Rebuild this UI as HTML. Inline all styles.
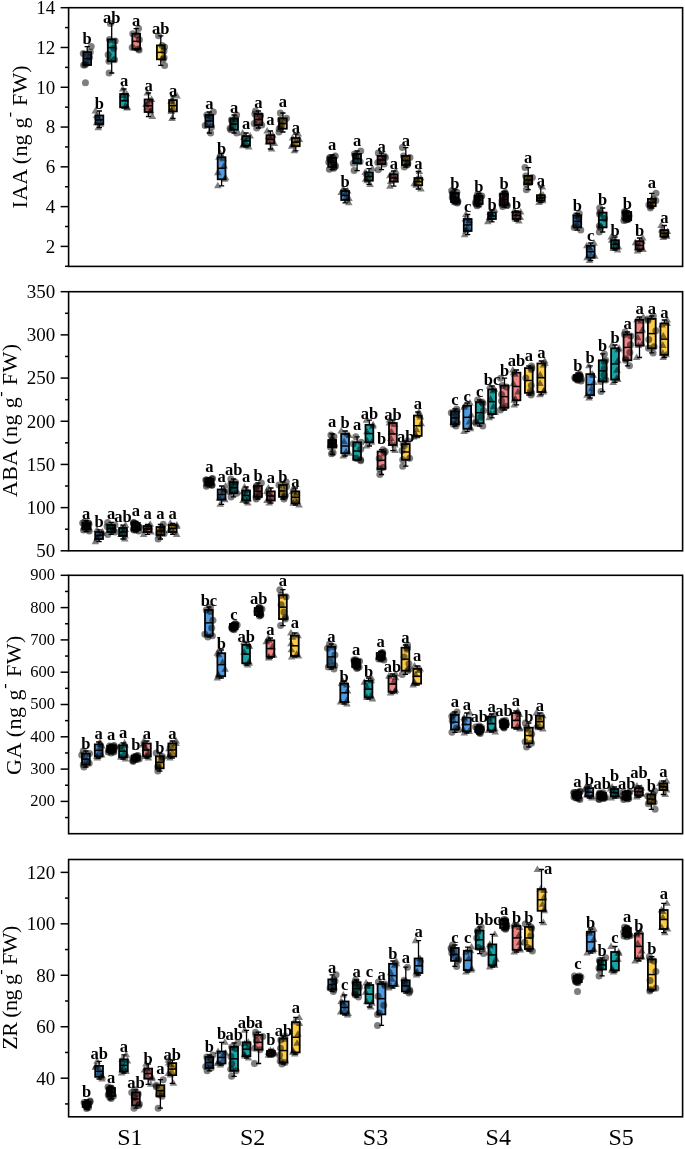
<!DOCTYPE html>
<html><head><meta charset="utf-8"><style>
html,body{margin:0;padding:0;background:#fff;overflow:hidden;width:685px;height:1149px;}
svg{display:block;will-change:transform;}
text{font-family:"Liberation Serif",serif;fill:#000;}
.tk{}
.yl{font-size:22px;}
.lab{font-size:16.5px;font-weight:bold;}
.sl{font-size:24px;}
</style></head><body>
<svg width="685" height="1149" viewBox="0 0 685 1149">
<rect width="685" height="1149" fill="#fff"/>
<path d="M60.6 246.4H68.6" stroke="#000" stroke-width="1.5"/>
<text x="55.3" y="252.8" text-anchor="end" class="tk" font-size="19">2</text>
<path d="M60.6 206.62H68.6" stroke="#000" stroke-width="1.5"/>
<text x="55.3" y="213.02" text-anchor="end" class="tk" font-size="19">4</text>
<path d="M60.6 166.83H68.6" stroke="#000" stroke-width="1.5"/>
<text x="55.3" y="173.23" text-anchor="end" class="tk" font-size="19">6</text>
<path d="M60.6 127.05H68.6" stroke="#000" stroke-width="1.5"/>
<text x="55.3" y="133.45" text-anchor="end" class="tk" font-size="19">8</text>
<path d="M60.6 87.27H68.6" stroke="#000" stroke-width="1.5"/>
<text x="55.3" y="93.67" text-anchor="end" class="tk" font-size="19">10</text>
<path d="M60.6 47.48H68.6" stroke="#000" stroke-width="1.5"/>
<text x="55.3" y="53.88" text-anchor="end" class="tk" font-size="19">12</text>
<path d="M60.6 7.7H68.6" stroke="#000" stroke-width="1.5"/>
<text x="55.3" y="14.1" text-anchor="end" class="tk" font-size="19">14</text>
<path d="M65.0 266.29H68.6" stroke="#000" stroke-width="1.5"/>
<path d="M65.0 226.51H68.6" stroke="#000" stroke-width="1.5"/>
<path d="M65.0 186.73H68.6" stroke="#000" stroke-width="1.5"/>
<path d="M65.0 146.94H68.6" stroke="#000" stroke-width="1.5"/>
<path d="M65.0 107.16H68.6" stroke="#000" stroke-width="1.5"/>
<path d="M65.0 67.38H68.6" stroke="#000" stroke-width="1.5"/>
<path d="M65.0 27.59H68.6" stroke="#000" stroke-width="1.5"/>
<rect x="68.6" y="7.7" width="614" height="258.7" fill="none" stroke="#000" stroke-width="1.6"/>
<path d="M60.6 550.8H68.6" stroke="#000" stroke-width="1.5"/>
<text x="55.3" y="557.2" text-anchor="end" class="tk" font-size="19">50</text>
<path d="M60.6 507.62H68.6" stroke="#000" stroke-width="1.5"/>
<text x="55.3" y="514.02" text-anchor="end" class="tk" font-size="19">100</text>
<path d="M60.6 464.43H68.6" stroke="#000" stroke-width="1.5"/>
<text x="55.3" y="470.83" text-anchor="end" class="tk" font-size="19">150</text>
<path d="M60.6 421.25H68.6" stroke="#000" stroke-width="1.5"/>
<text x="55.3" y="427.65" text-anchor="end" class="tk" font-size="19">200</text>
<path d="M60.6 378.07H68.6" stroke="#000" stroke-width="1.5"/>
<text x="55.3" y="384.47" text-anchor="end" class="tk" font-size="19">250</text>
<path d="M60.6 334.88H68.6" stroke="#000" stroke-width="1.5"/>
<text x="55.3" y="341.28" text-anchor="end" class="tk" font-size="19">300</text>
<path d="M60.6 291.7H68.6" stroke="#000" stroke-width="1.5"/>
<text x="55.3" y="298.1" text-anchor="end" class="tk" font-size="19">350</text>
<path d="M65.0 529.21H68.6" stroke="#000" stroke-width="1.5"/>
<path d="M65.0 486.02H68.6" stroke="#000" stroke-width="1.5"/>
<path d="M65.0 442.84H68.6" stroke="#000" stroke-width="1.5"/>
<path d="M65.0 399.66H68.6" stroke="#000" stroke-width="1.5"/>
<path d="M65.0 356.47H68.6" stroke="#000" stroke-width="1.5"/>
<path d="M65.0 313.29H68.6" stroke="#000" stroke-width="1.5"/>
<rect x="68.6" y="291.7" width="614" height="259.1" fill="none" stroke="#000" stroke-width="1.6"/>
<path d="M60.6 801.4H68.6" stroke="#000" stroke-width="1.5"/>
<text x="55.1" y="806.3" text-anchor="end" class="tk" font-size="16.5">200</text>
<path d="M60.6 769.1H68.6" stroke="#000" stroke-width="1.5"/>
<text x="55.1" y="774" text-anchor="end" class="tk" font-size="16.5">300</text>
<path d="M60.6 736.8H68.6" stroke="#000" stroke-width="1.5"/>
<text x="55.1" y="741.7" text-anchor="end" class="tk" font-size="16.5">400</text>
<path d="M60.6 704.5H68.6" stroke="#000" stroke-width="1.5"/>
<text x="55.1" y="709.4" text-anchor="end" class="tk" font-size="16.5">500</text>
<path d="M60.6 672.2H68.6" stroke="#000" stroke-width="1.5"/>
<text x="55.1" y="677.1" text-anchor="end" class="tk" font-size="16.5">600</text>
<path d="M60.6 639.9H68.6" stroke="#000" stroke-width="1.5"/>
<text x="55.1" y="644.8" text-anchor="end" class="tk" font-size="16.5">700</text>
<path d="M60.6 607.6H68.6" stroke="#000" stroke-width="1.5"/>
<text x="55.1" y="612.5" text-anchor="end" class="tk" font-size="16.5">800</text>
<path d="M60.6 575.3H68.6" stroke="#000" stroke-width="1.5"/>
<text x="55.1" y="580.2" text-anchor="end" class="tk" font-size="16.5">900</text>
<path d="M65.0 817.55H68.6" stroke="#000" stroke-width="1.5"/>
<path d="M65.0 785.25H68.6" stroke="#000" stroke-width="1.5"/>
<path d="M65.0 752.95H68.6" stroke="#000" stroke-width="1.5"/>
<path d="M65.0 720.65H68.6" stroke="#000" stroke-width="1.5"/>
<path d="M65.0 688.35H68.6" stroke="#000" stroke-width="1.5"/>
<path d="M65.0 656.05H68.6" stroke="#000" stroke-width="1.5"/>
<path d="M65.0 623.75H68.6" stroke="#000" stroke-width="1.5"/>
<path d="M65.0 591.45H68.6" stroke="#000" stroke-width="1.5"/>
<rect x="68.6" y="575.3" width="614" height="258.4" fill="none" stroke="#000" stroke-width="1.6"/>
<path d="M60.6 1078.2H68.6" stroke="#000" stroke-width="1.5"/>
<text x="55.3" y="1084.61" text-anchor="end" class="tk" font-size="19">40</text>
<path d="M60.6 1026.74H68.6" stroke="#000" stroke-width="1.5"/>
<text x="55.3" y="1033.14" text-anchor="end" class="tk" font-size="19">60</text>
<path d="M60.6 975.28H68.6" stroke="#000" stroke-width="1.5"/>
<text x="55.3" y="981.68" text-anchor="end" class="tk" font-size="19">80</text>
<path d="M60.6 923.83H68.6" stroke="#000" stroke-width="1.5"/>
<text x="55.3" y="930.23" text-anchor="end" class="tk" font-size="19">100</text>
<path d="M60.6 872.37H68.6" stroke="#000" stroke-width="1.5"/>
<text x="55.3" y="878.76" text-anchor="end" class="tk" font-size="19">120</text>
<path d="M65.0 1103.93H68.6" stroke="#000" stroke-width="1.5"/>
<path d="M65.0 1052.47H68.6" stroke="#000" stroke-width="1.5"/>
<path d="M65.0 1001.01H68.6" stroke="#000" stroke-width="1.5"/>
<path d="M65.0 949.55H68.6" stroke="#000" stroke-width="1.5"/>
<path d="M65.0 898.1H68.6" stroke="#000" stroke-width="1.5"/>
<rect x="68.6" y="859.5" width="614" height="257.3" fill="none" stroke="#000" stroke-width="1.6"/>
<text transform="translate(26.5 136.85) rotate(-90)" text-anchor="middle" class="yl" textLength="143.1" lengthAdjust="spacing">IAA (ng g<tspan dy="-11.5" font-size="16">-</tspan><tspan dy="11.5"> FW)</tspan></text>
<text transform="translate(17.1 420.55) rotate(-90)" text-anchor="middle" class="yl" textLength="153.1" lengthAdjust="spacing">ABA (ng g<tspan dy="-11.5" font-size="16">-</tspan><tspan dy="11.5"> FW)</tspan></text>
<text transform="translate(21.4 705.3) rotate(-90)" text-anchor="middle" class="yl" textLength="139.5" lengthAdjust="spacing">GA (ng g<tspan dy="-11.5" font-size="16">-</tspan><tspan dy="11.5"> FW)</tspan></text>
<text transform="translate(17.3 987.7) rotate(-90)" text-anchor="middle" class="yl" textLength="123.9" lengthAdjust="spacing">ZR (ng g<tspan dy="-11.5" font-size="16">-</tspan><tspan dy="11.5"> FW)</tspan></text>
<path d="M87.2 46.6V52.1M87.2 65V65M84.6 46.6H89.8M84.6 65H89.8" stroke="#000" stroke-width="1.3" fill="none"/>
<rect x="83.3" y="52.1" width="7.8" height="12.9" fill="#4f9ae0" fill-opacity="1" stroke="#000" stroke-width="1.8"/>
<path d="M83.3 58.55H91.1" stroke="#000" stroke-width="1.5"/>
<circle cx="91.23" cy="46.6" r="3.5" fill="#000" fill-opacity="0.5"/>
<circle cx="90.28" cy="52.1" r="3.5" fill="#000" fill-opacity="0.5"/>
<circle cx="83.57" cy="65" r="3.5" fill="#000" fill-opacity="0.5"/>
<circle cx="85.03" cy="65" r="3.5" fill="#000" fill-opacity="0.5"/>
<circle cx="83.29" cy="53.6" r="3.5" fill="#000" fill-opacity="0.5"/>
<circle cx="86.08" cy="63.5" r="3.5" fill="#000" fill-opacity="0.5"/>
<circle cx="89.54" cy="57.26" r="3.5" fill="#000" fill-opacity="0.5"/>
<circle cx="86.42" cy="55.97" r="3.5" fill="#000" fill-opacity="0.45"/>
<circle cx="87.35" cy="61.13" r="3.5" fill="#000" fill-opacity="0.45"/>
<circle cx="85.44" cy="82.8" r="3.5" fill="#000" fill-opacity="0.5"/>
<text x="87.2" y="44.01" text-anchor="middle" class="lab">b</text>
<path d="M99.4 111V115.5M99.4 124.3V127.7M96.8 111H102M96.8 127.7H102" stroke="#000" stroke-width="1.3" fill="none"/>
<rect x="95.5" y="115.5" width="7.8" height="8.8" fill="#4f9ae0" fill-opacity="1" stroke="#000" stroke-width="1.8"/>
<path d="M95.5 119.9H103.3" stroke="#000" stroke-width="1.5"/>
<path d="M95.37 106.92L99.17 113.5L91.57 113.5Z" fill="#000" fill-opacity="0.5"/>
<path d="M96.55 111.42L100.35 118L92.75 118Z" fill="#000" fill-opacity="0.5"/>
<path d="M100.56 120.22L104.36 126.8L96.76 126.8Z" fill="#000" fill-opacity="0.5"/>
<path d="M98.25 123.62L102.05 130.2L94.45 130.2Z" fill="#000" fill-opacity="0.5"/>
<path d="M97.47 112.92L101.27 119.5L93.67 119.5Z" fill="#000" fill-opacity="0.5"/>
<path d="M96.67 118.72L100.47 125.3L92.87 125.3Z" fill="#000" fill-opacity="0.5"/>
<path d="M99.61 114.06L103.41 120.64L95.81 120.64Z" fill="#000" fill-opacity="0.45"/>
<path d="M99.58 117.58L103.38 124.16L95.78 124.16Z" fill="#000" fill-opacity="0.45"/>
<text x="99.4" y="109.41" text-anchor="middle" class="lab">b</text>
<path d="M111.7 23.5V39.4M111.7 61.3V73M109.1 23.5H114.3M109.1 73H114.3" stroke="#000" stroke-width="1.3" fill="none"/>
<rect x="107.8" y="39.4" width="7.8" height="21.9" fill="#18a3a4" fill-opacity="1" stroke="#000" stroke-width="1.8"/>
<path d="M107.8 47.6H115.6" stroke="#000" stroke-width="1.5"/>
<circle cx="110.37" cy="23.5" r="3.5" fill="#000" fill-opacity="0.5"/>
<circle cx="109.51" cy="39.4" r="3.5" fill="#000" fill-opacity="0.5"/>
<circle cx="108.89" cy="61.3" r="3.5" fill="#000" fill-opacity="0.5"/>
<circle cx="109.11" cy="73" r="3.5" fill="#000" fill-opacity="0.5"/>
<circle cx="115.19" cy="40.9" r="3.5" fill="#000" fill-opacity="0.5"/>
<circle cx="114.57" cy="59.8" r="3.5" fill="#000" fill-opacity="0.5"/>
<circle cx="113.86" cy="48.16" r="3.5" fill="#000" fill-opacity="0.5"/>
<circle cx="108.16" cy="54.73" r="3.5" fill="#000" fill-opacity="0.5"/>
<text x="111.7" y="23.21" text-anchor="middle" class="lab">ab</text>
<path d="M124 89V94M124 107.3V108M121.4 89H126.6M121.4 108H126.6" stroke="#000" stroke-width="1.3" fill="none"/>
<rect x="120.1" y="94" width="7.8" height="13.3" fill="#18a3a4" fill-opacity="1" stroke="#000" stroke-width="1.8"/>
<path d="M120.1 100.65H127.9" stroke="#000" stroke-width="1.5"/>
<path d="M122.74 84.92L126.54 91.5L118.94 91.5Z" fill="#000" fill-opacity="0.5"/>
<path d="M126.68 89.92L130.48 96.5L122.88 96.5Z" fill="#000" fill-opacity="0.5"/>
<path d="M127.33 103.22L131.13 109.8L123.53 109.8Z" fill="#000" fill-opacity="0.5"/>
<path d="M126.95 103.92L130.75 110.5L123.15 110.5Z" fill="#000" fill-opacity="0.5"/>
<path d="M122.62 91.42L126.42 98L118.82 98Z" fill="#000" fill-opacity="0.5"/>
<path d="M125.53 101.72L129.33 108.3L121.73 108.3Z" fill="#000" fill-opacity="0.5"/>
<path d="M125.49 95.24L129.29 101.82L121.69 101.82Z" fill="#000" fill-opacity="0.5"/>
<text x="124" y="86.09" text-anchor="middle" class="lab">a</text>
<path d="M136.2 28.6V33.7M136.2 49V50M133.6 28.6H138.8M133.6 50H138.8" stroke="#000" stroke-width="1.3" fill="none"/>
<rect x="132.3" y="33.7" width="7.8" height="15.3" fill="#f08484" fill-opacity="1" stroke="#000" stroke-width="1.8"/>
<path d="M132.3 41.35H140.1" stroke="#000" stroke-width="1.5"/>
<circle cx="138.55" cy="28.6" r="3.5" fill="#000" fill-opacity="0.5"/>
<circle cx="132.75" cy="33.7" r="3.5" fill="#000" fill-opacity="0.5"/>
<circle cx="138.29" cy="49" r="3.5" fill="#000" fill-opacity="0.5"/>
<circle cx="139.1" cy="50" r="3.5" fill="#000" fill-opacity="0.5"/>
<circle cx="137.42" cy="35.2" r="3.5" fill="#000" fill-opacity="0.5"/>
<circle cx="132.18" cy="47.5" r="3.5" fill="#000" fill-opacity="0.5"/>
<circle cx="139.43" cy="39.82" r="3.5" fill="#000" fill-opacity="0.5"/>
<text x="136.2" y="25.9" text-anchor="middle" class="lab">a</text>
<path d="M148.5 93V99.5M148.5 112V116.5M145.9 93H151.1M145.9 116.5H151.1" stroke="#000" stroke-width="1.3" fill="none"/>
<rect x="144.6" y="99.5" width="7.8" height="12.5" fill="#f08484" fill-opacity="1" stroke="#000" stroke-width="1.8"/>
<path d="M144.6 105.75H152.4" stroke="#000" stroke-width="1.5"/>
<path d="M147.31 88.92L151.11 95.5L143.51 95.5Z" fill="#000" fill-opacity="0.5"/>
<path d="M151.57 95.42L155.37 102L147.77 102Z" fill="#000" fill-opacity="0.5"/>
<path d="M150.41 107.92L154.21 114.5L146.61 114.5Z" fill="#000" fill-opacity="0.5"/>
<path d="M152.34 112.42L156.14 119L148.54 119Z" fill="#000" fill-opacity="0.5"/>
<path d="M149.57 96.92L153.37 103.5L145.77 103.5Z" fill="#000" fill-opacity="0.5"/>
<path d="M150.64 106.42L154.44 113L146.84 113Z" fill="#000" fill-opacity="0.5"/>
<path d="M145.92 100.42L149.72 107L142.12 107Z" fill="#000" fill-opacity="0.5"/>
<path d="M147.65 99.17L151.45 105.75L143.85 105.75Z" fill="#000" fill-opacity="0.45"/>
<path d="M147.86 104.17L151.66 110.75L144.06 110.75Z" fill="#000" fill-opacity="0.45"/>
<text x="148.5" y="91.3" text-anchor="middle" class="lab">a</text>
<path d="M160.8 35.8V45.4M160.8 59.3V65.4M158.2 35.8H163.4M158.2 65.4H163.4" stroke="#000" stroke-width="1.3" fill="none"/>
<rect x="156.9" y="45.4" width="7.8" height="13.9" fill="#fdcc46" fill-opacity="1" stroke="#000" stroke-width="1.8"/>
<path d="M156.9 52.35H164.7" stroke="#000" stroke-width="1.5"/>
<circle cx="158.53" cy="35.8" r="3.5" fill="#000" fill-opacity="0.5"/>
<circle cx="162.06" cy="45.4" r="3.5" fill="#000" fill-opacity="0.5"/>
<circle cx="163.09" cy="59.3" r="3.5" fill="#000" fill-opacity="0.5"/>
<circle cx="164.63" cy="65.4" r="3.5" fill="#000" fill-opacity="0.5"/>
<circle cx="164.56" cy="46.9" r="3.5" fill="#000" fill-opacity="0.5"/>
<circle cx="164.06" cy="57.8" r="3.5" fill="#000" fill-opacity="0.5"/>
<circle cx="163.98" cy="50.96" r="3.5" fill="#000" fill-opacity="0.5"/>
<text x="160.8" y="34.41" text-anchor="middle" class="lab">ab</text>
<path d="M173 96V100.1M173 111.4V118.5M170.4 96H175.6M170.4 118.5H175.6" stroke="#000" stroke-width="1.3" fill="none"/>
<rect x="169.1" y="100.1" width="7.8" height="11.3" fill="#fdcc46" fill-opacity="1" stroke="#000" stroke-width="1.8"/>
<path d="M169.1 105.75H176.9" stroke="#000" stroke-width="1.5"/>
<path d="M177.06 91.92L180.86 98.5L173.26 98.5Z" fill="#000" fill-opacity="0.5"/>
<path d="M171.73 96.02L175.53 102.6L167.93 102.6Z" fill="#000" fill-opacity="0.5"/>
<path d="M171.26 107.32L175.06 113.9L167.46 113.9Z" fill="#000" fill-opacity="0.5"/>
<path d="M171.96 114.42L175.76 121L168.16 121Z" fill="#000" fill-opacity="0.5"/>
<path d="M171.16 97.52L174.96 104.1L167.36 104.1Z" fill="#000" fill-opacity="0.5"/>
<path d="M171.53 105.82L175.33 112.4L167.73 112.4Z" fill="#000" fill-opacity="0.5"/>
<path d="M173.1 99.41L176.9 105.99L169.3 105.99Z" fill="#000" fill-opacity="0.45"/>
<path d="M173.33 103.93L177.13 110.51L169.53 110.51Z" fill="#000" fill-opacity="0.45"/>
<text x="173" y="95.99" text-anchor="middle" class="lab">a</text>
<path d="M209.3 112V115M209.3 126.9V133M206.7 112H211.9M206.7 133H211.9" stroke="#000" stroke-width="1.3" fill="none"/>
<rect x="205.4" y="115" width="7.8" height="11.9" fill="#4f9ae0" fill-opacity="1" stroke="#000" stroke-width="1.8"/>
<path d="M205.4 120.95H213.2" stroke="#000" stroke-width="1.5"/>
<circle cx="213.35" cy="112" r="3.5" fill="#000" fill-opacity="0.5"/>
<circle cx="206.84" cy="115" r="3.5" fill="#000" fill-opacity="0.5"/>
<circle cx="211.57" cy="126.9" r="3.5" fill="#000" fill-opacity="0.5"/>
<circle cx="210.63" cy="133" r="3.5" fill="#000" fill-opacity="0.5"/>
<circle cx="210.5" cy="116.5" r="3.5" fill="#000" fill-opacity="0.5"/>
<circle cx="205.15" cy="125.4" r="3.5" fill="#000" fill-opacity="0.5"/>
<circle cx="209.12" cy="118.57" r="3.5" fill="#000" fill-opacity="0.45"/>
<circle cx="208.13" cy="123.33" r="3.5" fill="#000" fill-opacity="0.45"/>
<text x="209.3" y="109.19" text-anchor="middle" class="lab">a</text>
<path d="M221.6 153.6V157.2M221.6 179.3V185.8M219 153.6H224.2M219 185.8H224.2" stroke="#000" stroke-width="1.3" fill="none"/>
<rect x="217.7" y="157.2" width="7.8" height="22.1" fill="#4f9ae0" fill-opacity="1" stroke="#000" stroke-width="1.8"/>
<path d="M217.7 168.25H225.5" stroke="#000" stroke-width="1.5"/>
<path d="M220.27 149.52L224.07 156.1L216.47 156.1Z" fill="#000" fill-opacity="0.5"/>
<path d="M218.88 153.12L222.68 159.7L215.08 159.7Z" fill="#000" fill-opacity="0.5"/>
<path d="M224.56 175.22L228.36 181.8L220.76 181.8Z" fill="#000" fill-opacity="0.5"/>
<path d="M217.8 181.72L221.6 188.3L214 188.3Z" fill="#000" fill-opacity="0.5"/>
<path d="M223.08 154.62L226.88 161.2L219.28 161.2Z" fill="#000" fill-opacity="0.5"/>
<path d="M225.66 173.72L229.46 180.3L221.86 180.3Z" fill="#000" fill-opacity="0.5"/>
<path d="M224.12 161.96L227.92 168.54L220.32 168.54Z" fill="#000" fill-opacity="0.5"/>
<path d="M217.88 168.59L221.68 175.17L214.08 175.17Z" fill="#000" fill-opacity="0.5"/>
<text x="221.6" y="154.21" text-anchor="middle" class="lab">b</text>
<path d="M234.1 115V118.6M234.1 129.7V133M231.5 115H236.7M231.5 133H236.7" stroke="#000" stroke-width="1.3" fill="none"/>
<rect x="230.2" y="118.6" width="7.8" height="11.1" fill="#18a3a4" fill-opacity="1" stroke="#000" stroke-width="1.8"/>
<path d="M230.2 124.15H238" stroke="#000" stroke-width="1.5"/>
<circle cx="236.64" cy="115" r="3.5" fill="#000" fill-opacity="0.5"/>
<circle cx="235.37" cy="118.6" r="3.5" fill="#000" fill-opacity="0.5"/>
<circle cx="230.7" cy="129.7" r="3.5" fill="#000" fill-opacity="0.5"/>
<circle cx="236.63" cy="133" r="3.5" fill="#000" fill-opacity="0.5"/>
<circle cx="231.45" cy="120.1" r="3.5" fill="#000" fill-opacity="0.5"/>
<circle cx="230.06" cy="128.2" r="3.5" fill="#000" fill-opacity="0.5"/>
<circle cx="234.18" cy="121.93" r="3.5" fill="#000" fill-opacity="0.45"/>
<circle cx="233.04" cy="126.37" r="3.5" fill="#000" fill-opacity="0.45"/>
<text x="234.1" y="112.89" text-anchor="middle" class="lab">a</text>
<path d="M246.1 133V136.1M246.1 145.8V147M243.5 133H248.7M243.5 147H248.7" stroke="#000" stroke-width="1.3" fill="none"/>
<rect x="242.2" y="136.1" width="7.8" height="9.7" fill="#18a3a4" fill-opacity="1" stroke="#000" stroke-width="1.8"/>
<path d="M242.2 140.95H250" stroke="#000" stroke-width="1.5"/>
<path d="M242.67 128.92L246.47 135.5L238.87 135.5Z" fill="#000" fill-opacity="0.5"/>
<path d="M250.23 132.02L254.03 138.6L246.43 138.6Z" fill="#000" fill-opacity="0.5"/>
<path d="M242.87 141.72L246.67 148.3L239.07 148.3Z" fill="#000" fill-opacity="0.5"/>
<path d="M248.76 142.92L252.56 149.5L244.96 149.5Z" fill="#000" fill-opacity="0.5"/>
<path d="M243.96 133.52L247.76 140.1L240.16 140.1Z" fill="#000" fill-opacity="0.5"/>
<path d="M243.4 140.22L247.2 146.8L239.6 146.8Z" fill="#000" fill-opacity="0.5"/>
<path d="M246.94 134.93L250.74 141.51L243.14 141.51Z" fill="#000" fill-opacity="0.45"/>
<path d="M245.59 138.81L249.39 145.39L241.79 145.39Z" fill="#000" fill-opacity="0.45"/>
<text x="246.1" y="129.39" text-anchor="middle" class="lab">a</text>
<path d="M258.4 111V114M258.4 125V128M255.8 111H261M255.8 128H261" stroke="#000" stroke-width="1.3" fill="none"/>
<rect x="254.5" y="114" width="7.8" height="11" fill="#f08484" fill-opacity="1" stroke="#000" stroke-width="1.8"/>
<path d="M254.5 119.5H262.3" stroke="#000" stroke-width="1.5"/>
<circle cx="255.44" cy="111" r="3.5" fill="#000" fill-opacity="0.5"/>
<circle cx="254.82" cy="114" r="3.5" fill="#000" fill-opacity="0.5"/>
<circle cx="261.77" cy="125" r="3.5" fill="#000" fill-opacity="0.5"/>
<circle cx="256.76" cy="128" r="3.5" fill="#000" fill-opacity="0.5"/>
<circle cx="260.54" cy="115.5" r="3.5" fill="#000" fill-opacity="0.5"/>
<circle cx="254.23" cy="123.5" r="3.5" fill="#000" fill-opacity="0.5"/>
<circle cx="259.27" cy="117.3" r="3.5" fill="#000" fill-opacity="0.45"/>
<circle cx="258.32" cy="121.7" r="3.5" fill="#000" fill-opacity="0.45"/>
<text x="258.4" y="108.3" text-anchor="middle" class="lab">a</text>
<path d="M270.4 131V135.2M270.4 143.5V149M267.8 131H273M267.8 149H273" stroke="#000" stroke-width="1.3" fill="none"/>
<rect x="266.5" y="135.2" width="7.8" height="8.3" fill="#f08484" fill-opacity="1" stroke="#000" stroke-width="1.8"/>
<path d="M266.5 139.35H274.3" stroke="#000" stroke-width="1.5"/>
<path d="M267.18 126.92L270.98 133.5L263.38 133.5Z" fill="#000" fill-opacity="0.5"/>
<path d="M272.83 131.12L276.63 137.7L269.03 137.7Z" fill="#000" fill-opacity="0.5"/>
<path d="M274.46 139.42L278.26 146L270.66 146Z" fill="#000" fill-opacity="0.5"/>
<path d="M271.66 144.92L275.46 151.5L267.86 151.5Z" fill="#000" fill-opacity="0.5"/>
<path d="M268.67 132.62L272.47 139.2L264.87 139.2Z" fill="#000" fill-opacity="0.5"/>
<path d="M268.32 137.92L272.12 144.5L264.52 144.5Z" fill="#000" fill-opacity="0.5"/>
<path d="M270.35 133.61L274.15 140.19L266.55 140.19Z" fill="#000" fill-opacity="0.45"/>
<path d="M271.86 136.93L275.66 143.51L268.06 143.51Z" fill="#000" fill-opacity="0.45"/>
<text x="270.4" y="125.19" text-anchor="middle" class="lab">a</text>
<path d="M282.9 113V118.3M282.9 128.7V132M280.3 113H285.5M280.3 132H285.5" stroke="#000" stroke-width="1.3" fill="none"/>
<rect x="279" y="118.3" width="7.8" height="10.4" fill="#fdcc46" fill-opacity="1" stroke="#000" stroke-width="1.8"/>
<path d="M279 123.5H286.8" stroke="#000" stroke-width="1.5"/>
<circle cx="280.37" cy="113" r="3.5" fill="#000" fill-opacity="0.5"/>
<circle cx="286.46" cy="118.3" r="3.5" fill="#000" fill-opacity="0.5"/>
<circle cx="279.23" cy="128.7" r="3.5" fill="#000" fill-opacity="0.5"/>
<circle cx="278.99" cy="132" r="3.5" fill="#000" fill-opacity="0.5"/>
<circle cx="280.37" cy="119.8" r="3.5" fill="#000" fill-opacity="0.5"/>
<circle cx="280.51" cy="127.2" r="3.5" fill="#000" fill-opacity="0.5"/>
<circle cx="283.31" cy="121.42" r="3.5" fill="#000" fill-opacity="0.45"/>
<circle cx="281.66" cy="125.58" r="3.5" fill="#000" fill-opacity="0.45"/>
<text x="282.9" y="107.39" text-anchor="middle" class="lab">a</text>
<path d="M295.8 134V138M295.8 146.2V150.8M293.2 134H298.4M293.2 150.8H298.4" stroke="#000" stroke-width="1.3" fill="none"/>
<rect x="291.9" y="138" width="7.8" height="8.2" fill="#fdcc46" fill-opacity="1" stroke="#000" stroke-width="1.8"/>
<path d="M291.9 142.1H299.7" stroke="#000" stroke-width="1.5"/>
<path d="M298.28 129.92L302.08 136.5L294.48 136.5Z" fill="#000" fill-opacity="0.5"/>
<path d="M292.48 133.92L296.28 140.5L288.68 140.5Z" fill="#000" fill-opacity="0.5"/>
<path d="M291.62 142.12L295.42 148.7L287.82 148.7Z" fill="#000" fill-opacity="0.5"/>
<path d="M294.32 146.72L298.12 153.3L290.52 153.3Z" fill="#000" fill-opacity="0.5"/>
<path d="M299.38 135.42L303.18 142L295.58 142Z" fill="#000" fill-opacity="0.5"/>
<path d="M292.84 140.62L296.64 147.2L289.04 147.2Z" fill="#000" fill-opacity="0.5"/>
<path d="M296.09 136.38L299.89 142.96L292.29 142.96Z" fill="#000" fill-opacity="0.45"/>
<path d="M295.72 139.66L299.52 146.24L291.92 146.24Z" fill="#000" fill-opacity="0.45"/>
<text x="295.8" y="132.59" text-anchor="middle" class="lab">a</text>
<path d="M332.2 155V157.7M332.2 166.9V169.7M329.6 155H334.8M329.6 169.7H334.8" stroke="#000" stroke-width="1.3" fill="none"/>
<rect x="328.3" y="157.7" width="7.8" height="9.2" fill="#4f9ae0" fill-opacity="1" stroke="#000" stroke-width="1.8"/>
<path d="M328.3 162.3H336.1" stroke="#000" stroke-width="1.5"/>
<circle cx="335.26" cy="156" r="3.5" fill="#000" fill-opacity="0.55"/>
<circle cx="329.79" cy="157.5" r="3.5" fill="#000" fill-opacity="0.55"/>
<circle cx="332.54" cy="157.7" r="3.5" fill="#000" fill-opacity="0.55"/>
<circle cx="328.85" cy="162.3" r="3.5" fill="#000" fill-opacity="0.55"/>
<circle cx="334.3" cy="166.9" r="3.5" fill="#000" fill-opacity="0.55"/>
<circle cx="333.78" cy="168.2" r="3.5" fill="#000" fill-opacity="0.55"/>
<circle cx="329.42" cy="169.2" r="3.5" fill="#000" fill-opacity="0.55"/>
<circle cx="333.95" cy="163.3" r="3.5" fill="#000" fill-opacity="0.55"/>
<circle cx="329.67" cy="158.7" r="3.5" fill="#000" fill-opacity="0.55"/>
<circle cx="335.61" cy="165.9" r="3.5" fill="#000" fill-opacity="0.55"/>
<circle cx="331.28" cy="160.46" r="3.5" fill="#000" fill-opacity="0.45"/>
<circle cx="333.32" cy="164.14" r="3.5" fill="#000" fill-opacity="0.45"/>
<text x="332.2" y="150.09" text-anchor="middle" class="lab">a</text>
<path d="M345.1 189V191M345.1 200V202.8M342.5 189H347.7M342.5 202.8H347.7" stroke="#000" stroke-width="1.3" fill="none"/>
<rect x="341.2" y="191" width="7.8" height="9" fill="#4f9ae0" fill-opacity="1" stroke="#000" stroke-width="1.8"/>
<path d="M341.2 195.5H349" stroke="#000" stroke-width="1.5"/>
<path d="M343.29 184.92L347.09 191.5L339.49 191.5Z" fill="#000" fill-opacity="0.5"/>
<path d="M347.7 186.92L351.5 193.5L343.9 193.5Z" fill="#000" fill-opacity="0.5"/>
<path d="M346.93 195.92L350.73 202.5L343.13 202.5Z" fill="#000" fill-opacity="0.5"/>
<path d="M348.77 198.72L352.57 205.3L344.97 205.3Z" fill="#000" fill-opacity="0.5"/>
<path d="M341.19 188.42L344.99 195L337.39 195Z" fill="#000" fill-opacity="0.5"/>
<path d="M348.97 194.42L352.77 201L345.17 201Z" fill="#000" fill-opacity="0.5"/>
<path d="M345.59 189.62L349.39 196.2L341.79 196.2Z" fill="#000" fill-opacity="0.45"/>
<path d="M346.05 193.22L349.85 199.8L342.25 199.8Z" fill="#000" fill-opacity="0.45"/>
<text x="345.1" y="186.91" text-anchor="middle" class="lab">b</text>
<path d="M357.1 151V154M357.1 163.2V170.6M354.5 151H359.7M354.5 170.6H359.7" stroke="#000" stroke-width="1.3" fill="none"/>
<rect x="353.2" y="154" width="7.8" height="9.2" fill="#18a3a4" fill-opacity="1" stroke="#000" stroke-width="1.8"/>
<path d="M353.2 158.6H361" stroke="#000" stroke-width="1.5"/>
<circle cx="360.75" cy="151" r="3.5" fill="#000" fill-opacity="0.5"/>
<circle cx="354.4" cy="154" r="3.5" fill="#000" fill-opacity="0.5"/>
<circle cx="353.31" cy="163.2" r="3.5" fill="#000" fill-opacity="0.5"/>
<circle cx="354.15" cy="170.6" r="3.5" fill="#000" fill-opacity="0.5"/>
<circle cx="355.55" cy="155.5" r="3.5" fill="#000" fill-opacity="0.5"/>
<circle cx="360.08" cy="161.7" r="3.5" fill="#000" fill-opacity="0.5"/>
<circle cx="355.96" cy="156.76" r="3.5" fill="#000" fill-opacity="0.45"/>
<circle cx="355.79" cy="160.44" r="3.5" fill="#000" fill-opacity="0.45"/>
<text x="357.1" y="146.09" text-anchor="middle" class="lab">a</text>
<path d="M369 168.7V172.4M369 180.7V184.4M366.4 168.7H371.6M366.4 184.4H371.6" stroke="#000" stroke-width="1.3" fill="none"/>
<rect x="365.1" y="172.4" width="7.8" height="8.3" fill="#18a3a4" fill-opacity="1" stroke="#000" stroke-width="1.8"/>
<path d="M365.1 176.55H372.9" stroke="#000" stroke-width="1.5"/>
<path d="M372.51 164.62L376.31 171.2L368.71 171.2Z" fill="#000" fill-opacity="0.5"/>
<path d="M365.17 168.32L368.97 174.9L361.37 174.9Z" fill="#000" fill-opacity="0.5"/>
<path d="M367.2 176.62L371 183.2L363.4 183.2Z" fill="#000" fill-opacity="0.5"/>
<path d="M370.14 180.32L373.94 186.9L366.34 186.9Z" fill="#000" fill-opacity="0.5"/>
<path d="M366.38 169.82L370.18 176.4L362.58 176.4Z" fill="#000" fill-opacity="0.5"/>
<path d="M365.57 175.12L369.37 181.7L361.77 181.7Z" fill="#000" fill-opacity="0.5"/>
<path d="M370.24 170.81L374.04 177.39L366.44 177.39Z" fill="#000" fill-opacity="0.45"/>
<path d="M368.83 174.13L372.63 180.71L365.03 180.71Z" fill="#000" fill-opacity="0.45"/>
<text x="369" y="165.79" text-anchor="middle" class="lab">a</text>
<path d="M381.5 153V155.9M381.5 164.1V169.7M378.9 153H384.1M378.9 169.7H384.1" stroke="#000" stroke-width="1.3" fill="none"/>
<rect x="377.6" y="155.9" width="7.8" height="8.2" fill="#f08484" fill-opacity="1" stroke="#000" stroke-width="1.8"/>
<path d="M377.6 160H385.4" stroke="#000" stroke-width="1.5"/>
<circle cx="378.28" cy="153" r="3.5" fill="#000" fill-opacity="0.5"/>
<circle cx="384.13" cy="155.9" r="3.5" fill="#000" fill-opacity="0.5"/>
<circle cx="384.12" cy="164.1" r="3.5" fill="#000" fill-opacity="0.5"/>
<circle cx="378.26" cy="169.7" r="3.5" fill="#000" fill-opacity="0.5"/>
<circle cx="385.45" cy="157.4" r="3.5" fill="#000" fill-opacity="0.5"/>
<circle cx="377.81" cy="162.6" r="3.5" fill="#000" fill-opacity="0.5"/>
<circle cx="380.41" cy="158.36" r="3.5" fill="#000" fill-opacity="0.45"/>
<circle cx="380.36" cy="161.64" r="3.5" fill="#000" fill-opacity="0.45"/>
<text x="381.5" y="151.99" text-anchor="middle" class="lab">a</text>
<path d="M393.8 171V174.3M393.8 181.6V186.2M391.2 171H396.4M391.2 186.2H396.4" stroke="#000" stroke-width="1.3" fill="none"/>
<rect x="389.9" y="174.3" width="7.8" height="7.3" fill="#f08484" fill-opacity="1" stroke="#000" stroke-width="1.8"/>
<path d="M389.9 177.95H397.7" stroke="#000" stroke-width="1.5"/>
<path d="M395.81 166.92L399.61 173.5L392.01 173.5Z" fill="#000" fill-opacity="0.5"/>
<path d="M391.43 170.22L395.23 176.8L387.63 176.8Z" fill="#000" fill-opacity="0.5"/>
<path d="M390.66 177.52L394.46 184.1L386.86 184.1Z" fill="#000" fill-opacity="0.5"/>
<path d="M389.93 182.12L393.73 188.7L386.13 188.7Z" fill="#000" fill-opacity="0.5"/>
<path d="M389.79 171.72L393.59 178.3L385.99 178.3Z" fill="#000" fill-opacity="0.5"/>
<path d="M395.26 176.02L399.06 182.6L391.46 182.6Z" fill="#000" fill-opacity="0.5"/>
<path d="M394.95 172.41L398.75 178.99L391.15 178.99Z" fill="#000" fill-opacity="0.45"/>
<path d="M395.2 175.33L399 181.91L391.4 181.91Z" fill="#000" fill-opacity="0.45"/>
<text x="393.8" y="169.09" text-anchor="middle" class="lab">a</text>
<path d="M405.8 147.6V155.9M405.8 165V167M403.2 147.6H408.4M403.2 167H408.4" stroke="#000" stroke-width="1.3" fill="none"/>
<rect x="401.9" y="155.9" width="7.8" height="9.1" fill="#fdcc46" fill-opacity="1" stroke="#000" stroke-width="1.8"/>
<path d="M401.9 160.45H409.7" stroke="#000" stroke-width="1.5"/>
<circle cx="402.41" cy="147.6" r="3.5" fill="#000" fill-opacity="0.5"/>
<circle cx="403.53" cy="155.9" r="3.5" fill="#000" fill-opacity="0.5"/>
<circle cx="407.32" cy="165" r="3.5" fill="#000" fill-opacity="0.5"/>
<circle cx="404.28" cy="167" r="3.5" fill="#000" fill-opacity="0.5"/>
<circle cx="409.98" cy="157.4" r="3.5" fill="#000" fill-opacity="0.5"/>
<circle cx="407.89" cy="163.5" r="3.5" fill="#000" fill-opacity="0.5"/>
<circle cx="404.89" cy="158.63" r="3.5" fill="#000" fill-opacity="0.45"/>
<circle cx="405.26" cy="162.27" r="3.5" fill="#000" fill-opacity="0.45"/>
<text x="405.8" y="145.59" text-anchor="middle" class="lab">a</text>
<path d="M418.3 171.5V178M418.3 185.3V189M415.7 171.5H420.9M415.7 189H420.9" stroke="#000" stroke-width="1.3" fill="none"/>
<rect x="414.4" y="178" width="7.8" height="7.3" fill="#fdcc46" fill-opacity="1" stroke="#000" stroke-width="1.8"/>
<path d="M414.4 181.65H422.2" stroke="#000" stroke-width="1.5"/>
<path d="M419.36 167.42L423.16 174L415.56 174Z" fill="#000" fill-opacity="0.5"/>
<path d="M420.71 173.92L424.51 180.5L416.91 180.5Z" fill="#000" fill-opacity="0.5"/>
<path d="M416.07 181.22L419.87 187.8L412.27 187.8Z" fill="#000" fill-opacity="0.5"/>
<path d="M420.94 184.92L424.74 191.5L417.14 191.5Z" fill="#000" fill-opacity="0.5"/>
<path d="M416.94 175.42L420.74 182L413.14 182Z" fill="#000" fill-opacity="0.5"/>
<path d="M414.19 179.72L417.99 186.3L410.39 186.3Z" fill="#000" fill-opacity="0.5"/>
<path d="M417.11 176.11L420.91 182.69L413.31 182.69Z" fill="#000" fill-opacity="0.45"/>
<path d="M417.6 179.03L421.4 185.61L413.8 185.61Z" fill="#000" fill-opacity="0.45"/>
<text x="418.3" y="169.09" text-anchor="middle" class="lab">a</text>
<path d="M454.9 189.7V193M454.9 202V203.5M452.3 189.7H457.5M452.3 203.5H457.5" stroke="#000" stroke-width="1.3" fill="none"/>
<rect x="451" y="193" width="7.8" height="9" fill="#4f9ae0" fill-opacity="1" stroke="#000" stroke-width="1.8"/>
<path d="M451 197.5H458.8" stroke="#000" stroke-width="1.5"/>
<circle cx="451.68" cy="190.7" r="3.5" fill="#000" fill-opacity="0.55"/>
<circle cx="456.85" cy="192.2" r="3.5" fill="#000" fill-opacity="0.55"/>
<circle cx="453.29" cy="193" r="3.5" fill="#000" fill-opacity="0.55"/>
<circle cx="452.31" cy="197.5" r="3.5" fill="#000" fill-opacity="0.55"/>
<circle cx="454.36" cy="202" r="3.5" fill="#000" fill-opacity="0.55"/>
<circle cx="457.78" cy="202" r="3.5" fill="#000" fill-opacity="0.55"/>
<circle cx="457.13" cy="203" r="3.5" fill="#000" fill-opacity="0.55"/>
<circle cx="453.21" cy="198.5" r="3.5" fill="#000" fill-opacity="0.55"/>
<circle cx="452.45" cy="194" r="3.5" fill="#000" fill-opacity="0.55"/>
<circle cx="457.83" cy="201" r="3.5" fill="#000" fill-opacity="0.55"/>
<circle cx="455.11" cy="195.7" r="3.5" fill="#000" fill-opacity="0.45"/>
<circle cx="455.5" cy="199.3" r="3.5" fill="#000" fill-opacity="0.45"/>
<text x="454.9" y="188.51" text-anchor="middle" class="lab">b</text>
<path d="M467.7 214.5V219M467.7 231V234.7M465.1 214.5H470.3M465.1 234.7H470.3" stroke="#000" stroke-width="1.3" fill="none"/>
<rect x="463.8" y="219" width="7.8" height="12" fill="#4f9ae0" fill-opacity="1" stroke="#000" stroke-width="1.8"/>
<path d="M463.8 225H471.6" stroke="#000" stroke-width="1.5"/>
<path d="M465.81 210.42L469.61 217L462.01 217Z" fill="#000" fill-opacity="0.5"/>
<path d="M465.34 214.92L469.14 221.5L461.54 221.5Z" fill="#000" fill-opacity="0.5"/>
<path d="M465.84 226.92L469.64 233.5L462.04 233.5Z" fill="#000" fill-opacity="0.5"/>
<path d="M464.67 230.62L468.47 237.2L460.87 237.2Z" fill="#000" fill-opacity="0.5"/>
<path d="M468.97 216.42L472.77 223L465.17 223Z" fill="#000" fill-opacity="0.5"/>
<path d="M466.49 225.42L470.29 232L462.69 232Z" fill="#000" fill-opacity="0.5"/>
<path d="M468.79 218.52L472.59 225.1L464.99 225.1Z" fill="#000" fill-opacity="0.45"/>
<path d="M467.56 223.32L471.36 229.9L463.76 229.9Z" fill="#000" fill-opacity="0.45"/>
<text x="467.7" y="212.09" text-anchor="middle" class="lab">c</text>
<path d="M478.8 193.3V196M478.8 204V206.2M476.2 193.3H481.4M476.2 206.2H481.4" stroke="#000" stroke-width="1.3" fill="none"/>
<rect x="474.9" y="196" width="7.8" height="8" fill="#18a3a4" fill-opacity="1" stroke="#000" stroke-width="1.8"/>
<path d="M474.9 200H482.7" stroke="#000" stroke-width="1.5"/>
<circle cx="477.67" cy="194.3" r="3.5" fill="#000" fill-opacity="0.55"/>
<circle cx="479.17" cy="195.8" r="3.5" fill="#000" fill-opacity="0.55"/>
<circle cx="481.79" cy="196" r="3.5" fill="#000" fill-opacity="0.55"/>
<circle cx="477.18" cy="200" r="3.5" fill="#000" fill-opacity="0.55"/>
<circle cx="476.2" cy="204" r="3.5" fill="#000" fill-opacity="0.55"/>
<circle cx="478.99" cy="204.7" r="3.5" fill="#000" fill-opacity="0.55"/>
<circle cx="476.97" cy="205.7" r="3.5" fill="#000" fill-opacity="0.55"/>
<circle cx="476.07" cy="201" r="3.5" fill="#000" fill-opacity="0.55"/>
<circle cx="476.43" cy="197" r="3.5" fill="#000" fill-opacity="0.55"/>
<circle cx="475.65" cy="203" r="3.5" fill="#000" fill-opacity="0.55"/>
<circle cx="477.91" cy="198.4" r="3.5" fill="#000" fill-opacity="0.45"/>
<circle cx="478.24" cy="201.6" r="3.5" fill="#000" fill-opacity="0.45"/>
<text x="478.8" y="192.21" text-anchor="middle" class="lab">b</text>
<path d="M492 210V212.6M492 219V221.8M489.4 210H494.6M489.4 221.8H494.6" stroke="#000" stroke-width="1.3" fill="none"/>
<rect x="488.1" y="212.6" width="7.8" height="6.4" fill="#18a3a4" fill-opacity="1" stroke="#000" stroke-width="1.8"/>
<path d="M488.1 215.8H495.9" stroke="#000" stroke-width="1.5"/>
<path d="M494.7 205.92L498.5 212.5L490.9 212.5Z" fill="#000" fill-opacity="0.5"/>
<path d="M490.07 208.52L493.87 215.1L486.27 215.1Z" fill="#000" fill-opacity="0.5"/>
<path d="M490.13 214.92L493.93 221.5L486.33 221.5Z" fill="#000" fill-opacity="0.5"/>
<path d="M487.82 217.72L491.62 224.3L484.02 224.3Z" fill="#000" fill-opacity="0.5"/>
<path d="M490.95 210.02L494.75 216.6L487.15 216.6Z" fill="#000" fill-opacity="0.5"/>
<path d="M489.35 213.42L493.15 220L485.55 220Z" fill="#000" fill-opacity="0.5"/>
<path d="M491.24 210.44L495.04 217.02L487.44 217.02Z" fill="#000" fill-opacity="0.45"/>
<path d="M491.84 213L495.64 219.58L488.04 219.58Z" fill="#000" fill-opacity="0.45"/>
<text x="492" y="209.71" text-anchor="middle" class="lab">b</text>
<path d="M504 191.5V194M504 205V207.1M501.4 191.5H506.6M501.4 207.1H506.6" stroke="#000" stroke-width="1.3" fill="none"/>
<rect x="500.1" y="194" width="7.8" height="11" fill="#f08484" fill-opacity="1" stroke="#000" stroke-width="1.8"/>
<path d="M500.1 199.5H507.9" stroke="#000" stroke-width="1.5"/>
<circle cx="505.11" cy="192.5" r="3.5" fill="#000" fill-opacity="0.55"/>
<circle cx="505.05" cy="194" r="3.5" fill="#000" fill-opacity="0.55"/>
<circle cx="505.1" cy="194" r="3.5" fill="#000" fill-opacity="0.55"/>
<circle cx="504.32" cy="199.5" r="3.5" fill="#000" fill-opacity="0.55"/>
<circle cx="506.72" cy="205" r="3.5" fill="#000" fill-opacity="0.55"/>
<circle cx="507.29" cy="205.6" r="3.5" fill="#000" fill-opacity="0.55"/>
<circle cx="502.65" cy="206.6" r="3.5" fill="#000" fill-opacity="0.55"/>
<circle cx="502.01" cy="200.5" r="3.5" fill="#000" fill-opacity="0.55"/>
<circle cx="502.11" cy="195" r="3.5" fill="#000" fill-opacity="0.55"/>
<circle cx="501.89" cy="204" r="3.5" fill="#000" fill-opacity="0.55"/>
<circle cx="505.15" cy="197.3" r="3.5" fill="#000" fill-opacity="0.45"/>
<circle cx="504.69" cy="201.7" r="3.5" fill="#000" fill-opacity="0.45"/>
<text x="504" y="188.51" text-anchor="middle" class="lab">b</text>
<path d="M516.5 210.8V212M516.5 219V221M513.9 210.8H519.1M513.9 221H519.1" stroke="#000" stroke-width="1.3" fill="none"/>
<rect x="512.6" y="212" width="7.8" height="7" fill="#f08484" fill-opacity="1" stroke="#000" stroke-width="1.8"/>
<path d="M512.6 215.5H520.4" stroke="#000" stroke-width="1.5"/>
<path d="M514.2 206.72L518 213.3L510.4 213.3Z" fill="#000" fill-opacity="0.5"/>
<path d="M520.64 207.92L524.44 214.5L516.84 214.5Z" fill="#000" fill-opacity="0.5"/>
<path d="M515.45 214.92L519.25 221.5L511.65 221.5Z" fill="#000" fill-opacity="0.5"/>
<path d="M518.88 216.92L522.68 223.5L515.08 223.5Z" fill="#000" fill-opacity="0.5"/>
<path d="M515.23 209.42L519.03 216L511.43 216Z" fill="#000" fill-opacity="0.5"/>
<path d="M520.29 213.42L524.09 220L516.49 220Z" fill="#000" fill-opacity="0.5"/>
<path d="M517.01 210.02L520.81 216.6L513.21 216.6Z" fill="#000" fill-opacity="0.45"/>
<path d="M515.85 212.82L519.65 219.4L512.05 219.4Z" fill="#000" fill-opacity="0.45"/>
<text x="516.5" y="208.71" text-anchor="middle" class="lab">b</text>
<path d="M528.2 167.6V175.9M528.2 184.1V189.7M525.6 167.6H530.8M525.6 189.7H530.8" stroke="#000" stroke-width="1.3" fill="none"/>
<rect x="524.3" y="175.9" width="7.8" height="8.2" fill="#fdcc46" fill-opacity="1" stroke="#000" stroke-width="1.8"/>
<path d="M524.3 180H532.1" stroke="#000" stroke-width="1.5"/>
<circle cx="524.98" cy="167.6" r="3.5" fill="#000" fill-opacity="0.5"/>
<circle cx="525.73" cy="175.9" r="3.5" fill="#000" fill-opacity="0.5"/>
<circle cx="526.34" cy="184.1" r="3.5" fill="#000" fill-opacity="0.5"/>
<circle cx="526.36" cy="189.7" r="3.5" fill="#000" fill-opacity="0.5"/>
<circle cx="532.31" cy="177.4" r="3.5" fill="#000" fill-opacity="0.5"/>
<circle cx="529.98" cy="182.6" r="3.5" fill="#000" fill-opacity="0.5"/>
<circle cx="529.6" cy="178.36" r="3.5" fill="#000" fill-opacity="0.45"/>
<circle cx="527.63" cy="181.64" r="3.5" fill="#000" fill-opacity="0.45"/>
<text x="528.2" y="162.79" text-anchor="middle" class="lab">a</text>
<path d="M540.8 186.9V195.2M540.8 200.7V202.5M538.2 186.9H543.4M538.2 202.5H543.4" stroke="#000" stroke-width="1.3" fill="none"/>
<rect x="536.9" y="195.2" width="7.8" height="5.5" fill="#fdcc46" fill-opacity="1" stroke="#000" stroke-width="1.8"/>
<path d="M536.9 197.95H544.7" stroke="#000" stroke-width="1.5"/>
<path d="M542.39 182.82L546.19 189.4L538.59 189.4Z" fill="#000" fill-opacity="0.5"/>
<path d="M543.02 191.12L546.82 197.7L539.22 197.7Z" fill="#000" fill-opacity="0.5"/>
<path d="M542.69 196.62L546.49 203.2L538.89 203.2Z" fill="#000" fill-opacity="0.5"/>
<path d="M539.01 198.42L542.81 205L535.21 205Z" fill="#000" fill-opacity="0.5"/>
<path d="M539.51 192.62L543.31 199.2L535.71 199.2Z" fill="#000" fill-opacity="0.5"/>
<path d="M539.34 195.12L543.14 201.7L535.54 201.7Z" fill="#000" fill-opacity="0.5"/>
<path d="M541.06 192.77L544.86 199.35L537.26 199.35Z" fill="#000" fill-opacity="0.45"/>
<path d="M540.48 194.97L544.28 201.55L536.68 201.55Z" fill="#000" fill-opacity="0.45"/>
<text x="540.8" y="185.79" text-anchor="middle" class="lab">a</text>
<path d="M577.3 213.6V215.4M577.3 227.4V230.1M574.7 213.6H579.9M574.7 230.1H579.9" stroke="#000" stroke-width="1.3" fill="none"/>
<rect x="573.4" y="215.4" width="7.8" height="12" fill="#4f9ae0" fill-opacity="1" stroke="#000" stroke-width="1.8"/>
<path d="M573.4 221.4H581.2" stroke="#000" stroke-width="1.5"/>
<circle cx="579.27" cy="213.6" r="3.5" fill="#000" fill-opacity="0.5"/>
<circle cx="576.03" cy="215.4" r="3.5" fill="#000" fill-opacity="0.5"/>
<circle cx="574.2" cy="227.4" r="3.5" fill="#000" fill-opacity="0.5"/>
<circle cx="580.75" cy="230.1" r="3.5" fill="#000" fill-opacity="0.5"/>
<circle cx="578.78" cy="216.9" r="3.5" fill="#000" fill-opacity="0.5"/>
<circle cx="576.16" cy="225.9" r="3.5" fill="#000" fill-opacity="0.5"/>
<circle cx="578.31" cy="219" r="3.5" fill="#000" fill-opacity="0.45"/>
<circle cx="578.48" cy="223.8" r="3.5" fill="#000" fill-opacity="0.45"/>
<text x="577.3" y="210.61" text-anchor="middle" class="lab">b</text>
<path d="M590.7 243V245.8M590.7 257.7V260.5M588.1 243H593.3M588.1 260.5H593.3" stroke="#000" stroke-width="1.3" fill="none"/>
<rect x="586.8" y="245.8" width="7.8" height="11.9" fill="#4f9ae0" fill-opacity="1" stroke="#000" stroke-width="1.8"/>
<path d="M586.8 251.75H594.6" stroke="#000" stroke-width="1.5"/>
<path d="M594.05 238.92L597.85 245.5L590.25 245.5Z" fill="#000" fill-opacity="0.5"/>
<path d="M586.79 241.72L590.59 248.3L582.99 248.3Z" fill="#000" fill-opacity="0.5"/>
<path d="M587.06 253.62L590.86 260.2L583.26 260.2Z" fill="#000" fill-opacity="0.5"/>
<path d="M589.43 256.42L593.23 263L585.63 263Z" fill="#000" fill-opacity="0.5"/>
<path d="M589.27 243.22L593.07 249.8L585.47 249.8Z" fill="#000" fill-opacity="0.5"/>
<path d="M594.77 252.12L598.57 258.7L590.97 258.7Z" fill="#000" fill-opacity="0.5"/>
<path d="M590.33 245.29L594.13 251.87L586.53 251.87Z" fill="#000" fill-opacity="0.45"/>
<path d="M590.55 250.05L594.35 256.63L586.75 256.63Z" fill="#000" fill-opacity="0.45"/>
<text x="590.7" y="240.99" text-anchor="middle" class="lab">c</text>
<path d="M602.7 208V212.6M602.7 227.4V232M600.1 208H605.3M600.1 232H605.3" stroke="#000" stroke-width="1.3" fill="none"/>
<rect x="598.8" y="212.6" width="7.8" height="14.8" fill="#18a3a4" fill-opacity="1" stroke="#000" stroke-width="1.8"/>
<path d="M598.8 220H606.6" stroke="#000" stroke-width="1.5"/>
<circle cx="599.69" cy="208" r="3.5" fill="#000" fill-opacity="0.5"/>
<circle cx="600.13" cy="212.6" r="3.5" fill="#000" fill-opacity="0.5"/>
<circle cx="600.24" cy="227.4" r="3.5" fill="#000" fill-opacity="0.5"/>
<circle cx="599.31" cy="232" r="3.5" fill="#000" fill-opacity="0.5"/>
<circle cx="599.59" cy="214.1" r="3.5" fill="#000" fill-opacity="0.5"/>
<circle cx="599.31" cy="225.9" r="3.5" fill="#000" fill-opacity="0.5"/>
<circle cx="604.51" cy="218.52" r="3.5" fill="#000" fill-opacity="0.5"/>
<text x="602.7" y="205.11" text-anchor="middle" class="lab">b</text>
<path d="M615 237V240.2M615 248.5V250M612.4 237H617.6M612.4 250H617.6" stroke="#000" stroke-width="1.3" fill="none"/>
<rect x="611.1" y="240.2" width="7.8" height="8.3" fill="#18a3a4" fill-opacity="1" stroke="#000" stroke-width="1.8"/>
<path d="M611.1 244.35H618.9" stroke="#000" stroke-width="1.5"/>
<path d="M611.29 232.92L615.09 239.5L607.49 239.5Z" fill="#000" fill-opacity="0.5"/>
<path d="M611.67 236.12L615.47 242.7L607.87 242.7Z" fill="#000" fill-opacity="0.5"/>
<path d="M613.26 244.42L617.06 251L609.46 251Z" fill="#000" fill-opacity="0.5"/>
<path d="M617.58 245.92L621.38 252.5L613.78 252.5Z" fill="#000" fill-opacity="0.5"/>
<path d="M616.25 237.62L620.05 244.2L612.45 244.2Z" fill="#000" fill-opacity="0.5"/>
<path d="M618.45 242.92L622.25 249.5L614.65 249.5Z" fill="#000" fill-opacity="0.5"/>
<path d="M615.35 238.61L619.15 245.19L611.55 245.19Z" fill="#000" fill-opacity="0.45"/>
<path d="M615.43 241.93L619.23 248.51L611.63 248.51Z" fill="#000" fill-opacity="0.45"/>
<text x="615" y="236.31" text-anchor="middle" class="lab">b</text>
<path d="M627.3 210.8V212M627.3 220V221M624.7 210.8H629.9M624.7 221H629.9" stroke="#000" stroke-width="1.3" fill="none"/>
<rect x="623.4" y="212" width="7.8" height="8" fill="#f08484" fill-opacity="1" stroke="#000" stroke-width="1.8"/>
<path d="M623.4 216H631.2" stroke="#000" stroke-width="1.5"/>
<circle cx="624.34" cy="211.8" r="3.5" fill="#000" fill-opacity="0.55"/>
<circle cx="624.83" cy="213.3" r="3.5" fill="#000" fill-opacity="0.55"/>
<circle cx="625.58" cy="212" r="3.5" fill="#000" fill-opacity="0.55"/>
<circle cx="629" cy="216" r="3.5" fill="#000" fill-opacity="0.55"/>
<circle cx="625.93" cy="220" r="3.5" fill="#000" fill-opacity="0.55"/>
<circle cx="627.77" cy="219.5" r="3.5" fill="#000" fill-opacity="0.55"/>
<circle cx="623.89" cy="220.5" r="3.5" fill="#000" fill-opacity="0.55"/>
<circle cx="624.22" cy="217" r="3.5" fill="#000" fill-opacity="0.55"/>
<circle cx="625.68" cy="213" r="3.5" fill="#000" fill-opacity="0.55"/>
<circle cx="628.5" cy="219" r="3.5" fill="#000" fill-opacity="0.55"/>
<circle cx="627.88" cy="214.4" r="3.5" fill="#000" fill-opacity="0.45"/>
<circle cx="627.83" cy="217.6" r="3.5" fill="#000" fill-opacity="0.45"/>
<text x="627.3" y="208.71" text-anchor="middle" class="lab">b</text>
<path d="M639.5 238V241.2M639.5 249.4V251M636.9 238H642.1M636.9 251H642.1" stroke="#000" stroke-width="1.3" fill="none"/>
<rect x="635.6" y="241.2" width="7.8" height="8.2" fill="#f08484" fill-opacity="1" stroke="#000" stroke-width="1.8"/>
<path d="M635.6 245.3H643.4" stroke="#000" stroke-width="1.5"/>
<path d="M642.77 233.92L646.57 240.5L638.97 240.5Z" fill="#000" fill-opacity="0.5"/>
<path d="M641.99 237.12L645.79 243.7L638.19 243.7Z" fill="#000" fill-opacity="0.5"/>
<path d="M642.95 245.32L646.75 251.9L639.15 251.9Z" fill="#000" fill-opacity="0.5"/>
<path d="M637.5 246.92L641.3 253.5L633.7 253.5Z" fill="#000" fill-opacity="0.5"/>
<path d="M635.5 238.62L639.3 245.2L631.7 245.2Z" fill="#000" fill-opacity="0.5"/>
<path d="M637.57 243.82L641.37 250.4L633.77 250.4Z" fill="#000" fill-opacity="0.5"/>
<path d="M638.23 239.58L642.03 246.16L634.43 246.16Z" fill="#000" fill-opacity="0.45"/>
<path d="M639.52 242.86L643.32 249.44L635.72 249.44Z" fill="#000" fill-opacity="0.45"/>
<text x="639.5" y="236.31" text-anchor="middle" class="lab">b</text>
<path d="M651.8 193.3V198.9M651.8 206.2V208M649.2 193.3H654.4M649.2 208H654.4" stroke="#000" stroke-width="1.3" fill="none"/>
<rect x="647.9" y="198.9" width="7.8" height="7.3" fill="#fdcc46" fill-opacity="1" stroke="#000" stroke-width="1.8"/>
<path d="M647.9 202.55H655.7" stroke="#000" stroke-width="1.5"/>
<circle cx="655.98" cy="193.3" r="3.5" fill="#000" fill-opacity="0.5"/>
<circle cx="653.47" cy="198.9" r="3.5" fill="#000" fill-opacity="0.5"/>
<circle cx="650.56" cy="206.2" r="3.5" fill="#000" fill-opacity="0.5"/>
<circle cx="650.35" cy="208" r="3.5" fill="#000" fill-opacity="0.5"/>
<circle cx="655.85" cy="200.4" r="3.5" fill="#000" fill-opacity="0.5"/>
<circle cx="648.87" cy="204.7" r="3.5" fill="#000" fill-opacity="0.5"/>
<circle cx="652.2" cy="201.09" r="3.5" fill="#000" fill-opacity="0.45"/>
<circle cx="651.14" cy="204.01" r="3.5" fill="#000" fill-opacity="0.45"/>
<text x="651.8" y="188.49" text-anchor="middle" class="lab">a</text>
<path d="M664.3 225.5V230.1M664.3 236.6V237.5M661.7 225.5H666.9M661.7 237.5H666.9" stroke="#000" stroke-width="1.3" fill="none"/>
<rect x="660.4" y="230.1" width="7.8" height="6.5" fill="#fdcc46" fill-opacity="1" stroke="#000" stroke-width="1.8"/>
<path d="M660.4 233.35H668.2" stroke="#000" stroke-width="1.5"/>
<path d="M661.05 221.42L664.85 228L657.25 228Z" fill="#000" fill-opacity="0.5"/>
<path d="M661.71 226.02L665.51 232.6L657.91 232.6Z" fill="#000" fill-opacity="0.5"/>
<path d="M666.56 232.52L670.36 239.1L662.76 239.1Z" fill="#000" fill-opacity="0.5"/>
<path d="M663.29 233.42L667.09 240L659.49 240Z" fill="#000" fill-opacity="0.5"/>
<path d="M667.48 227.52L671.28 234.1L663.68 234.1Z" fill="#000" fill-opacity="0.5"/>
<path d="M666.27 231.02L670.07 237.6L662.47 237.6Z" fill="#000" fill-opacity="0.5"/>
<path d="M663.22 227.97L667.02 234.55L659.42 234.55Z" fill="#000" fill-opacity="0.45"/>
<path d="M663.83 230.57L667.63 237.15L660.03 237.15Z" fill="#000" fill-opacity="0.45"/>
<text x="664.3" y="222.59" text-anchor="middle" class="lab">a</text>
<path d="M86.2 520.6V523M86.2 529V531.6M83.6 520.6H88.8M83.6 531.6H88.8" stroke="#000" stroke-width="1.3" fill="none"/>
<rect x="82.3" y="523" width="7.8" height="6" fill="#4f9ae0" fill-opacity="1" stroke="#000" stroke-width="1.8"/>
<path d="M82.3 526H90.1" stroke="#000" stroke-width="1.5"/>
<circle cx="84.91" cy="521.6" r="3.5" fill="#000" fill-opacity="0.55"/>
<circle cx="88.58" cy="523.1" r="3.5" fill="#000" fill-opacity="0.55"/>
<circle cx="82.71" cy="523" r="3.5" fill="#000" fill-opacity="0.55"/>
<circle cx="87.96" cy="526" r="3.5" fill="#000" fill-opacity="0.55"/>
<circle cx="88.57" cy="529" r="3.5" fill="#000" fill-opacity="0.55"/>
<circle cx="83.54" cy="530.1" r="3.5" fill="#000" fill-opacity="0.55"/>
<circle cx="89.18" cy="531.1" r="3.5" fill="#000" fill-opacity="0.55"/>
<circle cx="87.69" cy="527" r="3.5" fill="#000" fill-opacity="0.55"/>
<circle cx="89.01" cy="524" r="3.5" fill="#000" fill-opacity="0.55"/>
<circle cx="84.73" cy="528" r="3.5" fill="#000" fill-opacity="0.55"/>
<circle cx="85.82" cy="524.8" r="3.5" fill="#000" fill-opacity="0.45"/>
<circle cx="85.88" cy="527.2" r="3.5" fill="#000" fill-opacity="0.45"/>
<text x="86.2" y="518.5" text-anchor="middle" class="lab">a</text>
<path d="M99.1 529.8V532M99.1 539V541.7M96.5 529.8H101.7M96.5 541.7H101.7" stroke="#000" stroke-width="1.3" fill="none"/>
<rect x="95.2" y="532" width="7.8" height="7" fill="#4f9ae0" fill-opacity="1" stroke="#000" stroke-width="1.8"/>
<path d="M95.2 535.5H103" stroke="#000" stroke-width="1.5"/>
<path d="M96.95 525.72L100.75 532.3L93.15 532.3Z" fill="#000" fill-opacity="0.5"/>
<path d="M102.52 527.92L106.32 534.5L98.72 534.5Z" fill="#000" fill-opacity="0.5"/>
<path d="M97.2 534.92L101 541.5L93.4 541.5Z" fill="#000" fill-opacity="0.5"/>
<path d="M95.43 537.62L99.23 544.2L91.63 544.2Z" fill="#000" fill-opacity="0.5"/>
<path d="M102.13 529.42L105.93 536L98.33 536Z" fill="#000" fill-opacity="0.5"/>
<path d="M97.3 533.42L101.1 540L93.5 540Z" fill="#000" fill-opacity="0.5"/>
<path d="M98.4 530.02L102.2 536.6L94.6 536.6Z" fill="#000" fill-opacity="0.45"/>
<path d="M99.13 532.82L102.93 539.4L95.33 539.4Z" fill="#000" fill-opacity="0.45"/>
<text x="99.1" y="526.81" text-anchor="middle" class="lab">b</text>
<path d="M111.1 522.4V525M111.1 532V534.4M108.5 522.4H113.7M108.5 534.4H113.7" stroke="#000" stroke-width="1.3" fill="none"/>
<rect x="107.2" y="525" width="7.8" height="7" fill="#18a3a4" fill-opacity="1" stroke="#000" stroke-width="1.8"/>
<path d="M107.2 528.5H115" stroke="#000" stroke-width="1.5"/>
<circle cx="107.63" cy="522.4" r="3.5" fill="#000" fill-opacity="0.5"/>
<circle cx="114.93" cy="525" r="3.5" fill="#000" fill-opacity="0.5"/>
<circle cx="115.02" cy="532" r="3.5" fill="#000" fill-opacity="0.5"/>
<circle cx="107.8" cy="534.4" r="3.5" fill="#000" fill-opacity="0.5"/>
<circle cx="107.11" cy="526.5" r="3.5" fill="#000" fill-opacity="0.5"/>
<circle cx="113.54" cy="530.5" r="3.5" fill="#000" fill-opacity="0.5"/>
<circle cx="111.86" cy="527.1" r="3.5" fill="#000" fill-opacity="0.45"/>
<circle cx="111.53" cy="529.9" r="3.5" fill="#000" fill-opacity="0.45"/>
<text x="111.1" y="518.5" text-anchor="middle" class="lab">a</text>
<path d="M123 525.2V528M123 536V539M120.4 525.2H125.6M120.4 539H125.6" stroke="#000" stroke-width="1.3" fill="none"/>
<rect x="119.1" y="528" width="7.8" height="8" fill="#18a3a4" fill-opacity="1" stroke="#000" stroke-width="1.8"/>
<path d="M119.1 532H126.9" stroke="#000" stroke-width="1.5"/>
<path d="M125.55 521.12L129.35 527.7L121.75 527.7Z" fill="#000" fill-opacity="0.5"/>
<path d="M121.45 523.92L125.25 530.5L117.65 530.5Z" fill="#000" fill-opacity="0.5"/>
<path d="M125.1 531.92L128.9 538.5L121.3 538.5Z" fill="#000" fill-opacity="0.5"/>
<path d="M124.82 534.92L128.62 541.5L121.02 541.5Z" fill="#000" fill-opacity="0.5"/>
<path d="M125.3 525.42L129.1 532L121.5 532Z" fill="#000" fill-opacity="0.5"/>
<path d="M121.04 530.42L124.84 537L117.24 537Z" fill="#000" fill-opacity="0.5"/>
<path d="M123.17 526.32L126.97 532.9L119.37 532.9Z" fill="#000" fill-opacity="0.45"/>
<path d="M122.68 529.52L126.48 536.1L118.88 536.1Z" fill="#000" fill-opacity="0.45"/>
<text x="123" y="522.21" text-anchor="middle" class="lab">ab</text>
<path d="M135.9 521.5V523M135.9 530V531.6M133.3 521.5H138.5M133.3 531.6H138.5" stroke="#000" stroke-width="1.3" fill="none"/>
<rect x="132" y="523" width="7.8" height="7" fill="#f08484" fill-opacity="1" stroke="#000" stroke-width="1.8"/>
<path d="M132 526.5H139.8" stroke="#000" stroke-width="1.5"/>
<circle cx="133.57" cy="522.5" r="3.5" fill="#000" fill-opacity="0.55"/>
<circle cx="133.53" cy="524" r="3.5" fill="#000" fill-opacity="0.55"/>
<circle cx="133.86" cy="523" r="3.5" fill="#000" fill-opacity="0.55"/>
<circle cx="138.74" cy="526.5" r="3.5" fill="#000" fill-opacity="0.55"/>
<circle cx="135.88" cy="530" r="3.5" fill="#000" fill-opacity="0.55"/>
<circle cx="133.94" cy="530.1" r="3.5" fill="#000" fill-opacity="0.55"/>
<circle cx="138.74" cy="531.1" r="3.5" fill="#000" fill-opacity="0.55"/>
<circle cx="139.38" cy="527.5" r="3.5" fill="#000" fill-opacity="0.55"/>
<circle cx="135.55" cy="524" r="3.5" fill="#000" fill-opacity="0.55"/>
<circle cx="133.38" cy="529" r="3.5" fill="#000" fill-opacity="0.55"/>
<circle cx="134.98" cy="525.1" r="3.5" fill="#000" fill-opacity="0.45"/>
<circle cx="134.67" cy="527.9" r="3.5" fill="#000" fill-opacity="0.45"/>
<text x="135.9" y="515.79" text-anchor="middle" class="lab">a</text>
<path d="M147.5 524.3V526M147.5 532V534.4M144.9 524.3H150.1M144.9 534.4H150.1" stroke="#000" stroke-width="1.3" fill="none"/>
<rect x="143.6" y="526" width="7.8" height="6" fill="#f08484" fill-opacity="1" stroke="#000" stroke-width="1.8"/>
<path d="M143.6 529H151.4" stroke="#000" stroke-width="1.5"/>
<path d="M150.28 520.22L154.08 526.8L146.48 526.8Z" fill="#000" fill-opacity="0.5"/>
<path d="M149.27 521.92L153.07 528.5L145.47 528.5Z" fill="#000" fill-opacity="0.5"/>
<path d="M151.09 527.92L154.89 534.5L147.29 534.5Z" fill="#000" fill-opacity="0.5"/>
<path d="M143.66 530.32L147.46 536.9L139.86 536.9Z" fill="#000" fill-opacity="0.5"/>
<path d="M149.73 523.42L153.53 530L145.93 530Z" fill="#000" fill-opacity="0.5"/>
<path d="M145.29 526.42L149.09 533L141.49 533Z" fill="#000" fill-opacity="0.5"/>
<path d="M147.01 523.72L150.81 530.3L143.21 530.3Z" fill="#000" fill-opacity="0.45"/>
<path d="M146.19 526.12L149.99 532.7L142.39 532.7Z" fill="#000" fill-opacity="0.45"/>
<text x="147.5" y="519.39" text-anchor="middle" class="lab">a</text>
<path d="M160.4 524.3V527M160.4 535V539M157.8 524.3H163M157.8 539H163" stroke="#000" stroke-width="1.3" fill="none"/>
<rect x="156.5" y="527" width="7.8" height="8" fill="#fdcc46" fill-opacity="1" stroke="#000" stroke-width="1.8"/>
<path d="M156.5 531H164.3" stroke="#000" stroke-width="1.5"/>
<circle cx="163.24" cy="524.3" r="3.5" fill="#000" fill-opacity="0.5"/>
<circle cx="161.8" cy="527" r="3.5" fill="#000" fill-opacity="0.5"/>
<circle cx="159.1" cy="535" r="3.5" fill="#000" fill-opacity="0.5"/>
<circle cx="158.17" cy="539" r="3.5" fill="#000" fill-opacity="0.5"/>
<circle cx="162.78" cy="528.5" r="3.5" fill="#000" fill-opacity="0.5"/>
<circle cx="164.12" cy="533.5" r="3.5" fill="#000" fill-opacity="0.5"/>
<circle cx="161.52" cy="529.4" r="3.5" fill="#000" fill-opacity="0.45"/>
<circle cx="158.97" cy="532.6" r="3.5" fill="#000" fill-opacity="0.45"/>
<text x="160.4" y="519.39" text-anchor="middle" class="lab">a</text>
<path d="M172.7 523.3V525M172.7 532V534.4M170.1 523.3H175.3M170.1 534.4H175.3" stroke="#000" stroke-width="1.3" fill="none"/>
<rect x="168.8" y="525" width="7.8" height="7" fill="#fdcc46" fill-opacity="1" stroke="#000" stroke-width="1.8"/>
<path d="M168.8 528.5H176.6" stroke="#000" stroke-width="1.5"/>
<path d="M170.34 519.22L174.14 525.8L166.54 525.8Z" fill="#000" fill-opacity="0.5"/>
<path d="M176.8 520.92L180.6 527.5L173 527.5Z" fill="#000" fill-opacity="0.5"/>
<path d="M173.7 527.92L177.5 534.5L169.9 534.5Z" fill="#000" fill-opacity="0.5"/>
<path d="M176.68 530.32L180.48 536.9L172.88 536.9Z" fill="#000" fill-opacity="0.5"/>
<path d="M176.81 522.42L180.61 529L173.01 529Z" fill="#000" fill-opacity="0.5"/>
<path d="M169.19 526.42L172.99 533L165.39 533Z" fill="#000" fill-opacity="0.5"/>
<path d="M171.87 523.02L175.67 529.6L168.07 529.6Z" fill="#000" fill-opacity="0.45"/>
<path d="M171.66 525.82L175.46 532.4L167.86 532.4Z" fill="#000" fill-opacity="0.45"/>
<text x="172.7" y="518.5" text-anchor="middle" class="lab">a</text>
<path d="M209.3 477.6V479M209.3 485V486.8M206.7 477.6H211.9M206.7 486.8H211.9" stroke="#000" stroke-width="1.3" fill="none"/>
<rect x="205.4" y="479" width="7.8" height="6" fill="#4f9ae0" fill-opacity="1" stroke="#000" stroke-width="1.8"/>
<path d="M205.4 482H213.2" stroke="#000" stroke-width="1.5"/>
<circle cx="212.6" cy="478.6" r="3.5" fill="#000" fill-opacity="0.55"/>
<circle cx="206.56" cy="480.1" r="3.5" fill="#000" fill-opacity="0.55"/>
<circle cx="211.58" cy="479" r="3.5" fill="#000" fill-opacity="0.55"/>
<circle cx="210.71" cy="482" r="3.5" fill="#000" fill-opacity="0.55"/>
<circle cx="211.73" cy="485" r="3.5" fill="#000" fill-opacity="0.55"/>
<circle cx="212.06" cy="485.3" r="3.5" fill="#000" fill-opacity="0.55"/>
<circle cx="206.4" cy="486.3" r="3.5" fill="#000" fill-opacity="0.55"/>
<circle cx="211.24" cy="483" r="3.5" fill="#000" fill-opacity="0.55"/>
<circle cx="205.81" cy="480" r="3.5" fill="#000" fill-opacity="0.55"/>
<circle cx="206.68" cy="484" r="3.5" fill="#000" fill-opacity="0.55"/>
<circle cx="209.51" cy="480.8" r="3.5" fill="#000" fill-opacity="0.45"/>
<circle cx="207.91" cy="483.2" r="3.5" fill="#000" fill-opacity="0.45"/>
<text x="209.3" y="471.9" text-anchor="middle" class="lab">a</text>
<path d="M221.6 486V489.5M221.6 499.7V504.3M219 486H224.2M219 504.3H224.2" stroke="#000" stroke-width="1.3" fill="none"/>
<rect x="217.7" y="489.5" width="7.8" height="10.2" fill="#4f9ae0" fill-opacity="1" stroke="#000" stroke-width="1.8"/>
<path d="M217.7 494.6H225.5" stroke="#000" stroke-width="1.5"/>
<path d="M225.68 481.92L229.48 488.5L221.88 488.5Z" fill="#000" fill-opacity="0.5"/>
<path d="M224.29 485.42L228.09 492L220.49 492Z" fill="#000" fill-opacity="0.5"/>
<path d="M224.84 495.62L228.64 502.2L221.04 502.2Z" fill="#000" fill-opacity="0.5"/>
<path d="M220.28 500.22L224.08 506.8L216.48 506.8Z" fill="#000" fill-opacity="0.5"/>
<path d="M224.28 486.92L228.08 493.5L220.48 493.5Z" fill="#000" fill-opacity="0.5"/>
<path d="M219.36 494.12L223.16 500.7L215.56 500.7Z" fill="#000" fill-opacity="0.5"/>
<path d="M220.77 488.48L224.57 495.06L216.97 495.06Z" fill="#000" fill-opacity="0.45"/>
<path d="M221.9 492.56L225.7 499.14L218.1 499.14Z" fill="#000" fill-opacity="0.45"/>
<text x="221.6" y="482" text-anchor="middle" class="lab">a</text>
<path d="M233.6 479V482.2M233.6 493.2V496.9M231 479H236.2M231 496.9H236.2" stroke="#000" stroke-width="1.3" fill="none"/>
<rect x="229.7" y="482.2" width="7.8" height="11" fill="#18a3a4" fill-opacity="1" stroke="#000" stroke-width="1.8"/>
<path d="M229.7 487.7H237.5" stroke="#000" stroke-width="1.5"/>
<circle cx="230.88" cy="479" r="3.5" fill="#000" fill-opacity="0.5"/>
<circle cx="235.49" cy="482.2" r="3.5" fill="#000" fill-opacity="0.5"/>
<circle cx="236.66" cy="493.2" r="3.5" fill="#000" fill-opacity="0.5"/>
<circle cx="231.08" cy="496.9" r="3.5" fill="#000" fill-opacity="0.5"/>
<circle cx="230.85" cy="483.7" r="3.5" fill="#000" fill-opacity="0.5"/>
<circle cx="229.53" cy="491.7" r="3.5" fill="#000" fill-opacity="0.5"/>
<circle cx="234.21" cy="485.5" r="3.5" fill="#000" fill-opacity="0.45"/>
<circle cx="233.02" cy="489.9" r="3.5" fill="#000" fill-opacity="0.45"/>
<text x="233.6" y="474.61" text-anchor="middle" class="lab">ab</text>
<path d="M246.1 487V490.5M246.1 500.6V503M243.5 487H248.7M243.5 503H248.7" stroke="#000" stroke-width="1.3" fill="none"/>
<rect x="242.2" y="490.5" width="7.8" height="10.1" fill="#18a3a4" fill-opacity="1" stroke="#000" stroke-width="1.8"/>
<path d="M242.2 495.55H250" stroke="#000" stroke-width="1.5"/>
<path d="M244.48 482.92L248.28 489.5L240.68 489.5Z" fill="#000" fill-opacity="0.5"/>
<path d="M247.36 486.42L251.16 493L243.56 493Z" fill="#000" fill-opacity="0.5"/>
<path d="M242.96 496.52L246.76 503.1L239.16 503.1Z" fill="#000" fill-opacity="0.5"/>
<path d="M247.83 498.92L251.63 505.5L244.03 505.5Z" fill="#000" fill-opacity="0.5"/>
<path d="M242.87 487.92L246.67 494.5L239.07 494.5Z" fill="#000" fill-opacity="0.5"/>
<path d="M248.26 495.02L252.06 501.6L244.46 501.6Z" fill="#000" fill-opacity="0.5"/>
<path d="M245.79 489.45L249.59 496.03L241.99 496.03Z" fill="#000" fill-opacity="0.45"/>
<path d="M244.62 493.49L248.42 500.07L240.82 500.07Z" fill="#000" fill-opacity="0.45"/>
<text x="246.1" y="482" text-anchor="middle" class="lab">a</text>
<path d="M258 483V485.9M258 496.9V499M255.4 483H260.6M255.4 499H260.6" stroke="#000" stroke-width="1.3" fill="none"/>
<rect x="254.1" y="485.9" width="7.8" height="11" fill="#f08484" fill-opacity="1" stroke="#000" stroke-width="1.8"/>
<path d="M254.1 491.4H261.9" stroke="#000" stroke-width="1.5"/>
<circle cx="261.37" cy="483" r="3.5" fill="#000" fill-opacity="0.5"/>
<circle cx="256.34" cy="485.9" r="3.5" fill="#000" fill-opacity="0.5"/>
<circle cx="256" cy="496.9" r="3.5" fill="#000" fill-opacity="0.5"/>
<circle cx="256.26" cy="499" r="3.5" fill="#000" fill-opacity="0.5"/>
<circle cx="256.15" cy="487.4" r="3.5" fill="#000" fill-opacity="0.5"/>
<circle cx="259.35" cy="495.4" r="3.5" fill="#000" fill-opacity="0.5"/>
<circle cx="258.37" cy="489.2" r="3.5" fill="#000" fill-opacity="0.45"/>
<circle cx="258.33" cy="493.6" r="3.5" fill="#000" fill-opacity="0.45"/>
<text x="258" y="481.01" text-anchor="middle" class="lab">b</text>
<path d="M270.9 488V491.4M270.9 500.6V503M268.3 488H273.5M268.3 503H273.5" stroke="#000" stroke-width="1.3" fill="none"/>
<rect x="267" y="491.4" width="7.8" height="9.2" fill="#f08484" fill-opacity="1" stroke="#000" stroke-width="1.8"/>
<path d="M267 496H274.8" stroke="#000" stroke-width="1.5"/>
<path d="M268.35 483.92L272.15 490.5L264.55 490.5Z" fill="#000" fill-opacity="0.5"/>
<path d="M266.86 487.32L270.66 493.9L263.06 493.9Z" fill="#000" fill-opacity="0.5"/>
<path d="M266.95 496.52L270.75 503.1L263.15 503.1Z" fill="#000" fill-opacity="0.5"/>
<path d="M269.22 498.92L273.02 505.5L265.42 505.5Z" fill="#000" fill-opacity="0.5"/>
<path d="M268.57 488.82L272.37 495.4L264.77 495.4Z" fill="#000" fill-opacity="0.5"/>
<path d="M269.31 495.02L273.11 501.6L265.51 501.6Z" fill="#000" fill-opacity="0.5"/>
<path d="M270.75 490.08L274.55 496.66L266.95 496.66Z" fill="#000" fill-opacity="0.45"/>
<path d="M271.54 493.76L275.34 500.34L267.74 500.34Z" fill="#000" fill-opacity="0.45"/>
<text x="270.9" y="482.9" text-anchor="middle" class="lab">a</text>
<path d="M282.9 482V485M282.9 496.9V499M280.3 482H285.5M280.3 499H285.5" stroke="#000" stroke-width="1.3" fill="none"/>
<rect x="279" y="485" width="7.8" height="11.9" fill="#fdcc46" fill-opacity="1" stroke="#000" stroke-width="1.8"/>
<path d="M279 490.95H286.8" stroke="#000" stroke-width="1.5"/>
<circle cx="286.24" cy="482" r="3.5" fill="#000" fill-opacity="0.5"/>
<circle cx="278.92" cy="485" r="3.5" fill="#000" fill-opacity="0.5"/>
<circle cx="284.51" cy="496.9" r="3.5" fill="#000" fill-opacity="0.5"/>
<circle cx="284" cy="499" r="3.5" fill="#000" fill-opacity="0.5"/>
<circle cx="286.59" cy="486.5" r="3.5" fill="#000" fill-opacity="0.5"/>
<circle cx="285.32" cy="495.4" r="3.5" fill="#000" fill-opacity="0.5"/>
<circle cx="281.73" cy="488.57" r="3.5" fill="#000" fill-opacity="0.45"/>
<circle cx="281.63" cy="493.33" r="3.5" fill="#000" fill-opacity="0.45"/>
<text x="282.9" y="481.91" text-anchor="middle" class="lab">b</text>
<path d="M295.4 488V491.4M295.4 503.3V505M292.8 488H298M292.8 505H298" stroke="#000" stroke-width="1.3" fill="none"/>
<rect x="291.5" y="491.4" width="7.8" height="11.9" fill="#fdcc46" fill-opacity="1" stroke="#000" stroke-width="1.8"/>
<path d="M291.5 497.35H299.3" stroke="#000" stroke-width="1.5"/>
<path d="M293.28 483.92L297.08 490.5L289.48 490.5Z" fill="#000" fill-opacity="0.5"/>
<path d="M292.6 487.32L296.4 493.9L288.8 493.9Z" fill="#000" fill-opacity="0.5"/>
<path d="M293.18 499.22L296.98 505.8L289.38 505.8Z" fill="#000" fill-opacity="0.5"/>
<path d="M299.03 500.92L302.83 507.5L295.23 507.5Z" fill="#000" fill-opacity="0.5"/>
<path d="M296.68 488.82L300.48 495.4L292.88 495.4Z" fill="#000" fill-opacity="0.5"/>
<path d="M297.03 497.72L300.83 504.3L293.23 504.3Z" fill="#000" fill-opacity="0.5"/>
<path d="M295.52 490.89L299.32 497.47L291.72 497.47Z" fill="#000" fill-opacity="0.45"/>
<path d="M295.24 495.65L299.04 502.23L291.44 502.23Z" fill="#000" fill-opacity="0.45"/>
<text x="295.4" y="486.6" text-anchor="middle" class="lab">a</text>
<path d="M332.2 434V440M332.2 447V454.3M329.6 434H334.8M329.6 454.3H334.8" stroke="#000" stroke-width="1.3" fill="none"/>
<rect x="328.3" y="440" width="7.8" height="7" fill="#4f9ae0" fill-opacity="1" stroke="#000" stroke-width="1.8"/>
<path d="M328.3 443.5H336.1" stroke="#000" stroke-width="1.5"/>
<circle cx="330.96" cy="435" r="3.5" fill="#000" fill-opacity="0.55"/>
<circle cx="333.86" cy="436.5" r="3.5" fill="#000" fill-opacity="0.55"/>
<circle cx="332.02" cy="440" r="3.5" fill="#000" fill-opacity="0.55"/>
<circle cx="333.12" cy="443.5" r="3.5" fill="#000" fill-opacity="0.55"/>
<circle cx="330.44" cy="447" r="3.5" fill="#000" fill-opacity="0.55"/>
<circle cx="333.08" cy="452.8" r="3.5" fill="#000" fill-opacity="0.55"/>
<circle cx="331.53" cy="453.8" r="3.5" fill="#000" fill-opacity="0.55"/>
<circle cx="331.33" cy="444.5" r="3.5" fill="#000" fill-opacity="0.55"/>
<circle cx="331.95" cy="441" r="3.5" fill="#000" fill-opacity="0.55"/>
<circle cx="334.32" cy="446" r="3.5" fill="#000" fill-opacity="0.55"/>
<circle cx="330.89" cy="442.1" r="3.5" fill="#000" fill-opacity="0.45"/>
<circle cx="331.28" cy="444.9" r="3.5" fill="#000" fill-opacity="0.45"/>
<text x="332.2" y="427.4" text-anchor="middle" class="lab">a</text>
<path d="M345.1 431V434M345.1 453.3V456M342.5 431H347.7M342.5 456H347.7" stroke="#000" stroke-width="1.3" fill="none"/>
<rect x="341.2" y="434" width="7.8" height="19.3" fill="#4f9ae0" fill-opacity="1" stroke="#000" stroke-width="1.8"/>
<path d="M341.2 446H349" stroke="#000" stroke-width="1.5"/>
<path d="M341.22 426.92L345.02 433.5L337.42 433.5Z" fill="#000" fill-opacity="0.5"/>
<path d="M347.26 429.92L351.06 436.5L343.46 436.5Z" fill="#000" fill-opacity="0.5"/>
<path d="M349.16 449.22L352.96 455.8L345.36 455.8Z" fill="#000" fill-opacity="0.5"/>
<path d="M343.26 451.92L347.06 458.5L339.46 458.5Z" fill="#000" fill-opacity="0.5"/>
<path d="M349.06 431.42L352.86 438L345.26 438Z" fill="#000" fill-opacity="0.5"/>
<path d="M346.11 447.72L349.91 454.3L342.31 454.3Z" fill="#000" fill-opacity="0.5"/>
<path d="M344.02 437.64L347.82 444.22L340.22 444.22Z" fill="#000" fill-opacity="0.5"/>
<text x="345.1" y="428.21" text-anchor="middle" class="lab">b</text>
<path d="M357.1 436.8V442.3M357.1 459.8V460.7M354.5 436.8H359.7M354.5 460.7H359.7" stroke="#000" stroke-width="1.3" fill="none"/>
<rect x="353.2" y="442.3" width="7.8" height="17.5" fill="#18a3a4" fill-opacity="1" stroke="#000" stroke-width="1.8"/>
<path d="M353.2 451.05H361" stroke="#000" stroke-width="1.5"/>
<circle cx="355.76" cy="436.8" r="3.5" fill="#000" fill-opacity="0.5"/>
<circle cx="361.15" cy="442.3" r="3.5" fill="#000" fill-opacity="0.5"/>
<circle cx="360.63" cy="459.8" r="3.5" fill="#000" fill-opacity="0.5"/>
<circle cx="360.71" cy="460.7" r="3.5" fill="#000" fill-opacity="0.5"/>
<circle cx="353.13" cy="443.8" r="3.5" fill="#000" fill-opacity="0.5"/>
<circle cx="356.07" cy="458.3" r="3.5" fill="#000" fill-opacity="0.5"/>
<circle cx="360.73" cy="449.3" r="3.5" fill="#000" fill-opacity="0.5"/>
<text x="357.1" y="430.1" text-anchor="middle" class="lab">a</text>
<path d="M369.4 420.2V424.8M369.4 442.3V446M366.8 420.2H372M366.8 446H372" stroke="#000" stroke-width="1.3" fill="none"/>
<rect x="365.5" y="424.8" width="7.8" height="17.5" fill="#18a3a4" fill-opacity="1" stroke="#000" stroke-width="1.8"/>
<path d="M365.5 433.55H373.3" stroke="#000" stroke-width="1.5"/>
<path d="M366.46 416.12L370.26 422.7L362.66 422.7Z" fill="#000" fill-opacity="0.5"/>
<path d="M373.16 420.72L376.96 427.3L369.36 427.3Z" fill="#000" fill-opacity="0.5"/>
<path d="M371.56 438.22L375.36 444.8L367.76 444.8Z" fill="#000" fill-opacity="0.5"/>
<path d="M366.76 441.92L370.56 448.5L362.96 448.5Z" fill="#000" fill-opacity="0.5"/>
<path d="M372.81 422.22L376.61 428.8L369.01 428.8Z" fill="#000" fill-opacity="0.5"/>
<path d="M367.1 436.72L370.9 443.3L363.3 443.3Z" fill="#000" fill-opacity="0.5"/>
<path d="M366.86 427.72L370.66 434.3L363.06 434.3Z" fill="#000" fill-opacity="0.5"/>
<text x="369.4" y="419.11" text-anchor="middle" class="lab">ab</text>
<path d="M381.5 449.7V451.5M381.5 469V474.5M378.9 449.7H384.1M378.9 474.5H384.1" stroke="#000" stroke-width="1.3" fill="none"/>
<rect x="377.6" y="451.5" width="7.8" height="17.5" fill="#f08484" fill-opacity="1" stroke="#000" stroke-width="1.8"/>
<path d="M377.6 460.25H385.4" stroke="#000" stroke-width="1.5"/>
<circle cx="383.01" cy="449.7" r="3.5" fill="#000" fill-opacity="0.5"/>
<circle cx="385.33" cy="451.5" r="3.5" fill="#000" fill-opacity="0.5"/>
<circle cx="379.65" cy="469" r="3.5" fill="#000" fill-opacity="0.5"/>
<circle cx="379.83" cy="474.5" r="3.5" fill="#000" fill-opacity="0.5"/>
<circle cx="384.1" cy="453" r="3.5" fill="#000" fill-opacity="0.5"/>
<circle cx="383.05" cy="467.5" r="3.5" fill="#000" fill-opacity="0.5"/>
<circle cx="379.17" cy="458.5" r="3.5" fill="#000" fill-opacity="0.5"/>
<text x="381.5" y="443.91" text-anchor="middle" class="lab">b</text>
<path d="M392.9 420V423M392.9 445V450.6M390.3 420H395.5M390.3 450.6H395.5" stroke="#000" stroke-width="1.3" fill="none"/>
<rect x="389" y="423" width="7.8" height="22" fill="#f08484" fill-opacity="1" stroke="#000" stroke-width="1.8"/>
<path d="M389 434H396.8" stroke="#000" stroke-width="1.5"/>
<path d="M389.51 415.92L393.31 422.5L385.71 422.5Z" fill="#000" fill-opacity="0.5"/>
<path d="M389.4 418.92L393.2 425.5L385.6 425.5Z" fill="#000" fill-opacity="0.5"/>
<path d="M394.84 440.92L398.64 447.5L391.04 447.5Z" fill="#000" fill-opacity="0.5"/>
<path d="M395.09 446.52L398.89 453.1L391.29 453.1Z" fill="#000" fill-opacity="0.5"/>
<path d="M394.54 420.42L398.34 427L390.74 427Z" fill="#000" fill-opacity="0.5"/>
<path d="M391.31 439.42L395.11 446L387.51 446Z" fill="#000" fill-opacity="0.5"/>
<path d="M391.41 427.72L395.21 434.3L387.61 434.3Z" fill="#000" fill-opacity="0.5"/>
<path d="M390.86 434.32L394.66 440.9L387.06 440.9Z" fill="#000" fill-opacity="0.5"/>
<text x="392.9" y="420.01" text-anchor="middle" class="lab">ab</text>
<path d="M405.8 441V444.1M405.8 459.8V466.2M403.2 441H408.4M403.2 466.2H408.4" stroke="#000" stroke-width="1.3" fill="none"/>
<rect x="401.9" y="444.1" width="7.8" height="15.7" fill="#fdcc46" fill-opacity="1" stroke="#000" stroke-width="1.8"/>
<path d="M401.9 451.95H409.7" stroke="#000" stroke-width="1.5"/>
<circle cx="407.61" cy="441" r="3.5" fill="#000" fill-opacity="0.5"/>
<circle cx="403.18" cy="444.1" r="3.5" fill="#000" fill-opacity="0.5"/>
<circle cx="402.72" cy="459.8" r="3.5" fill="#000" fill-opacity="0.5"/>
<circle cx="402.71" cy="466.2" r="3.5" fill="#000" fill-opacity="0.5"/>
<circle cx="404.47" cy="445.6" r="3.5" fill="#000" fill-opacity="0.5"/>
<circle cx="409.63" cy="458.3" r="3.5" fill="#000" fill-opacity="0.5"/>
<circle cx="402.11" cy="450.38" r="3.5" fill="#000" fill-opacity="0.5"/>
<text x="405.8" y="442.11" text-anchor="middle" class="lab">ab</text>
<path d="M417.8 412V415.6M417.8 435.9V437M415.2 412H420.4M415.2 437H420.4" stroke="#000" stroke-width="1.3" fill="none"/>
<rect x="413.9" y="415.6" width="7.8" height="20.3" fill="#fdcc46" fill-opacity="1" stroke="#000" stroke-width="1.8"/>
<path d="M413.9 425.75H421.7" stroke="#000" stroke-width="1.5"/>
<path d="M418.93 407.92L422.73 414.5L415.13 414.5Z" fill="#000" fill-opacity="0.5"/>
<path d="M419.55 411.52L423.35 418.1L415.75 418.1Z" fill="#000" fill-opacity="0.5"/>
<path d="M416.19 431.82L419.99 438.4L412.39 438.4Z" fill="#000" fill-opacity="0.5"/>
<path d="M413.82 432.92L417.62 439.5L410.02 439.5Z" fill="#000" fill-opacity="0.5"/>
<path d="M420.44 413.02L424.24 419.6L416.64 419.6Z" fill="#000" fill-opacity="0.5"/>
<path d="M415.36 430.32L419.16 436.9L411.56 436.9Z" fill="#000" fill-opacity="0.5"/>
<path d="M421.28 419.64L425.08 426.22L417.48 426.22Z" fill="#000" fill-opacity="0.5"/>
<path d="M416.46 425.73L420.26 432.31L412.66 432.31Z" fill="#000" fill-opacity="0.5"/>
<text x="417.8" y="409" text-anchor="middle" class="lab">a</text>
<path d="M454.9 409V411.3M454.9 424.2V426M452.3 409H457.5M452.3 426H457.5" stroke="#000" stroke-width="1.3" fill="none"/>
<rect x="451" y="411.3" width="7.8" height="12.9" fill="#4f9ae0" fill-opacity="1" stroke="#000" stroke-width="1.8"/>
<path d="M451 417.75H458.8" stroke="#000" stroke-width="1.5"/>
<circle cx="456.6" cy="409" r="3.5" fill="#000" fill-opacity="0.5"/>
<circle cx="456.99" cy="411.3" r="3.5" fill="#000" fill-opacity="0.5"/>
<circle cx="453.25" cy="424.2" r="3.5" fill="#000" fill-opacity="0.5"/>
<circle cx="456.02" cy="426" r="3.5" fill="#000" fill-opacity="0.5"/>
<circle cx="451.29" cy="412.8" r="3.5" fill="#000" fill-opacity="0.5"/>
<circle cx="457.21" cy="422.7" r="3.5" fill="#000" fill-opacity="0.5"/>
<circle cx="456.49" cy="416.46" r="3.5" fill="#000" fill-opacity="0.5"/>
<circle cx="454.34" cy="415.17" r="3.5" fill="#000" fill-opacity="0.45"/>
<circle cx="454.01" cy="420.33" r="3.5" fill="#000" fill-opacity="0.45"/>
<text x="454.9" y="404.7" text-anchor="middle" class="lab">c</text>
<path d="M467.2 403V405.8M467.2 428.8V431.6M464.6 403H469.8M464.6 431.6H469.8" stroke="#000" stroke-width="1.3" fill="none"/>
<rect x="463.3" y="405.8" width="7.8" height="23" fill="#4f9ae0" fill-opacity="1" stroke="#000" stroke-width="1.8"/>
<path d="M463.3 417.3H471.1" stroke="#000" stroke-width="1.5"/>
<path d="M469.95 398.92L473.75 405.5L466.15 405.5Z" fill="#000" fill-opacity="0.5"/>
<path d="M464.89 401.72L468.69 408.3L461.09 408.3Z" fill="#000" fill-opacity="0.5"/>
<path d="M470.32 424.72L474.12 431.3L466.52 431.3Z" fill="#000" fill-opacity="0.5"/>
<path d="M464.15 427.52L467.95 434.1L460.35 434.1Z" fill="#000" fill-opacity="0.5"/>
<path d="M464.11 403.22L467.91 409.8L460.31 409.8Z" fill="#000" fill-opacity="0.5"/>
<path d="M470.43 423.22L474.23 429.8L466.63 429.8Z" fill="#000" fill-opacity="0.5"/>
<path d="M471.36 410.92L475.16 417.5L467.56 417.5Z" fill="#000" fill-opacity="0.5"/>
<path d="M469.54 417.82L473.34 424.4L465.74 424.4Z" fill="#000" fill-opacity="0.5"/>
<text x="467.2" y="401.9" text-anchor="middle" class="lab">c</text>
<path d="M479.7 400V402.1M479.7 423.3V426M477.1 400H482.3M477.1 426H482.3" stroke="#000" stroke-width="1.3" fill="none"/>
<rect x="475.8" y="402.1" width="7.8" height="21.2" fill="#18a3a4" fill-opacity="1" stroke="#000" stroke-width="1.8"/>
<path d="M475.8 412.7H483.6" stroke="#000" stroke-width="1.5"/>
<circle cx="477.7" cy="400" r="3.5" fill="#000" fill-opacity="0.5"/>
<circle cx="482.03" cy="402.1" r="3.5" fill="#000" fill-opacity="0.5"/>
<circle cx="475.93" cy="423.3" r="3.5" fill="#000" fill-opacity="0.5"/>
<circle cx="482.76" cy="426" r="3.5" fill="#000" fill-opacity="0.5"/>
<circle cx="483.03" cy="403.6" r="3.5" fill="#000" fill-opacity="0.5"/>
<circle cx="475.69" cy="421.8" r="3.5" fill="#000" fill-opacity="0.5"/>
<circle cx="483.59" cy="410.58" r="3.5" fill="#000" fill-opacity="0.5"/>
<circle cx="481.06" cy="416.94" r="3.5" fill="#000" fill-opacity="0.5"/>
<text x="479.7" y="397.3" text-anchor="middle" class="lab">c</text>
<path d="M492 386V389.3M492 414.1V417.8M489.4 386H494.6M489.4 417.8H494.6" stroke="#000" stroke-width="1.3" fill="none"/>
<rect x="488.1" y="389.3" width="7.8" height="24.8" fill="#18a3a4" fill-opacity="1" stroke="#000" stroke-width="1.8"/>
<path d="M488.1 401.7H495.9" stroke="#000" stroke-width="1.5"/>
<path d="M489.7 381.92L493.5 388.5L485.9 388.5Z" fill="#000" fill-opacity="0.5"/>
<path d="M494.47 385.22L498.27 391.8L490.67 391.8Z" fill="#000" fill-opacity="0.5"/>
<path d="M490.58 410.02L494.38 416.6L486.78 416.6Z" fill="#000" fill-opacity="0.5"/>
<path d="M489.24 413.72L493.04 420.3L485.44 420.3Z" fill="#000" fill-opacity="0.5"/>
<path d="M493.28 386.72L497.08 393.3L489.48 393.3Z" fill="#000" fill-opacity="0.5"/>
<path d="M495.36 408.52L499.16 415.1L491.56 415.1Z" fill="#000" fill-opacity="0.5"/>
<path d="M490.53 395.14L494.33 401.72L486.73 401.72Z" fill="#000" fill-opacity="0.5"/>
<path d="M493.52 402.58L497.32 409.16L489.72 409.16Z" fill="#000" fill-opacity="0.5"/>
<text x="492" y="385.31" text-anchor="middle" class="lab">bc</text>
<path d="M504.5 378.2V385.6M504.5 407.7V410M501.9 378.2H507.1M501.9 410H507.1" stroke="#000" stroke-width="1.3" fill="none"/>
<rect x="500.6" y="385.6" width="7.8" height="22.1" fill="#f08484" fill-opacity="1" stroke="#000" stroke-width="1.8"/>
<path d="M500.6 396.65H508.4" stroke="#000" stroke-width="1.5"/>
<circle cx="500.54" cy="378.2" r="3.5" fill="#000" fill-opacity="0.5"/>
<circle cx="502.27" cy="385.6" r="3.5" fill="#000" fill-opacity="0.5"/>
<circle cx="502.53" cy="407.7" r="3.5" fill="#000" fill-opacity="0.5"/>
<circle cx="500.38" cy="410" r="3.5" fill="#000" fill-opacity="0.5"/>
<circle cx="506.51" cy="387.1" r="3.5" fill="#000" fill-opacity="0.5"/>
<circle cx="505.78" cy="406.2" r="3.5" fill="#000" fill-opacity="0.5"/>
<circle cx="501.45" cy="394.44" r="3.5" fill="#000" fill-opacity="0.5"/>
<circle cx="501.51" cy="401.07" r="3.5" fill="#000" fill-opacity="0.5"/>
<text x="504.5" y="376.21" text-anchor="middle" class="lab">b</text>
<path d="M516.5 370V372.7M516.5 400.3V404.9M513.9 370H519.1M513.9 404.9H519.1" stroke="#000" stroke-width="1.3" fill="none"/>
<rect x="512.6" y="372.7" width="7.8" height="27.6" fill="#f08484" fill-opacity="1" stroke="#000" stroke-width="1.8"/>
<path d="M512.6 386.5H520.4" stroke="#000" stroke-width="1.5"/>
<path d="M512.85 365.92L516.65 372.5L509.05 372.5Z" fill="#000" fill-opacity="0.5"/>
<path d="M513.69 368.62L517.49 375.2L509.89 375.2Z" fill="#000" fill-opacity="0.5"/>
<path d="M514.22 396.22L518.02 402.8L510.42 402.8Z" fill="#000" fill-opacity="0.5"/>
<path d="M514.27 400.82L518.07 407.4L510.47 407.4Z" fill="#000" fill-opacity="0.5"/>
<path d="M515.02 370.12L518.82 376.7L511.22 376.7Z" fill="#000" fill-opacity="0.5"/>
<path d="M515.37 394.72L519.17 401.3L511.57 401.3Z" fill="#000" fill-opacity="0.5"/>
<path d="M513.36 379.66L517.16 386.24L509.56 386.24Z" fill="#000" fill-opacity="0.5"/>
<path d="M517.88 387.94L521.68 394.52L514.08 394.52Z" fill="#000" fill-opacity="0.5"/>
<text x="516.5" y="366.01" text-anchor="middle" class="lab">ab</text>
<path d="M528.8 366V368.1M528.8 392.9V395M526.2 366H531.4M526.2 395H531.4" stroke="#000" stroke-width="1.3" fill="none"/>
<rect x="524.9" y="368.1" width="7.8" height="24.8" fill="#fdcc46" fill-opacity="1" stroke="#000" stroke-width="1.8"/>
<path d="M524.9 380.5H532.7" stroke="#000" stroke-width="1.5"/>
<circle cx="531.56" cy="366" r="3.5" fill="#000" fill-opacity="0.5"/>
<circle cx="531.88" cy="368.1" r="3.5" fill="#000" fill-opacity="0.5"/>
<circle cx="531.66" cy="392.9" r="3.5" fill="#000" fill-opacity="0.5"/>
<circle cx="531.05" cy="395" r="3.5" fill="#000" fill-opacity="0.5"/>
<circle cx="531.23" cy="369.6" r="3.5" fill="#000" fill-opacity="0.5"/>
<circle cx="530.37" cy="391.4" r="3.5" fill="#000" fill-opacity="0.5"/>
<circle cx="525.82" cy="378.02" r="3.5" fill="#000" fill-opacity="0.5"/>
<circle cx="531.29" cy="385.46" r="3.5" fill="#000" fill-opacity="0.5"/>
<text x="528.8" y="360.6" text-anchor="middle" class="lab">a</text>
<path d="M541.3 361V363.5M541.3 392V394.8M538.7 361H543.9M538.7 394.8H543.9" stroke="#000" stroke-width="1.3" fill="none"/>
<rect x="537.4" y="363.5" width="7.8" height="28.5" fill="#fdcc46" fill-opacity="1" stroke="#000" stroke-width="1.8"/>
<path d="M537.4 377.75H545.2" stroke="#000" stroke-width="1.5"/>
<path d="M544.74 356.92L548.54 363.5L540.94 363.5Z" fill="#000" fill-opacity="0.5"/>
<path d="M544.98 359.42L548.78 366L541.18 366Z" fill="#000" fill-opacity="0.5"/>
<path d="M543.58 387.92L547.38 394.5L539.78 394.5Z" fill="#000" fill-opacity="0.5"/>
<path d="M539.89 390.72L543.69 397.3L536.09 397.3Z" fill="#000" fill-opacity="0.5"/>
<path d="M543.47 360.92L547.27 367.5L539.67 367.5Z" fill="#000" fill-opacity="0.5"/>
<path d="M543.91 386.42L547.71 393L540.11 393Z" fill="#000" fill-opacity="0.5"/>
<path d="M540.17 370.82L543.97 377.4L536.37 377.4Z" fill="#000" fill-opacity="0.5"/>
<path d="M540.04 379.37L543.84 385.95L536.24 385.95Z" fill="#000" fill-opacity="0.5"/>
<text x="541.3" y="357.8" text-anchor="middle" class="lab">a</text>
<path d="M577.9 373.2V375M577.9 380V381.4M575.3 373.2H580.5M575.3 381.4H580.5" stroke="#000" stroke-width="1.3" fill="none"/>
<rect x="574" y="375" width="7.8" height="5" fill="#4f9ae0" fill-opacity="1" stroke="#000" stroke-width="1.8"/>
<path d="M574 377.5H581.8" stroke="#000" stroke-width="1.5"/>
<circle cx="579.53" cy="374.2" r="3.5" fill="#000" fill-opacity="0.55"/>
<circle cx="579.84" cy="375.7" r="3.5" fill="#000" fill-opacity="0.55"/>
<circle cx="577.98" cy="375" r="3.5" fill="#000" fill-opacity="0.55"/>
<circle cx="574.78" cy="377.5" r="3.5" fill="#000" fill-opacity="0.55"/>
<circle cx="577.93" cy="380" r="3.5" fill="#000" fill-opacity="0.55"/>
<circle cx="577.05" cy="379.9" r="3.5" fill="#000" fill-opacity="0.55"/>
<circle cx="581.06" cy="380.9" r="3.5" fill="#000" fill-opacity="0.55"/>
<circle cx="575.35" cy="378.5" r="3.5" fill="#000" fill-opacity="0.55"/>
<circle cx="580.4" cy="376" r="3.5" fill="#000" fill-opacity="0.55"/>
<circle cx="581.37" cy="379" r="3.5" fill="#000" fill-opacity="0.55"/>
<circle cx="578.6" cy="376.5" r="3.5" fill="#000" fill-opacity="0.45"/>
<circle cx="578.84" cy="378.5" r="3.5" fill="#000" fill-opacity="0.45"/>
<text x="577.9" y="371.11" text-anchor="middle" class="lab">b</text>
<path d="M590.2 365.8V374.1M590.2 395.2V398M587.6 365.8H592.8M587.6 398H592.8" stroke="#000" stroke-width="1.3" fill="none"/>
<rect x="586.3" y="374.1" width="7.8" height="21.1" fill="#4f9ae0" fill-opacity="1" stroke="#000" stroke-width="1.8"/>
<path d="M586.3 384.65H594.1" stroke="#000" stroke-width="1.5"/>
<path d="M588.78 361.72L592.58 368.3L584.98 368.3Z" fill="#000" fill-opacity="0.5"/>
<path d="M592.12 370.02L595.92 376.6L588.32 376.6Z" fill="#000" fill-opacity="0.5"/>
<path d="M587 391.12L590.8 397.7L583.2 397.7Z" fill="#000" fill-opacity="0.5"/>
<path d="M588.99 393.92L592.79 400.5L585.19 400.5Z" fill="#000" fill-opacity="0.5"/>
<path d="M593.15 371.52L596.95 378.1L589.35 378.1Z" fill="#000" fill-opacity="0.5"/>
<path d="M591.71 389.62L595.51 396.2L587.91 396.2Z" fill="#000" fill-opacity="0.5"/>
<path d="M594.1 378.46L597.9 385.04L590.3 385.04Z" fill="#000" fill-opacity="0.5"/>
<path d="M591.66 384.79L595.46 391.37L587.86 391.37Z" fill="#000" fill-opacity="0.5"/>
<text x="590.2" y="362.81" text-anchor="middle" class="lab">b</text>
<path d="M602.7 353.9V360.3M602.7 381.4V391.6M600.1 353.9H605.3M600.1 391.6H605.3" stroke="#000" stroke-width="1.3" fill="none"/>
<rect x="598.8" y="360.3" width="7.8" height="21.1" fill="#18a3a4" fill-opacity="1" stroke="#000" stroke-width="1.8"/>
<path d="M598.8 370.85H606.6" stroke="#000" stroke-width="1.5"/>
<circle cx="604.37" cy="353.9" r="3.5" fill="#000" fill-opacity="0.5"/>
<circle cx="605.67" cy="360.3" r="3.5" fill="#000" fill-opacity="0.5"/>
<circle cx="600.68" cy="381.4" r="3.5" fill="#000" fill-opacity="0.5"/>
<circle cx="601.06" cy="391.6" r="3.5" fill="#000" fill-opacity="0.5"/>
<circle cx="604.22" cy="361.8" r="3.5" fill="#000" fill-opacity="0.5"/>
<circle cx="605.87" cy="379.9" r="3.5" fill="#000" fill-opacity="0.5"/>
<circle cx="604.24" cy="368.74" r="3.5" fill="#000" fill-opacity="0.5"/>
<circle cx="604.07" cy="375.07" r="3.5" fill="#000" fill-opacity="0.5"/>
<text x="602.7" y="350.91" text-anchor="middle" class="lab">b</text>
<path d="M615 345V348.3M615 379.6V382.4M612.4 345H617.6M612.4 382.4H617.6" stroke="#000" stroke-width="1.3" fill="none"/>
<rect x="611.1" y="348.3" width="7.8" height="31.3" fill="#18a3a4" fill-opacity="1" stroke="#000" stroke-width="1.8"/>
<path d="M611.1 363.95H618.9" stroke="#000" stroke-width="1.5"/>
<path d="M611.96 340.92L615.76 347.5L608.16 347.5Z" fill="#000" fill-opacity="0.5"/>
<path d="M619.09 344.22L622.89 350.8L615.29 350.8Z" fill="#000" fill-opacity="0.5"/>
<path d="M617.78 375.52L621.58 382.1L613.98 382.1Z" fill="#000" fill-opacity="0.5"/>
<path d="M613.19 378.32L616.99 384.9L609.39 384.9Z" fill="#000" fill-opacity="0.5"/>
<path d="M618.36 345.72L622.16 352.3L614.56 352.3Z" fill="#000" fill-opacity="0.5"/>
<path d="M616.85 374.02L620.65 380.6L613.05 380.6Z" fill="#000" fill-opacity="0.5"/>
<path d="M617.85 356.74L621.65 363.32L614.05 363.32Z" fill="#000" fill-opacity="0.5"/>
<path d="M617.06 366.13L620.86 372.71L613.26 372.71Z" fill="#000" fill-opacity="0.5"/>
<text x="615" y="342.61" text-anchor="middle" class="lab">b</text>
<path d="M627.5 332V334.5M627.5 360.3V365.8M624.9 332H630.1M624.9 365.8H630.1" stroke="#000" stroke-width="1.3" fill="none"/>
<rect x="623.6" y="334.5" width="7.8" height="25.8" fill="#f08484" fill-opacity="1" stroke="#000" stroke-width="1.8"/>
<path d="M623.6 347.4H631.4" stroke="#000" stroke-width="1.5"/>
<circle cx="625.08" cy="332" r="3.5" fill="#000" fill-opacity="0.5"/>
<circle cx="624.53" cy="334.5" r="3.5" fill="#000" fill-opacity="0.5"/>
<circle cx="625.55" cy="360.3" r="3.5" fill="#000" fill-opacity="0.5"/>
<circle cx="629.49" cy="365.8" r="3.5" fill="#000" fill-opacity="0.5"/>
<circle cx="630.85" cy="336" r="3.5" fill="#000" fill-opacity="0.5"/>
<circle cx="625.79" cy="358.8" r="3.5" fill="#000" fill-opacity="0.5"/>
<circle cx="630.47" cy="344.82" r="3.5" fill="#000" fill-opacity="0.5"/>
<circle cx="629.84" cy="352.56" r="3.5" fill="#000" fill-opacity="0.5"/>
<text x="627.5" y="328.8" text-anchor="middle" class="lab">a</text>
<path d="M639.5 317V319.8M639.5 345.6V357.5M636.9 317H642.1M636.9 357.5H642.1" stroke="#000" stroke-width="1.3" fill="none"/>
<rect x="635.6" y="319.8" width="7.8" height="25.8" fill="#f08484" fill-opacity="1" stroke="#000" stroke-width="1.8"/>
<path d="M635.6 332.7H643.4" stroke="#000" stroke-width="1.5"/>
<path d="M643.37 312.92L647.17 319.5L639.57 319.5Z" fill="#000" fill-opacity="0.5"/>
<path d="M636.94 315.72L640.74 322.3L633.14 322.3Z" fill="#000" fill-opacity="0.5"/>
<path d="M638.43 341.52L642.23 348.1L634.63 348.1Z" fill="#000" fill-opacity="0.5"/>
<path d="M636.69 353.42L640.49 360L632.89 360Z" fill="#000" fill-opacity="0.5"/>
<path d="M640.84 317.22L644.64 323.8L637.04 323.8Z" fill="#000" fill-opacity="0.5"/>
<path d="M642.21 340.02L646.01 346.6L638.41 346.6Z" fill="#000" fill-opacity="0.5"/>
<path d="M642.37 326.04L646.17 332.62L638.57 332.62Z" fill="#000" fill-opacity="0.5"/>
<path d="M637.85 333.78L641.65 340.36L634.05 340.36Z" fill="#000" fill-opacity="0.5"/>
<text x="639.5" y="314.1" text-anchor="middle" class="lab">a</text>
<path d="M651.8 316V318.9M651.8 348.3V352.9M649.2 316H654.4M649.2 352.9H654.4" stroke="#000" stroke-width="1.3" fill="none"/>
<rect x="647.9" y="318.9" width="7.8" height="29.4" fill="#fdcc46" fill-opacity="1" stroke="#000" stroke-width="1.8"/>
<path d="M647.9 333.6H655.7" stroke="#000" stroke-width="1.5"/>
<circle cx="653.31" cy="316" r="3.5" fill="#000" fill-opacity="0.5"/>
<circle cx="647.8" cy="318.9" r="3.5" fill="#000" fill-opacity="0.5"/>
<circle cx="648.54" cy="348.3" r="3.5" fill="#000" fill-opacity="0.5"/>
<circle cx="653.11" cy="352.9" r="3.5" fill="#000" fill-opacity="0.5"/>
<circle cx="648.01" cy="320.4" r="3.5" fill="#000" fill-opacity="0.5"/>
<circle cx="654.09" cy="346.8" r="3.5" fill="#000" fill-opacity="0.5"/>
<circle cx="655.89" cy="330.66" r="3.5" fill="#000" fill-opacity="0.5"/>
<circle cx="648.74" cy="339.48" r="3.5" fill="#000" fill-opacity="0.5"/>
<text x="651.8" y="314.1" text-anchor="middle" class="lab">a</text>
<path d="M664.3 320V323.5M664.3 354.8V357.5M661.7 320H666.9M661.7 357.5H666.9" stroke="#000" stroke-width="1.3" fill="none"/>
<rect x="660.4" y="323.5" width="7.8" height="31.3" fill="#fdcc46" fill-opacity="1" stroke="#000" stroke-width="1.8"/>
<path d="M660.4 339.15H668.2" stroke="#000" stroke-width="1.5"/>
<path d="M667.2 315.92L671 322.5L663.4 322.5Z" fill="#000" fill-opacity="0.5"/>
<path d="M667.23 319.42L671.03 326L663.43 326Z" fill="#000" fill-opacity="0.5"/>
<path d="M666.1 350.72L669.9 357.3L662.3 357.3Z" fill="#000" fill-opacity="0.5"/>
<path d="M663.16 353.42L666.96 360L659.36 360Z" fill="#000" fill-opacity="0.5"/>
<path d="M662 320.92L665.8 327.5L658.2 327.5Z" fill="#000" fill-opacity="0.5"/>
<path d="M662.79 349.22L666.59 355.8L658.99 355.8Z" fill="#000" fill-opacity="0.5"/>
<path d="M663.26 331.94L667.06 338.52L659.46 338.52Z" fill="#000" fill-opacity="0.5"/>
<path d="M662.84 341.33L666.64 347.91L659.04 347.91Z" fill="#000" fill-opacity="0.5"/>
<text x="664.3" y="317.8" text-anchor="middle" class="lab">a</text>
<path d="M85.9 751V753.6M85.9 764.7V767M83.3 751H88.5M83.3 767H88.5" stroke="#000" stroke-width="1.3" fill="none"/>
<rect x="82" y="753.6" width="7.8" height="11.1" fill="#4f9ae0" fill-opacity="1" stroke="#000" stroke-width="1.8"/>
<path d="M82 759.15H89.8" stroke="#000" stroke-width="1.5"/>
<circle cx="83.24" cy="751" r="3.5" fill="#000" fill-opacity="0.5"/>
<circle cx="89.5" cy="753.6" r="3.5" fill="#000" fill-opacity="0.5"/>
<circle cx="83.27" cy="764.7" r="3.5" fill="#000" fill-opacity="0.5"/>
<circle cx="83.94" cy="767" r="3.5" fill="#000" fill-opacity="0.5"/>
<circle cx="81.72" cy="755.1" r="3.5" fill="#000" fill-opacity="0.5"/>
<circle cx="89.19" cy="763.2" r="3.5" fill="#000" fill-opacity="0.5"/>
<circle cx="84.42" cy="756.93" r="3.5" fill="#000" fill-opacity="0.45"/>
<circle cx="86.93" cy="761.37" r="3.5" fill="#000" fill-opacity="0.45"/>
<text x="85.9" y="748.81" text-anchor="middle" class="lab">b</text>
<path d="M98.7 742V744.4M98.7 756.4V758M96.1 742H101.3M96.1 758H101.3" stroke="#000" stroke-width="1.3" fill="none"/>
<rect x="94.8" y="744.4" width="7.8" height="12" fill="#4f9ae0" fill-opacity="1" stroke="#000" stroke-width="1.8"/>
<path d="M94.8 750.4H102.6" stroke="#000" stroke-width="1.5"/>
<path d="M99.96 737.92L103.76 744.5L96.16 744.5Z" fill="#000" fill-opacity="0.5"/>
<path d="M100.26 740.32L104.06 746.9L96.46 746.9Z" fill="#000" fill-opacity="0.5"/>
<path d="M96.86 752.32L100.66 758.9L93.06 758.9Z" fill="#000" fill-opacity="0.5"/>
<path d="M97.31 753.92L101.11 760.5L93.51 760.5Z" fill="#000" fill-opacity="0.5"/>
<path d="M101.98 741.82L105.78 748.4L98.18 748.4Z" fill="#000" fill-opacity="0.5"/>
<path d="M101.73 750.82L105.53 757.4L97.93 757.4Z" fill="#000" fill-opacity="0.5"/>
<path d="M99.24 743.92L103.04 750.5L95.44 750.5Z" fill="#000" fill-opacity="0.45"/>
<path d="M99.26 748.72L103.06 755.3L95.46 755.3Z" fill="#000" fill-opacity="0.45"/>
<text x="98.7" y="738.69" text-anchor="middle" class="lab">a</text>
<path d="M111.1 744.4V746M111.1 752V753.6M108.5 744.4H113.7M108.5 753.6H113.7" stroke="#000" stroke-width="1.3" fill="none"/>
<rect x="107.2" y="746" width="7.8" height="6" fill="#18a3a4" fill-opacity="1" stroke="#000" stroke-width="1.8"/>
<path d="M107.2 749H115" stroke="#000" stroke-width="1.5"/>
<circle cx="114.02" cy="745.4" r="3.5" fill="#000" fill-opacity="0.55"/>
<circle cx="114.4" cy="746.9" r="3.5" fill="#000" fill-opacity="0.55"/>
<circle cx="109.67" cy="746" r="3.5" fill="#000" fill-opacity="0.55"/>
<circle cx="114.1" cy="749" r="3.5" fill="#000" fill-opacity="0.55"/>
<circle cx="113.86" cy="752" r="3.5" fill="#000" fill-opacity="0.55"/>
<circle cx="108.2" cy="752.1" r="3.5" fill="#000" fill-opacity="0.55"/>
<circle cx="111.15" cy="753.1" r="3.5" fill="#000" fill-opacity="0.55"/>
<circle cx="108.79" cy="750" r="3.5" fill="#000" fill-opacity="0.55"/>
<circle cx="113.93" cy="747" r="3.5" fill="#000" fill-opacity="0.55"/>
<circle cx="113.49" cy="751" r="3.5" fill="#000" fill-opacity="0.55"/>
<circle cx="110.21" cy="747.8" r="3.5" fill="#000" fill-opacity="0.45"/>
<circle cx="110.08" cy="750.2" r="3.5" fill="#000" fill-opacity="0.45"/>
<text x="111.1" y="739.6" text-anchor="middle" class="lab">a</text>
<path d="M123 743V745.3M123 757.3V759M120.4 743H125.6M120.4 759H125.6" stroke="#000" stroke-width="1.3" fill="none"/>
<rect x="119.1" y="745.3" width="7.8" height="12" fill="#18a3a4" fill-opacity="1" stroke="#000" stroke-width="1.8"/>
<path d="M119.1 751.3H126.9" stroke="#000" stroke-width="1.5"/>
<path d="M124.61 738.92L128.41 745.5L120.81 745.5Z" fill="#000" fill-opacity="0.5"/>
<path d="M125.05 741.22L128.85 747.8L121.25 747.8Z" fill="#000" fill-opacity="0.5"/>
<path d="M120.79 753.22L124.59 759.8L116.99 759.8Z" fill="#000" fill-opacity="0.5"/>
<path d="M125.51 754.92L129.31 761.5L121.71 761.5Z" fill="#000" fill-opacity="0.5"/>
<path d="M119.26 742.72L123.06 749.3L115.46 749.3Z" fill="#000" fill-opacity="0.5"/>
<path d="M127.06 751.72L130.86 758.3L123.26 758.3Z" fill="#000" fill-opacity="0.5"/>
<path d="M122.2 744.82L126 751.4L118.4 751.4Z" fill="#000" fill-opacity="0.45"/>
<path d="M124.15 749.62L127.95 756.2L120.35 756.2Z" fill="#000" fill-opacity="0.45"/>
<text x="123" y="737.79" text-anchor="middle" class="lab">a</text>
<path d="M135.9 754.5V756M135.9 760V761.9M133.3 754.5H138.5M133.3 761.9H138.5" stroke="#000" stroke-width="1.3" fill="none"/>
<rect x="132" y="756" width="7.8" height="4" fill="#f08484" fill-opacity="1" stroke="#000" stroke-width="1.8"/>
<path d="M132 758H139.8" stroke="#000" stroke-width="1.5"/>
<circle cx="137.92" cy="755.5" r="3.5" fill="#000" fill-opacity="0.55"/>
<circle cx="135.14" cy="757" r="3.5" fill="#000" fill-opacity="0.55"/>
<circle cx="136.5" cy="756" r="3.5" fill="#000" fill-opacity="0.55"/>
<circle cx="136.36" cy="758" r="3.5" fill="#000" fill-opacity="0.55"/>
<circle cx="133.6" cy="760" r="3.5" fill="#000" fill-opacity="0.55"/>
<circle cx="132.63" cy="760.4" r="3.5" fill="#000" fill-opacity="0.55"/>
<circle cx="133.18" cy="761.4" r="3.5" fill="#000" fill-opacity="0.55"/>
<circle cx="136.75" cy="759" r="3.5" fill="#000" fill-opacity="0.55"/>
<circle cx="133.53" cy="757" r="3.5" fill="#000" fill-opacity="0.55"/>
<circle cx="139.24" cy="759" r="3.5" fill="#000" fill-opacity="0.55"/>
<circle cx="136.5" cy="757.2" r="3.5" fill="#000" fill-opacity="0.45"/>
<circle cx="134.49" cy="758.8" r="3.5" fill="#000" fill-opacity="0.45"/>
<text x="135.9" y="749.71" text-anchor="middle" class="lab">b</text>
<path d="M146.9 741V743.5M146.9 756.4V758M144.3 741H149.5M144.3 758H149.5" stroke="#000" stroke-width="1.3" fill="none"/>
<rect x="143" y="743.5" width="7.8" height="12.9" fill="#f08484" fill-opacity="1" stroke="#000" stroke-width="1.8"/>
<path d="M143 749.95H150.8" stroke="#000" stroke-width="1.5"/>
<path d="M143.68 736.92L147.48 743.5L139.88 743.5Z" fill="#000" fill-opacity="0.5"/>
<path d="M143.67 739.42L147.47 746L139.87 746Z" fill="#000" fill-opacity="0.5"/>
<path d="M145.69 752.32L149.49 758.9L141.89 758.9Z" fill="#000" fill-opacity="0.5"/>
<path d="M148.54 753.92L152.34 760.5L144.74 760.5Z" fill="#000" fill-opacity="0.5"/>
<path d="M143.08 740.92L146.88 747.5L139.28 747.5Z" fill="#000" fill-opacity="0.5"/>
<path d="M148.24 750.82L152.04 757.4L144.44 757.4Z" fill="#000" fill-opacity="0.5"/>
<path d="M145.25 744.58L149.05 751.16L141.45 751.16Z" fill="#000" fill-opacity="0.5"/>
<path d="M145.5 743.29L149.3 749.87L141.7 749.87Z" fill="#000" fill-opacity="0.45"/>
<path d="M148.25 748.45L152.05 755.03L144.45 755.03Z" fill="#000" fill-opacity="0.45"/>
<text x="146.9" y="738.69" text-anchor="middle" class="lab">a</text>
<path d="M159.8 753V756.4M159.8 768.3V771.1M157.2 753H162.4M157.2 771.1H162.4" stroke="#000" stroke-width="1.3" fill="none"/>
<rect x="155.9" y="756.4" width="7.8" height="11.9" fill="#fdcc46" fill-opacity="1" stroke="#000" stroke-width="1.8"/>
<path d="M155.9 762.35H163.7" stroke="#000" stroke-width="1.5"/>
<circle cx="156.16" cy="753" r="3.5" fill="#000" fill-opacity="0.5"/>
<circle cx="162.33" cy="756.4" r="3.5" fill="#000" fill-opacity="0.5"/>
<circle cx="158.49" cy="768.3" r="3.5" fill="#000" fill-opacity="0.5"/>
<circle cx="157.86" cy="771.1" r="3.5" fill="#000" fill-opacity="0.5"/>
<circle cx="162.16" cy="757.9" r="3.5" fill="#000" fill-opacity="0.5"/>
<circle cx="157.68" cy="766.8" r="3.5" fill="#000" fill-opacity="0.5"/>
<circle cx="161.09" cy="759.97" r="3.5" fill="#000" fill-opacity="0.45"/>
<circle cx="158.45" cy="764.73" r="3.5" fill="#000" fill-opacity="0.45"/>
<text x="159.8" y="752.51" text-anchor="middle" class="lab">b</text>
<path d="M172.3 741V743.5M172.3 756.4V758M169.7 741H174.9M169.7 758H174.9" stroke="#000" stroke-width="1.3" fill="none"/>
<rect x="168.4" y="743.5" width="7.8" height="12.9" fill="#fdcc46" fill-opacity="1" stroke="#000" stroke-width="1.8"/>
<path d="M168.4 749.95H176.2" stroke="#000" stroke-width="1.5"/>
<path d="M176.21 736.92L180.01 743.5L172.41 743.5Z" fill="#000" fill-opacity="0.5"/>
<path d="M176.02 739.42L179.82 746L172.22 746Z" fill="#000" fill-opacity="0.5"/>
<path d="M168.78 752.32L172.58 758.9L164.98 758.9Z" fill="#000" fill-opacity="0.5"/>
<path d="M169.9 753.92L173.7 760.5L166.1 760.5Z" fill="#000" fill-opacity="0.5"/>
<path d="M170.19 740.92L173.99 747.5L166.39 747.5Z" fill="#000" fill-opacity="0.5"/>
<path d="M169.58 750.82L173.38 757.4L165.78 757.4Z" fill="#000" fill-opacity="0.5"/>
<path d="M169.01 744.58L172.81 751.16L165.21 751.16Z" fill="#000" fill-opacity="0.5"/>
<path d="M173.28 743.29L177.08 749.87L169.48 749.87Z" fill="#000" fill-opacity="0.45"/>
<path d="M172.52 748.45L176.32 755.03L168.72 755.03Z" fill="#000" fill-opacity="0.45"/>
<text x="172.3" y="738.69" text-anchor="middle" class="lab">a</text>
<path d="M208.9 607V610M208.9 635.7V637M206.3 607H211.5M206.3 637H211.5" stroke="#000" stroke-width="1.3" fill="none"/>
<rect x="205" y="610" width="7.8" height="25.7" fill="#4f9ae0" fill-opacity="1" stroke="#000" stroke-width="1.8"/>
<path d="M205 622.85H212.8" stroke="#000" stroke-width="1.5"/>
<circle cx="210.45" cy="607" r="3.5" fill="#000" fill-opacity="0.5"/>
<circle cx="206.22" cy="610" r="3.5" fill="#000" fill-opacity="0.5"/>
<circle cx="212.34" cy="635.7" r="3.5" fill="#000" fill-opacity="0.5"/>
<circle cx="207.89" cy="637" r="3.5" fill="#000" fill-opacity="0.5"/>
<circle cx="210.21" cy="611.5" r="3.5" fill="#000" fill-opacity="0.5"/>
<circle cx="204.81" cy="634.2" r="3.5" fill="#000" fill-opacity="0.5"/>
<circle cx="212.96" cy="620.28" r="3.5" fill="#000" fill-opacity="0.5"/>
<circle cx="211.75" cy="627.99" r="3.5" fill="#000" fill-opacity="0.5"/>
<text x="208.9" y="606.01" text-anchor="middle" class="lab">bc</text>
<path d="M221.3 650V653.2M221.3 676.2V678M218.7 650H223.9M218.7 678H223.9" stroke="#000" stroke-width="1.3" fill="none"/>
<rect x="217.4" y="653.2" width="7.8" height="23" fill="#4f9ae0" fill-opacity="1" stroke="#000" stroke-width="1.8"/>
<path d="M217.4 664.7H225.2" stroke="#000" stroke-width="1.5"/>
<path d="M219.39 645.92L223.19 652.5L215.59 652.5Z" fill="#000" fill-opacity="0.5"/>
<path d="M217.3 649.12L221.1 655.7L213.5 655.7Z" fill="#000" fill-opacity="0.5"/>
<path d="M218.71 672.12L222.51 678.7L214.91 678.7Z" fill="#000" fill-opacity="0.5"/>
<path d="M217.3 673.92L221.1 680.5L213.5 680.5Z" fill="#000" fill-opacity="0.5"/>
<path d="M218.73 650.62L222.53 657.2L214.93 657.2Z" fill="#000" fill-opacity="0.5"/>
<path d="M218.29 670.62L222.09 677.2L214.49 677.2Z" fill="#000" fill-opacity="0.5"/>
<path d="M222.6 658.32L226.4 664.9L218.8 664.9Z" fill="#000" fill-opacity="0.5"/>
<path d="M225.15 665.22L228.95 671.8L221.35 671.8Z" fill="#000" fill-opacity="0.5"/>
<text x="221.3" y="649.21" text-anchor="middle" class="lab">b</text>
<path d="M233.8 622.8V624M233.8 629V630.2M231.2 622.8H236.4M231.2 630.2H236.4" stroke="#000" stroke-width="1.3" fill="none"/>
<rect x="229.9" y="624" width="7.8" height="5" fill="#18a3a4" fill-opacity="1" stroke="#000" stroke-width="1.8"/>
<path d="M229.9 626.5H237.7" stroke="#000" stroke-width="1.5"/>
<circle cx="235.52" cy="623.8" r="3.5" fill="#000" fill-opacity="0.55"/>
<circle cx="233.25" cy="625.3" r="3.5" fill="#000" fill-opacity="0.55"/>
<circle cx="234.82" cy="624" r="3.5" fill="#000" fill-opacity="0.55"/>
<circle cx="232.9" cy="626.5" r="3.5" fill="#000" fill-opacity="0.55"/>
<circle cx="232.42" cy="629" r="3.5" fill="#000" fill-opacity="0.55"/>
<circle cx="233.3" cy="628.7" r="3.5" fill="#000" fill-opacity="0.55"/>
<circle cx="234.11" cy="629.7" r="3.5" fill="#000" fill-opacity="0.55"/>
<circle cx="231.5" cy="627.5" r="3.5" fill="#000" fill-opacity="0.55"/>
<circle cx="237.18" cy="625" r="3.5" fill="#000" fill-opacity="0.55"/>
<circle cx="234.72" cy="628" r="3.5" fill="#000" fill-opacity="0.55"/>
<circle cx="235.13" cy="625.5" r="3.5" fill="#000" fill-opacity="0.45"/>
<circle cx="232.68" cy="627.5" r="3.5" fill="#000" fill-opacity="0.45"/>
<text x="233.8" y="619.89" text-anchor="middle" class="lab">c</text>
<path d="M246.1 642.1V644.9M246.1 663.3V665M243.5 642.1H248.7M243.5 665H248.7" stroke="#000" stroke-width="1.3" fill="none"/>
<rect x="242.2" y="644.9" width="7.8" height="18.4" fill="#18a3a4" fill-opacity="1" stroke="#000" stroke-width="1.8"/>
<path d="M242.2 654.1H250" stroke="#000" stroke-width="1.5"/>
<path d="M243.98 638.02L247.78 644.6L240.18 644.6Z" fill="#000" fill-opacity="0.5"/>
<path d="M248.77 640.82L252.57 647.4L244.97 647.4Z" fill="#000" fill-opacity="0.5"/>
<path d="M249.22 659.22L253.02 665.8L245.42 665.8Z" fill="#000" fill-opacity="0.5"/>
<path d="M247.64 660.92L251.44 667.5L243.84 667.5Z" fill="#000" fill-opacity="0.5"/>
<path d="M249.3 642.32L253.1 648.9L245.5 648.9Z" fill="#000" fill-opacity="0.5"/>
<path d="M248.95 657.72L252.75 664.3L245.15 664.3Z" fill="#000" fill-opacity="0.5"/>
<path d="M244.03 648.18L247.83 654.76L240.23 654.76Z" fill="#000" fill-opacity="0.5"/>
<text x="246.1" y="641.91" text-anchor="middle" class="lab">ab</text>
<path d="M258.6 606.3V608M258.6 615V616.4M256 606.3H261.2M256 616.4H261.2" stroke="#000" stroke-width="1.3" fill="none"/>
<rect x="254.7" y="608" width="7.8" height="7" fill="#f08484" fill-opacity="1" stroke="#000" stroke-width="1.8"/>
<path d="M254.7 611.5H262.5" stroke="#000" stroke-width="1.5"/>
<circle cx="259.6" cy="607.3" r="3.5" fill="#000" fill-opacity="0.55"/>
<circle cx="259.98" cy="608.8" r="3.5" fill="#000" fill-opacity="0.55"/>
<circle cx="258.65" cy="608" r="3.5" fill="#000" fill-opacity="0.55"/>
<circle cx="256.97" cy="611.5" r="3.5" fill="#000" fill-opacity="0.55"/>
<circle cx="260.38" cy="615" r="3.5" fill="#000" fill-opacity="0.55"/>
<circle cx="260.89" cy="614.9" r="3.5" fill="#000" fill-opacity="0.55"/>
<circle cx="259.42" cy="615.9" r="3.5" fill="#000" fill-opacity="0.55"/>
<circle cx="260.16" cy="612.5" r="3.5" fill="#000" fill-opacity="0.55"/>
<circle cx="261.92" cy="609" r="3.5" fill="#000" fill-opacity="0.55"/>
<circle cx="260.16" cy="614" r="3.5" fill="#000" fill-opacity="0.55"/>
<circle cx="258.91" cy="610.1" r="3.5" fill="#000" fill-opacity="0.45"/>
<circle cx="258.15" cy="612.9" r="3.5" fill="#000" fill-opacity="0.45"/>
<text x="258.6" y="604.21" text-anchor="middle" class="lab">ab</text>
<path d="M270.4 638V640.3M270.4 656.8V658M267.8 638H273M267.8 658H273" stroke="#000" stroke-width="1.3" fill="none"/>
<rect x="266.5" y="640.3" width="7.8" height="16.5" fill="#f08484" fill-opacity="1" stroke="#000" stroke-width="1.8"/>
<path d="M266.5 648.55H274.3" stroke="#000" stroke-width="1.5"/>
<path d="M268.35 633.92L272.15 640.5L264.55 640.5Z" fill="#000" fill-opacity="0.5"/>
<path d="M268.57 636.22L272.37 642.8L264.77 642.8Z" fill="#000" fill-opacity="0.5"/>
<path d="M268.87 652.72L272.67 659.3L265.07 659.3Z" fill="#000" fill-opacity="0.5"/>
<path d="M268.77 653.92L272.57 660.5L264.97 660.5Z" fill="#000" fill-opacity="0.5"/>
<path d="M266.25 637.72L270.05 644.3L262.45 644.3Z" fill="#000" fill-opacity="0.5"/>
<path d="M273.75 651.22L277.55 657.8L269.95 657.8Z" fill="#000" fill-opacity="0.5"/>
<path d="M272.28 642.82L276.08 649.4L268.48 649.4Z" fill="#000" fill-opacity="0.5"/>
<text x="270.4" y="634.6" text-anchor="middle" class="lab">a</text>
<path d="M282.9 589.7V595.2M282.9 619.1V625.6M280.3 589.7H285.5M280.3 625.6H285.5" stroke="#000" stroke-width="1.3" fill="none"/>
<rect x="279" y="595.2" width="7.8" height="23.9" fill="#fdcc46" fill-opacity="1" stroke="#000" stroke-width="1.8"/>
<path d="M279 607.15H286.8" stroke="#000" stroke-width="1.5"/>
<circle cx="279.86" cy="589.7" r="3.5" fill="#000" fill-opacity="0.5"/>
<circle cx="281" cy="595.2" r="3.5" fill="#000" fill-opacity="0.5"/>
<circle cx="285.38" cy="619.1" r="3.5" fill="#000" fill-opacity="0.5"/>
<circle cx="280.62" cy="625.6" r="3.5" fill="#000" fill-opacity="0.5"/>
<circle cx="286.12" cy="596.7" r="3.5" fill="#000" fill-opacity="0.5"/>
<circle cx="285.38" cy="617.6" r="3.5" fill="#000" fill-opacity="0.5"/>
<circle cx="281.08" cy="604.76" r="3.5" fill="#000" fill-opacity="0.5"/>
<circle cx="283.92" cy="611.93" r="3.5" fill="#000" fill-opacity="0.5"/>
<text x="282.9" y="585.79" text-anchor="middle" class="lab">a</text>
<path d="M294.8 633V635.7M294.8 655.9V657M292.2 633H297.4M292.2 657H297.4" stroke="#000" stroke-width="1.3" fill="none"/>
<rect x="290.9" y="635.7" width="7.8" height="20.2" fill="#fdcc46" fill-opacity="1" stroke="#000" stroke-width="1.8"/>
<path d="M290.9 645.8H298.7" stroke="#000" stroke-width="1.5"/>
<path d="M290.89 628.92L294.69 635.5L287.09 635.5Z" fill="#000" fill-opacity="0.5"/>
<path d="M298.04 631.62L301.84 638.2L294.24 638.2Z" fill="#000" fill-opacity="0.5"/>
<path d="M298.51 651.82L302.31 658.4L294.71 658.4Z" fill="#000" fill-opacity="0.5"/>
<path d="M291.63 652.92L295.43 659.5L287.83 659.5Z" fill="#000" fill-opacity="0.5"/>
<path d="M292.35 633.12L296.15 639.7L288.55 639.7Z" fill="#000" fill-opacity="0.5"/>
<path d="M296.63 650.32L300.43 656.9L292.83 656.9Z" fill="#000" fill-opacity="0.5"/>
<path d="M290.94 639.7L294.74 646.28L287.14 646.28Z" fill="#000" fill-opacity="0.5"/>
<path d="M291.3 645.76L295.1 652.34L287.5 652.34Z" fill="#000" fill-opacity="0.5"/>
<text x="294.8" y="628.1" text-anchor="middle" class="lab">a</text>
<path d="M331.3 644V646.8M331.3 667V669M328.7 644H333.9M328.7 669H333.9" stroke="#000" stroke-width="1.3" fill="none"/>
<rect x="327.4" y="646.8" width="7.8" height="20.2" fill="#4f9ae0" fill-opacity="1" stroke="#000" stroke-width="1.8"/>
<path d="M327.4 656.9H335.2" stroke="#000" stroke-width="1.5"/>
<circle cx="329.5" cy="644" r="3.5" fill="#000" fill-opacity="0.5"/>
<circle cx="333.84" cy="646.8" r="3.5" fill="#000" fill-opacity="0.5"/>
<circle cx="328.31" cy="667" r="3.5" fill="#000" fill-opacity="0.5"/>
<circle cx="333.96" cy="669" r="3.5" fill="#000" fill-opacity="0.5"/>
<circle cx="327.44" cy="648.3" r="3.5" fill="#000" fill-opacity="0.5"/>
<circle cx="334.79" cy="665.5" r="3.5" fill="#000" fill-opacity="0.5"/>
<circle cx="334.96" cy="654.88" r="3.5" fill="#000" fill-opacity="0.5"/>
<circle cx="330.18" cy="660.94" r="3.5" fill="#000" fill-opacity="0.5"/>
<text x="331.3" y="642" text-anchor="middle" class="lab">a</text>
<path d="M344.2 681V683.6M344.2 702V704M341.6 681H346.8M341.6 704H346.8" stroke="#000" stroke-width="1.3" fill="none"/>
<rect x="340.3" y="683.6" width="7.8" height="18.4" fill="#4f9ae0" fill-opacity="1" stroke="#000" stroke-width="1.8"/>
<path d="M340.3 692.8H348.1" stroke="#000" stroke-width="1.5"/>
<path d="M342.69 676.92L346.49 683.5L338.89 683.5Z" fill="#000" fill-opacity="0.5"/>
<path d="M341.54 679.52L345.34 686.1L337.74 686.1Z" fill="#000" fill-opacity="0.5"/>
<path d="M340.49 697.92L344.29 704.5L336.69 704.5Z" fill="#000" fill-opacity="0.5"/>
<path d="M346.93 699.92L350.73 706.5L343.13 706.5Z" fill="#000" fill-opacity="0.5"/>
<path d="M346.84 681.02L350.64 687.6L343.04 687.6Z" fill="#000" fill-opacity="0.5"/>
<path d="M346.87 696.42L350.67 703L343.07 703Z" fill="#000" fill-opacity="0.5"/>
<path d="M347.57 686.88L351.37 693.46L343.77 693.46Z" fill="#000" fill-opacity="0.5"/>
<text x="344.2" y="681.51" text-anchor="middle" class="lab">b</text>
<path d="M356.1 658.7V660M356.1 667V668.9M353.5 658.7H358.7M353.5 668.9H358.7" stroke="#000" stroke-width="1.3" fill="none"/>
<rect x="352.2" y="660" width="7.8" height="7" fill="#18a3a4" fill-opacity="1" stroke="#000" stroke-width="1.8"/>
<path d="M352.2 663.5H360" stroke="#000" stroke-width="1.5"/>
<circle cx="355.8" cy="659.7" r="3.5" fill="#000" fill-opacity="0.55"/>
<circle cx="359.53" cy="661.2" r="3.5" fill="#000" fill-opacity="0.55"/>
<circle cx="353.89" cy="660" r="3.5" fill="#000" fill-opacity="0.55"/>
<circle cx="356.2" cy="663.5" r="3.5" fill="#000" fill-opacity="0.55"/>
<circle cx="359.13" cy="667" r="3.5" fill="#000" fill-opacity="0.55"/>
<circle cx="357.7" cy="667.4" r="3.5" fill="#000" fill-opacity="0.55"/>
<circle cx="356.9" cy="668.4" r="3.5" fill="#000" fill-opacity="0.55"/>
<circle cx="357.06" cy="664.5" r="3.5" fill="#000" fill-opacity="0.55"/>
<circle cx="354.37" cy="661" r="3.5" fill="#000" fill-opacity="0.55"/>
<circle cx="355.27" cy="666" r="3.5" fill="#000" fill-opacity="0.55"/>
<circle cx="354.78" cy="662.1" r="3.5" fill="#000" fill-opacity="0.45"/>
<circle cx="354.83" cy="664.9" r="3.5" fill="#000" fill-opacity="0.45"/>
<text x="356.1" y="654.89" text-anchor="middle" class="lab">a</text>
<path d="M368.5 678V680.8M368.5 697.4V699M365.9 678H371.1M365.9 699H371.1" stroke="#000" stroke-width="1.3" fill="none"/>
<rect x="364.6" y="680.8" width="7.8" height="16.6" fill="#18a3a4" fill-opacity="1" stroke="#000" stroke-width="1.8"/>
<path d="M364.6 689.1H372.4" stroke="#000" stroke-width="1.5"/>
<path d="M371.51 673.92L375.31 680.5L367.71 680.5Z" fill="#000" fill-opacity="0.5"/>
<path d="M371.36 676.72L375.16 683.3L367.56 683.3Z" fill="#000" fill-opacity="0.5"/>
<path d="M366.78 693.32L370.58 699.9L362.98 699.9Z" fill="#000" fill-opacity="0.5"/>
<path d="M372.51 694.92L376.31 701.5L368.71 701.5Z" fill="#000" fill-opacity="0.5"/>
<path d="M364.32 678.22L368.12 684.8L360.52 684.8Z" fill="#000" fill-opacity="0.5"/>
<path d="M370.98 691.82L374.78 698.4L367.18 698.4Z" fill="#000" fill-opacity="0.5"/>
<path d="M367.09 683.36L370.89 689.94L363.29 689.94Z" fill="#000" fill-opacity="0.5"/>
<text x="368.5" y="676.91" text-anchor="middle" class="lab">b</text>
<path d="M380.6 651.4V653M380.6 659V660.6M378 651.4H383.2M378 660.6H383.2" stroke="#000" stroke-width="1.3" fill="none"/>
<rect x="376.7" y="653" width="7.8" height="6" fill="#f08484" fill-opacity="1" stroke="#000" stroke-width="1.8"/>
<path d="M376.7 656H384.5" stroke="#000" stroke-width="1.5"/>
<circle cx="382.54" cy="652.4" r="3.5" fill="#000" fill-opacity="0.55"/>
<circle cx="382.77" cy="653.9" r="3.5" fill="#000" fill-opacity="0.55"/>
<circle cx="381.54" cy="653" r="3.5" fill="#000" fill-opacity="0.55"/>
<circle cx="380.38" cy="656" r="3.5" fill="#000" fill-opacity="0.55"/>
<circle cx="381.03" cy="659" r="3.5" fill="#000" fill-opacity="0.55"/>
<circle cx="378.68" cy="659.1" r="3.5" fill="#000" fill-opacity="0.55"/>
<circle cx="383.85" cy="660.1" r="3.5" fill="#000" fill-opacity="0.55"/>
<circle cx="379.57" cy="657" r="3.5" fill="#000" fill-opacity="0.55"/>
<circle cx="381.57" cy="654" r="3.5" fill="#000" fill-opacity="0.55"/>
<circle cx="382.83" cy="658" r="3.5" fill="#000" fill-opacity="0.55"/>
<circle cx="381.55" cy="654.8" r="3.5" fill="#000" fill-opacity="0.45"/>
<circle cx="380.5" cy="657.2" r="3.5" fill="#000" fill-opacity="0.45"/>
<text x="380.6" y="646.6" text-anchor="middle" class="lab">a</text>
<path d="M392.4 674V676.2M392.4 691.8V693M389.8 674H395M389.8 693H395" stroke="#000" stroke-width="1.3" fill="none"/>
<rect x="388.5" y="676.2" width="7.8" height="15.6" fill="#f08484" fill-opacity="1" stroke="#000" stroke-width="1.8"/>
<path d="M388.5 684H396.3" stroke="#000" stroke-width="1.5"/>
<path d="M395.83 669.92L399.63 676.5L392.03 676.5Z" fill="#000" fill-opacity="0.5"/>
<path d="M388.9 672.12L392.7 678.7L385.1 678.7Z" fill="#000" fill-opacity="0.5"/>
<path d="M394.54 687.72L398.34 694.3L390.74 694.3Z" fill="#000" fill-opacity="0.5"/>
<path d="M390.54 688.92L394.34 695.5L386.74 695.5Z" fill="#000" fill-opacity="0.5"/>
<path d="M395.6 673.62L399.4 680.2L391.8 680.2Z" fill="#000" fill-opacity="0.5"/>
<path d="M395.57 686.22L399.37 692.8L391.77 692.8Z" fill="#000" fill-opacity="0.5"/>
<path d="M393.41 678.36L397.21 684.94L389.61 684.94Z" fill="#000" fill-opacity="0.5"/>
<text x="392.4" y="672.31" text-anchor="middle" class="lab">ab</text>
<path d="M405.4 645V647.7M405.4 670.7V674.4M402.8 645H408M402.8 674.4H408" stroke="#000" stroke-width="1.3" fill="none"/>
<rect x="401.5" y="647.7" width="7.8" height="23" fill="#fdcc46" fill-opacity="1" stroke="#000" stroke-width="1.8"/>
<path d="M401.5 659.2H409.3" stroke="#000" stroke-width="1.5"/>
<circle cx="407.55" cy="645" r="3.5" fill="#000" fill-opacity="0.5"/>
<circle cx="407.43" cy="647.7" r="3.5" fill="#000" fill-opacity="0.5"/>
<circle cx="407.77" cy="670.7" r="3.5" fill="#000" fill-opacity="0.5"/>
<circle cx="402.29" cy="674.4" r="3.5" fill="#000" fill-opacity="0.5"/>
<circle cx="406.89" cy="649.2" r="3.5" fill="#000" fill-opacity="0.5"/>
<circle cx="409.13" cy="669.2" r="3.5" fill="#000" fill-opacity="0.5"/>
<circle cx="404.13" cy="656.9" r="3.5" fill="#000" fill-opacity="0.5"/>
<circle cx="408.91" cy="663.8" r="3.5" fill="#000" fill-opacity="0.5"/>
<text x="405.4" y="642.89" text-anchor="middle" class="lab">a</text>
<path d="M417.2 666V668.9M417.2 683.6V685M414.6 666H419.8M414.6 685H419.8" stroke="#000" stroke-width="1.3" fill="none"/>
<rect x="413.3" y="668.9" width="7.8" height="14.7" fill="#fdcc46" fill-opacity="1" stroke="#000" stroke-width="1.8"/>
<path d="M413.3 676.25H421.1" stroke="#000" stroke-width="1.5"/>
<path d="M414.5 661.92L418.3 668.5L410.7 668.5Z" fill="#000" fill-opacity="0.5"/>
<path d="M420.23 664.82L424.03 671.4L416.43 671.4Z" fill="#000" fill-opacity="0.5"/>
<path d="M414.1 679.52L417.9 686.1L410.3 686.1Z" fill="#000" fill-opacity="0.5"/>
<path d="M413.15 680.92L416.95 687.5L409.35 687.5Z" fill="#000" fill-opacity="0.5"/>
<path d="M419 666.32L422.8 672.9L415.2 672.9Z" fill="#000" fill-opacity="0.5"/>
<path d="M414.35 678.02L418.15 684.6L410.55 684.6Z" fill="#000" fill-opacity="0.5"/>
<path d="M415.61 670.7L419.41 677.28L411.81 677.28Z" fill="#000" fill-opacity="0.5"/>
<text x="417.2" y="661.29" text-anchor="middle" class="lab">a</text>
<path d="M454.9 712V714.8M454.9 729.5V732.3M452.3 712H457.5M452.3 732.3H457.5" stroke="#000" stroke-width="1.3" fill="none"/>
<rect x="451" y="714.8" width="7.8" height="14.7" fill="#4f9ae0" fill-opacity="1" stroke="#000" stroke-width="1.8"/>
<path d="M451 722.15H458.8" stroke="#000" stroke-width="1.5"/>
<circle cx="457.01" cy="712" r="3.5" fill="#000" fill-opacity="0.5"/>
<circle cx="453.23" cy="714.8" r="3.5" fill="#000" fill-opacity="0.5"/>
<circle cx="458.43" cy="729.5" r="3.5" fill="#000" fill-opacity="0.5"/>
<circle cx="451.95" cy="732.3" r="3.5" fill="#000" fill-opacity="0.5"/>
<circle cx="451.76" cy="716.3" r="3.5" fill="#000" fill-opacity="0.5"/>
<circle cx="456.53" cy="728" r="3.5" fill="#000" fill-opacity="0.5"/>
<circle cx="452.2" cy="720.68" r="3.5" fill="#000" fill-opacity="0.5"/>
<text x="454.9" y="707.29" text-anchor="middle" class="lab">a</text>
<path d="M466.8 713V717.6M466.8 731.4V733M464.2 713H469.4M464.2 733H469.4" stroke="#000" stroke-width="1.3" fill="none"/>
<rect x="462.9" y="717.6" width="7.8" height="13.8" fill="#4f9ae0" fill-opacity="1" stroke="#000" stroke-width="1.8"/>
<path d="M462.9 724.5H470.7" stroke="#000" stroke-width="1.5"/>
<path d="M469.95 708.92L473.75 715.5L466.15 715.5Z" fill="#000" fill-opacity="0.5"/>
<path d="M464.02 713.52L467.82 720.1L460.22 720.1Z" fill="#000" fill-opacity="0.5"/>
<path d="M469.14 727.32L472.94 733.9L465.34 733.9Z" fill="#000" fill-opacity="0.5"/>
<path d="M464.29 728.92L468.09 735.5L460.49 735.5Z" fill="#000" fill-opacity="0.5"/>
<path d="M464.25 715.02L468.05 721.6L460.45 721.6Z" fill="#000" fill-opacity="0.5"/>
<path d="M463.56 725.82L467.36 732.4L459.76 732.4Z" fill="#000" fill-opacity="0.5"/>
<path d="M464.21 719.04L468.01 725.62L460.41 725.62Z" fill="#000" fill-opacity="0.5"/>
<text x="466.8" y="710" text-anchor="middle" class="lab">a</text>
<path d="M479.1 725V727M479.1 732V734.1M476.5 725H481.7M476.5 734.1H481.7" stroke="#000" stroke-width="1.3" fill="none"/>
<rect x="475.2" y="727" width="7.8" height="5" fill="#18a3a4" fill-opacity="1" stroke="#000" stroke-width="1.8"/>
<path d="M475.2 729.5H483" stroke="#000" stroke-width="1.5"/>
<circle cx="479.38" cy="726" r="3.5" fill="#000" fill-opacity="0.55"/>
<circle cx="481.64" cy="727.5" r="3.5" fill="#000" fill-opacity="0.55"/>
<circle cx="475.65" cy="727" r="3.5" fill="#000" fill-opacity="0.55"/>
<circle cx="481.49" cy="729.5" r="3.5" fill="#000" fill-opacity="0.55"/>
<circle cx="478.88" cy="732" r="3.5" fill="#000" fill-opacity="0.55"/>
<circle cx="479.54" cy="732.6" r="3.5" fill="#000" fill-opacity="0.55"/>
<circle cx="480.26" cy="733.6" r="3.5" fill="#000" fill-opacity="0.55"/>
<circle cx="481.48" cy="730.5" r="3.5" fill="#000" fill-opacity="0.55"/>
<circle cx="478.22" cy="728" r="3.5" fill="#000" fill-opacity="0.55"/>
<circle cx="478.53" cy="731" r="3.5" fill="#000" fill-opacity="0.55"/>
<circle cx="480.48" cy="728.5" r="3.5" fill="#000" fill-opacity="0.45"/>
<circle cx="477.83" cy="730.5" r="3.5" fill="#000" fill-opacity="0.45"/>
<text x="479.1" y="721.91" text-anchor="middle" class="lab">ab</text>
<path d="M491.6 714V716.7M491.6 730.5V732M489 714H494.2M489 732H494.2" stroke="#000" stroke-width="1.3" fill="none"/>
<rect x="487.7" y="716.7" width="7.8" height="13.8" fill="#18a3a4" fill-opacity="1" stroke="#000" stroke-width="1.8"/>
<path d="M487.7 723.6H495.5" stroke="#000" stroke-width="1.5"/>
<path d="M494.64 709.92L498.44 716.5L490.84 716.5Z" fill="#000" fill-opacity="0.5"/>
<path d="M490.53 712.62L494.33 719.2L486.73 719.2Z" fill="#000" fill-opacity="0.5"/>
<path d="M488.42 726.42L492.22 733L484.62 733Z" fill="#000" fill-opacity="0.5"/>
<path d="M495.19 727.92L498.99 734.5L491.39 734.5Z" fill="#000" fill-opacity="0.5"/>
<path d="M488.97 714.12L492.77 720.7L485.17 720.7Z" fill="#000" fill-opacity="0.5"/>
<path d="M495.02 724.92L498.82 731.5L491.22 731.5Z" fill="#000" fill-opacity="0.5"/>
<path d="M490.49 718.14L494.29 724.72L486.69 724.72Z" fill="#000" fill-opacity="0.5"/>
<text x="491.6" y="711.89" text-anchor="middle" class="lab">a</text>
<path d="M504 719.4V721M504 727V728.6M501.4 719.4H506.6M501.4 728.6H506.6" stroke="#000" stroke-width="1.3" fill="none"/>
<rect x="500.1" y="721" width="7.8" height="6" fill="#f08484" fill-opacity="1" stroke="#000" stroke-width="1.8"/>
<path d="M500.1 724H507.9" stroke="#000" stroke-width="1.5"/>
<circle cx="505.53" cy="720.4" r="3.5" fill="#000" fill-opacity="0.55"/>
<circle cx="504.88" cy="721.9" r="3.5" fill="#000" fill-opacity="0.55"/>
<circle cx="502.87" cy="721" r="3.5" fill="#000" fill-opacity="0.55"/>
<circle cx="506.53" cy="724" r="3.5" fill="#000" fill-opacity="0.55"/>
<circle cx="503.06" cy="727" r="3.5" fill="#000" fill-opacity="0.55"/>
<circle cx="503.82" cy="727.1" r="3.5" fill="#000" fill-opacity="0.55"/>
<circle cx="504.18" cy="728.1" r="3.5" fill="#000" fill-opacity="0.55"/>
<circle cx="505.89" cy="725" r="3.5" fill="#000" fill-opacity="0.55"/>
<circle cx="501.98" cy="722" r="3.5" fill="#000" fill-opacity="0.55"/>
<circle cx="503.55" cy="726" r="3.5" fill="#000" fill-opacity="0.55"/>
<circle cx="503.77" cy="722.8" r="3.5" fill="#000" fill-opacity="0.45"/>
<circle cx="504.16" cy="725.2" r="3.5" fill="#000" fill-opacity="0.45"/>
<text x="504" y="715.51" text-anchor="middle" class="lab">ab</text>
<path d="M515.9 711V713M515.9 727.7V729M513.3 711H518.5M513.3 729H518.5" stroke="#000" stroke-width="1.3" fill="none"/>
<rect x="512" y="713" width="7.8" height="14.7" fill="#f08484" fill-opacity="1" stroke="#000" stroke-width="1.8"/>
<path d="M512 720.35H519.8" stroke="#000" stroke-width="1.5"/>
<path d="M517.84 706.92L521.64 713.5L514.04 713.5Z" fill="#000" fill-opacity="0.5"/>
<path d="M518.19 708.92L521.99 715.5L514.39 715.5Z" fill="#000" fill-opacity="0.5"/>
<path d="M519.69 723.62L523.49 730.2L515.89 730.2Z" fill="#000" fill-opacity="0.5"/>
<path d="M520.02 724.92L523.82 731.5L516.22 731.5Z" fill="#000" fill-opacity="0.5"/>
<path d="M519.43 710.42L523.23 717L515.63 717Z" fill="#000" fill-opacity="0.5"/>
<path d="M517.52 722.12L521.32 728.7L513.72 728.7Z" fill="#000" fill-opacity="0.5"/>
<path d="M517.31 714.8L521.11 721.38L513.51 721.38Z" fill="#000" fill-opacity="0.5"/>
<text x="515.9" y="706.39" text-anchor="middle" class="lab">a</text>
<path d="M528.8 723V727.7M528.8 743.3V747M526.2 723H531.4M526.2 747H531.4" stroke="#000" stroke-width="1.3" fill="none"/>
<rect x="524.9" y="727.7" width="7.8" height="15.6" fill="#fdcc46" fill-opacity="1" stroke="#000" stroke-width="1.8"/>
<path d="M524.9 735.5H532.7" stroke="#000" stroke-width="1.5"/>
<circle cx="525.29" cy="723" r="3.5" fill="#000" fill-opacity="0.5"/>
<circle cx="526.52" cy="727.7" r="3.5" fill="#000" fill-opacity="0.5"/>
<circle cx="531.55" cy="743.3" r="3.5" fill="#000" fill-opacity="0.5"/>
<circle cx="526.52" cy="747" r="3.5" fill="#000" fill-opacity="0.5"/>
<circle cx="527.78" cy="729.2" r="3.5" fill="#000" fill-opacity="0.5"/>
<circle cx="525.17" cy="741.8" r="3.5" fill="#000" fill-opacity="0.5"/>
<circle cx="531.75" cy="733.94" r="3.5" fill="#000" fill-opacity="0.5"/>
<text x="528.8" y="721.91" text-anchor="middle" class="lab">b</text>
<path d="M539.8 713V715.7M539.8 727.7V729M537.2 713H542.4M537.2 729H542.4" stroke="#000" stroke-width="1.3" fill="none"/>
<rect x="535.9" y="715.7" width="7.8" height="12" fill="#fdcc46" fill-opacity="1" stroke="#000" stroke-width="1.8"/>
<path d="M535.9 721.7H543.7" stroke="#000" stroke-width="1.5"/>
<path d="M536.28 708.92L540.08 715.5L532.48 715.5Z" fill="#000" fill-opacity="0.5"/>
<path d="M542.77 711.62L546.57 718.2L538.97 718.2Z" fill="#000" fill-opacity="0.5"/>
<path d="M538.12 723.62L541.92 730.2L534.32 730.2Z" fill="#000" fill-opacity="0.5"/>
<path d="M542.8 724.92L546.6 731.5L539 731.5Z" fill="#000" fill-opacity="0.5"/>
<path d="M538.48 713.12L542.28 719.7L534.68 719.7Z" fill="#000" fill-opacity="0.5"/>
<path d="M536.02 722.12L539.82 728.7L532.22 728.7Z" fill="#000" fill-opacity="0.5"/>
<path d="M539.56 715.22L543.36 721.8L535.76 721.8Z" fill="#000" fill-opacity="0.45"/>
<path d="M538.6 720.02L542.4 726.6L534.8 726.6Z" fill="#000" fill-opacity="0.45"/>
<text x="539.8" y="711" text-anchor="middle" class="lab">a</text>
<path d="M577.3 790V792M577.3 798V800M574.7 790H579.9M574.7 800H579.9" stroke="#000" stroke-width="1.3" fill="none"/>
<rect x="573.4" y="792" width="7.8" height="6" fill="#4f9ae0" fill-opacity="1" stroke="#000" stroke-width="1.8"/>
<path d="M573.4 795H581.2" stroke="#000" stroke-width="1.5"/>
<circle cx="580.31" cy="791" r="3.5" fill="#000" fill-opacity="0.55"/>
<circle cx="573.89" cy="792.5" r="3.5" fill="#000" fill-opacity="0.55"/>
<circle cx="579.9" cy="792" r="3.5" fill="#000" fill-opacity="0.55"/>
<circle cx="574.77" cy="795" r="3.5" fill="#000" fill-opacity="0.55"/>
<circle cx="575.97" cy="798" r="3.5" fill="#000" fill-opacity="0.55"/>
<circle cx="578.77" cy="798.5" r="3.5" fill="#000" fill-opacity="0.55"/>
<circle cx="579.84" cy="799.5" r="3.5" fill="#000" fill-opacity="0.55"/>
<circle cx="575.09" cy="796" r="3.5" fill="#000" fill-opacity="0.55"/>
<circle cx="574.04" cy="793" r="3.5" fill="#000" fill-opacity="0.55"/>
<circle cx="573.94" cy="797" r="3.5" fill="#000" fill-opacity="0.55"/>
<circle cx="577.5" cy="793.8" r="3.5" fill="#000" fill-opacity="0.45"/>
<circle cx="577.53" cy="796.2" r="3.5" fill="#000" fill-opacity="0.45"/>
<text x="577.3" y="787" text-anchor="middle" class="lab">a</text>
<path d="M589.3 786V788.1M589.3 796.4V798M586.7 786H591.9M586.7 798H591.9" stroke="#000" stroke-width="1.3" fill="none"/>
<rect x="585.4" y="788.1" width="7.8" height="8.3" fill="#4f9ae0" fill-opacity="1" stroke="#000" stroke-width="1.8"/>
<path d="M585.4 792.25H593.2" stroke="#000" stroke-width="1.5"/>
<path d="M586.71 781.92L590.51 788.5L582.91 788.5Z" fill="#000" fill-opacity="0.5"/>
<path d="M585.66 784.02L589.46 790.6L581.86 790.6Z" fill="#000" fill-opacity="0.5"/>
<path d="M592.14 792.32L595.94 798.9L588.34 798.9Z" fill="#000" fill-opacity="0.5"/>
<path d="M591.73 793.92L595.53 800.5L587.93 800.5Z" fill="#000" fill-opacity="0.5"/>
<path d="M586.12 785.52L589.92 792.1L582.32 792.1Z" fill="#000" fill-opacity="0.5"/>
<path d="M586.78 790.82L590.58 797.4L582.98 797.4Z" fill="#000" fill-opacity="0.5"/>
<path d="M589.04 786.51L592.84 793.09L585.24 793.09Z" fill="#000" fill-opacity="0.45"/>
<path d="M588.11 789.83L591.91 796.41L584.31 796.41Z" fill="#000" fill-opacity="0.45"/>
<text x="589.3" y="785.11" text-anchor="middle" class="lab">b</text>
<path d="M602.1 791.8V793M602.1 799V800M599.5 791.8H604.7M599.5 800H604.7" stroke="#000" stroke-width="1.3" fill="none"/>
<rect x="598.2" y="793" width="7.8" height="6" fill="#18a3a4" fill-opacity="1" stroke="#000" stroke-width="1.8"/>
<path d="M598.2 796H606" stroke="#000" stroke-width="1.5"/>
<circle cx="603.11" cy="792.8" r="3.5" fill="#000" fill-opacity="0.55"/>
<circle cx="600.09" cy="794.3" r="3.5" fill="#000" fill-opacity="0.55"/>
<circle cx="599.66" cy="793" r="3.5" fill="#000" fill-opacity="0.55"/>
<circle cx="598.71" cy="796" r="3.5" fill="#000" fill-opacity="0.55"/>
<circle cx="598.63" cy="799" r="3.5" fill="#000" fill-opacity="0.55"/>
<circle cx="603.39" cy="798.5" r="3.5" fill="#000" fill-opacity="0.55"/>
<circle cx="599.45" cy="799.5" r="3.5" fill="#000" fill-opacity="0.55"/>
<circle cx="605.36" cy="797" r="3.5" fill="#000" fill-opacity="0.55"/>
<circle cx="599.22" cy="794" r="3.5" fill="#000" fill-opacity="0.55"/>
<circle cx="604.69" cy="798" r="3.5" fill="#000" fill-opacity="0.55"/>
<circle cx="600.99" cy="794.8" r="3.5" fill="#000" fill-opacity="0.45"/>
<circle cx="600.65" cy="797.2" r="3.5" fill="#000" fill-opacity="0.45"/>
<text x="602.1" y="788.81" text-anchor="middle" class="lab">ab</text>
<path d="M614.6 787V789M614.6 796.4V798M612 787H617.2M612 798H617.2" stroke="#000" stroke-width="1.3" fill="none"/>
<rect x="610.7" y="789" width="7.8" height="7.4" fill="#18a3a4" fill-opacity="1" stroke="#000" stroke-width="1.8"/>
<path d="M610.7 792.7H618.5" stroke="#000" stroke-width="1.5"/>
<path d="M612.16 782.92L615.96 789.5L608.36 789.5Z" fill="#000" fill-opacity="0.5"/>
<path d="M610.65 784.92L614.45 791.5L606.85 791.5Z" fill="#000" fill-opacity="0.5"/>
<path d="M618.08 792.32L621.88 798.9L614.28 798.9Z" fill="#000" fill-opacity="0.5"/>
<path d="M611.26 793.92L615.06 800.5L607.46 800.5Z" fill="#000" fill-opacity="0.5"/>
<path d="M612.66 786.42L616.46 793L608.86 793Z" fill="#000" fill-opacity="0.5"/>
<path d="M617.07 790.82L620.87 797.4L613.27 797.4Z" fill="#000" fill-opacity="0.5"/>
<path d="M615.9 787.14L619.7 793.72L612.1 793.72Z" fill="#000" fill-opacity="0.45"/>
<path d="M613.86 790.1L617.66 796.68L610.06 796.68Z" fill="#000" fill-opacity="0.45"/>
<text x="614.6" y="781.41" text-anchor="middle" class="lab">b</text>
<path d="M626.6 790.9V792M626.6 799V800M624 790.9H629.2M624 800H629.2" stroke="#000" stroke-width="1.3" fill="none"/>
<rect x="622.7" y="792" width="7.8" height="7" fill="#f08484" fill-opacity="1" stroke="#000" stroke-width="1.8"/>
<path d="M622.7 795.5H630.5" stroke="#000" stroke-width="1.5"/>
<circle cx="629.85" cy="791.9" r="3.5" fill="#000" fill-opacity="0.55"/>
<circle cx="628.12" cy="793.4" r="3.5" fill="#000" fill-opacity="0.55"/>
<circle cx="623.18" cy="792" r="3.5" fill="#000" fill-opacity="0.55"/>
<circle cx="623.2" cy="795.5" r="3.5" fill="#000" fill-opacity="0.55"/>
<circle cx="627.65" cy="799" r="3.5" fill="#000" fill-opacity="0.55"/>
<circle cx="628.82" cy="798.5" r="3.5" fill="#000" fill-opacity="0.55"/>
<circle cx="623.66" cy="799.5" r="3.5" fill="#000" fill-opacity="0.55"/>
<circle cx="625.28" cy="796.5" r="3.5" fill="#000" fill-opacity="0.55"/>
<circle cx="628.21" cy="793" r="3.5" fill="#000" fill-opacity="0.55"/>
<circle cx="624.26" cy="798" r="3.5" fill="#000" fill-opacity="0.55"/>
<circle cx="627.68" cy="794.1" r="3.5" fill="#000" fill-opacity="0.45"/>
<circle cx="626.56" cy="796.9" r="3.5" fill="#000" fill-opacity="0.45"/>
<text x="626.6" y="788.81" text-anchor="middle" class="lab">ab</text>
<path d="M638.9 786V788.1M638.9 795.5V797M636.3 786H641.5M636.3 797H641.5" stroke="#000" stroke-width="1.3" fill="none"/>
<rect x="635" y="788.1" width="7.8" height="7.4" fill="#f08484" fill-opacity="1" stroke="#000" stroke-width="1.8"/>
<path d="M635 791.8H642.8" stroke="#000" stroke-width="1.5"/>
<path d="M636.89 781.92L640.69 788.5L633.09 788.5Z" fill="#000" fill-opacity="0.5"/>
<path d="M641.4 784.02L645.2 790.6L637.6 790.6Z" fill="#000" fill-opacity="0.5"/>
<path d="M637.44 791.42L641.24 798L633.64 798Z" fill="#000" fill-opacity="0.5"/>
<path d="M636.74 792.92L640.54 799.5L632.94 799.5Z" fill="#000" fill-opacity="0.5"/>
<path d="M635.88 785.52L639.68 792.1L632.08 792.1Z" fill="#000" fill-opacity="0.5"/>
<path d="M641.43 789.92L645.23 796.5L637.63 796.5Z" fill="#000" fill-opacity="0.5"/>
<path d="M639.73 786.24L643.53 792.82L635.93 792.82Z" fill="#000" fill-opacity="0.45"/>
<path d="M638.76 789.2L642.56 795.78L634.96 795.78Z" fill="#000" fill-opacity="0.45"/>
<text x="638.9" y="777.81" text-anchor="middle" class="lab">ab</text>
<path d="M651.3 791V794.5M651.3 803.7V809.3M648.7 791H653.9M648.7 809.3H653.9" stroke="#000" stroke-width="1.3" fill="none"/>
<rect x="647.4" y="794.5" width="7.8" height="9.2" fill="#fdcc46" fill-opacity="1" stroke="#000" stroke-width="1.8"/>
<path d="M647.4 799.1H655.2" stroke="#000" stroke-width="1.5"/>
<circle cx="654.81" cy="791" r="3.5" fill="#000" fill-opacity="0.5"/>
<circle cx="653.24" cy="794.5" r="3.5" fill="#000" fill-opacity="0.5"/>
<circle cx="648.31" cy="803.7" r="3.5" fill="#000" fill-opacity="0.5"/>
<circle cx="655.08" cy="809.3" r="3.5" fill="#000" fill-opacity="0.5"/>
<circle cx="647.64" cy="796" r="3.5" fill="#000" fill-opacity="0.5"/>
<circle cx="654.17" cy="802.2" r="3.5" fill="#000" fill-opacity="0.5"/>
<circle cx="652.73" cy="797.26" r="3.5" fill="#000" fill-opacity="0.45"/>
<circle cx="650.54" cy="800.94" r="3.5" fill="#000" fill-opacity="0.45"/>
<text x="651.3" y="790.61" text-anchor="middle" class="lab">b</text>
<path d="M663.4 781V783.5M663.4 790V794.5M660.8 781H666M660.8 794.5H666" stroke="#000" stroke-width="1.3" fill="none"/>
<rect x="659.5" y="783.5" width="7.8" height="6.5" fill="#fdcc46" fill-opacity="1" stroke="#000" stroke-width="1.8"/>
<path d="M659.5 786.75H667.3" stroke="#000" stroke-width="1.5"/>
<path d="M666.59 776.92L670.39 783.5L662.79 783.5Z" fill="#000" fill-opacity="0.5"/>
<path d="M659.82 779.42L663.62 786L656.02 786Z" fill="#000" fill-opacity="0.5"/>
<path d="M666.6 785.92L670.4 792.5L662.8 792.5Z" fill="#000" fill-opacity="0.5"/>
<path d="M665.24 790.42L669.04 797L661.44 797Z" fill="#000" fill-opacity="0.5"/>
<path d="M664.9 780.92L668.7 787.5L661.1 787.5Z" fill="#000" fill-opacity="0.5"/>
<path d="M661.48 784.42L665.28 791L657.68 791Z" fill="#000" fill-opacity="0.5"/>
<path d="M662.32 781.37L666.12 787.95L658.52 787.95Z" fill="#000" fill-opacity="0.45"/>
<path d="M664.57 783.97L668.37 790.55L660.77 790.55Z" fill="#000" fill-opacity="0.45"/>
<text x="663.4" y="776.89" text-anchor="middle" class="lab">a</text>
<path d="M86.6 1099.9V1102M86.6 1107V1109.1M84 1099.9H89.2M84 1109.1H89.2" stroke="#000" stroke-width="1.3" fill="none"/>
<rect x="82.7" y="1102" width="7.8" height="5" fill="#4f9ae0" fill-opacity="1" stroke="#000" stroke-width="1.8"/>
<path d="M82.7 1104.5H90.5" stroke="#000" stroke-width="1.5"/>
<circle cx="90.05" cy="1100.9" r="3.5" fill="#000" fill-opacity="0.55"/>
<circle cx="84.13" cy="1102.4" r="3.5" fill="#000" fill-opacity="0.55"/>
<circle cx="89.93" cy="1102" r="3.5" fill="#000" fill-opacity="0.55"/>
<circle cx="88.68" cy="1104.5" r="3.5" fill="#000" fill-opacity="0.55"/>
<circle cx="86.93" cy="1107" r="3.5" fill="#000" fill-opacity="0.55"/>
<circle cx="88.54" cy="1107.6" r="3.5" fill="#000" fill-opacity="0.55"/>
<circle cx="86.6" cy="1108.6" r="3.5" fill="#000" fill-opacity="0.55"/>
<circle cx="86.84" cy="1105.5" r="3.5" fill="#000" fill-opacity="0.55"/>
<circle cx="86.88" cy="1103" r="3.5" fill="#000" fill-opacity="0.55"/>
<circle cx="86.49" cy="1106" r="3.5" fill="#000" fill-opacity="0.55"/>
<circle cx="86.25" cy="1103.5" r="3.5" fill="#000" fill-opacity="0.45"/>
<circle cx="87.46" cy="1105.5" r="3.5" fill="#000" fill-opacity="0.45"/>
<text x="86.6" y="1096.91" text-anchor="middle" class="lab">b</text>
<path d="M99.1 1061.3V1065.9M99.1 1076.9V1079M96.5 1061.3H101.7M96.5 1079H101.7" stroke="#000" stroke-width="1.3" fill="none"/>
<rect x="95.2" y="1065.9" width="7.8" height="11" fill="#4f9ae0" fill-opacity="1" stroke="#000" stroke-width="1.8"/>
<path d="M95.2 1071.4H103" stroke="#000" stroke-width="1.5"/>
<path d="M97.11 1057.22L100.91 1063.8L93.31 1063.8Z" fill="#000" fill-opacity="0.5"/>
<path d="M95.93 1061.82L99.73 1068.4L92.13 1068.4Z" fill="#000" fill-opacity="0.5"/>
<path d="M102.37 1072.82L106.17 1079.4L98.57 1079.4Z" fill="#000" fill-opacity="0.5"/>
<path d="M101.98 1074.92L105.78 1081.5L98.18 1081.5Z" fill="#000" fill-opacity="0.5"/>
<path d="M95.57 1063.32L99.37 1069.9L91.77 1069.9Z" fill="#000" fill-opacity="0.5"/>
<path d="M101.83 1071.32L105.63 1077.9L98.03 1077.9Z" fill="#000" fill-opacity="0.5"/>
<path d="M99.21 1065.12L103.01 1071.7L95.41 1071.7Z" fill="#000" fill-opacity="0.45"/>
<path d="M98.67 1069.52L102.47 1076.1L94.87 1076.1Z" fill="#000" fill-opacity="0.45"/>
<text x="99.1" y="1059.21" text-anchor="middle" class="lab">ab</text>
<path d="M111.1 1086.1V1088M111.1 1096V1099M108.5 1086.1H113.7M108.5 1099H113.7" stroke="#000" stroke-width="1.3" fill="none"/>
<rect x="107.2" y="1088" width="7.8" height="8" fill="#18a3a4" fill-opacity="1" stroke="#000" stroke-width="1.8"/>
<path d="M107.2 1092H115" stroke="#000" stroke-width="1.5"/>
<circle cx="108.04" cy="1087.1" r="3.5" fill="#000" fill-opacity="0.55"/>
<circle cx="110.39" cy="1088.6" r="3.5" fill="#000" fill-opacity="0.55"/>
<circle cx="111.25" cy="1088" r="3.5" fill="#000" fill-opacity="0.55"/>
<circle cx="109.42" cy="1092" r="3.5" fill="#000" fill-opacity="0.55"/>
<circle cx="113.43" cy="1096" r="3.5" fill="#000" fill-opacity="0.55"/>
<circle cx="109.85" cy="1097.5" r="3.5" fill="#000" fill-opacity="0.55"/>
<circle cx="111.14" cy="1098.5" r="3.5" fill="#000" fill-opacity="0.55"/>
<circle cx="109.01" cy="1093" r="3.5" fill="#000" fill-opacity="0.55"/>
<circle cx="109.09" cy="1089" r="3.5" fill="#000" fill-opacity="0.55"/>
<circle cx="108.25" cy="1095" r="3.5" fill="#000" fill-opacity="0.55"/>
<circle cx="112.02" cy="1090.4" r="3.5" fill="#000" fill-opacity="0.45"/>
<circle cx="110.47" cy="1093.6" r="3.5" fill="#000" fill-opacity="0.45"/>
<text x="111.1" y="1083.1" text-anchor="middle" class="lab">a</text>
<path d="M123.9 1054.8V1059.4M123.9 1071.4V1073M121.3 1054.8H126.5M121.3 1073H126.5" stroke="#000" stroke-width="1.3" fill="none"/>
<rect x="120" y="1059.4" width="7.8" height="12" fill="#18a3a4" fill-opacity="1" stroke="#000" stroke-width="1.8"/>
<path d="M120 1065.4H127.8" stroke="#000" stroke-width="1.5"/>
<path d="M126.19 1050.72L129.99 1057.3L122.39 1057.3Z" fill="#000" fill-opacity="0.5"/>
<path d="M122.11 1055.32L125.91 1061.9L118.31 1061.9Z" fill="#000" fill-opacity="0.5"/>
<path d="M126.1 1067.32L129.9 1073.9L122.3 1073.9Z" fill="#000" fill-opacity="0.5"/>
<path d="M121.71 1068.92L125.51 1075.5L117.91 1075.5Z" fill="#000" fill-opacity="0.5"/>
<path d="M127.42 1056.82L131.22 1063.4L123.62 1063.4Z" fill="#000" fill-opacity="0.5"/>
<path d="M121.89 1065.82L125.69 1072.4L118.09 1072.4Z" fill="#000" fill-opacity="0.5"/>
<path d="M122.49 1058.92L126.29 1065.5L118.69 1065.5Z" fill="#000" fill-opacity="0.45"/>
<path d="M123.24 1063.72L127.04 1070.3L119.44 1070.3Z" fill="#000" fill-opacity="0.45"/>
<text x="123.9" y="1051.89" text-anchor="middle" class="lab">a</text>
<path d="M135.9 1089.8V1092.5M135.9 1105.4V1108.2M133.3 1089.8H138.5M133.3 1108.2H138.5" stroke="#000" stroke-width="1.3" fill="none"/>
<rect x="132" y="1092.5" width="7.8" height="12.9" fill="#f08484" fill-opacity="1" stroke="#000" stroke-width="1.8"/>
<path d="M132 1098.95H139.8" stroke="#000" stroke-width="1.5"/>
<circle cx="134.6" cy="1089.8" r="3.5" fill="#000" fill-opacity="0.5"/>
<circle cx="131.73" cy="1092.5" r="3.5" fill="#000" fill-opacity="0.5"/>
<circle cx="138.78" cy="1105.4" r="3.5" fill="#000" fill-opacity="0.5"/>
<circle cx="134.06" cy="1108.2" r="3.5" fill="#000" fill-opacity="0.5"/>
<circle cx="138.26" cy="1094" r="3.5" fill="#000" fill-opacity="0.5"/>
<circle cx="139.36" cy="1103.9" r="3.5" fill="#000" fill-opacity="0.5"/>
<circle cx="134.09" cy="1097.66" r="3.5" fill="#000" fill-opacity="0.5"/>
<circle cx="134.51" cy="1096.37" r="3.5" fill="#000" fill-opacity="0.45"/>
<circle cx="135" cy="1101.53" r="3.5" fill="#000" fill-opacity="0.45"/>
<text x="135.9" y="1087.71" text-anchor="middle" class="lab">ab</text>
<path d="M148.2 1064V1068.6M148.2 1078.7V1084.3M145.6 1064H150.8M145.6 1084.3H150.8" stroke="#000" stroke-width="1.3" fill="none"/>
<rect x="144.3" y="1068.6" width="7.8" height="10.1" fill="#f08484" fill-opacity="1" stroke="#000" stroke-width="1.8"/>
<path d="M144.3 1073.65H152.1" stroke="#000" stroke-width="1.5"/>
<path d="M145.99 1059.92L149.79 1066.5L142.19 1066.5Z" fill="#000" fill-opacity="0.5"/>
<path d="M147.04 1064.52L150.84 1071.1L143.24 1071.1Z" fill="#000" fill-opacity="0.5"/>
<path d="M151.99 1074.62L155.79 1081.2L148.19 1081.2Z" fill="#000" fill-opacity="0.5"/>
<path d="M150.76 1080.22L154.56 1086.8L146.96 1086.8Z" fill="#000" fill-opacity="0.5"/>
<path d="M144.44 1066.02L148.24 1072.6L140.64 1072.6Z" fill="#000" fill-opacity="0.5"/>
<path d="M152.15 1073.12L155.95 1079.7L148.35 1079.7Z" fill="#000" fill-opacity="0.5"/>
<path d="M148.82 1067.55L152.62 1074.13L145.02 1074.13Z" fill="#000" fill-opacity="0.45"/>
<path d="M146.97 1071.59L150.77 1078.17L143.17 1078.17Z" fill="#000" fill-opacity="0.45"/>
<text x="148.2" y="1063.81" text-anchor="middle" class="lab">b</text>
<path d="M160.4 1079.7V1085.2M160.4 1096.2V1108.2M157.8 1079.7H163M157.8 1108.2H163" stroke="#000" stroke-width="1.3" fill="none"/>
<rect x="156.5" y="1085.2" width="7.8" height="11" fill="#fdcc46" fill-opacity="1" stroke="#000" stroke-width="1.8"/>
<path d="M156.5 1090.7H164.3" stroke="#000" stroke-width="1.5"/>
<circle cx="163.21" cy="1079.7" r="3.5" fill="#000" fill-opacity="0.5"/>
<circle cx="156.34" cy="1085.2" r="3.5" fill="#000" fill-opacity="0.5"/>
<circle cx="161.98" cy="1096.2" r="3.5" fill="#000" fill-opacity="0.5"/>
<circle cx="158.21" cy="1108.2" r="3.5" fill="#000" fill-opacity="0.5"/>
<circle cx="156.23" cy="1086.7" r="3.5" fill="#000" fill-opacity="0.5"/>
<circle cx="158.85" cy="1094.7" r="3.5" fill="#000" fill-opacity="0.5"/>
<circle cx="161.73" cy="1088.5" r="3.5" fill="#000" fill-opacity="0.45"/>
<circle cx="161.72" cy="1092.9" r="3.5" fill="#000" fill-opacity="0.45"/>
<text x="160.4" y="1073.89" text-anchor="middle" class="lab">a</text>
<path d="M172.3 1060V1063.1M172.3 1075.1V1083.3M169.7 1060H174.9M169.7 1083.3H174.9" stroke="#000" stroke-width="1.3" fill="none"/>
<rect x="168.4" y="1063.1" width="7.8" height="12" fill="#fdcc46" fill-opacity="1" stroke="#000" stroke-width="1.8"/>
<path d="M168.4 1069.1H176.2" stroke="#000" stroke-width="1.5"/>
<path d="M168.41 1055.92L172.21 1062.5L164.61 1062.5Z" fill="#000" fill-opacity="0.5"/>
<path d="M168.62 1059.02L172.42 1065.6L164.82 1065.6Z" fill="#000" fill-opacity="0.5"/>
<path d="M170.47 1071.02L174.27 1077.6L166.67 1077.6Z" fill="#000" fill-opacity="0.5"/>
<path d="M173.48 1079.22L177.28 1085.8L169.68 1085.8Z" fill="#000" fill-opacity="0.5"/>
<path d="M170.28 1060.52L174.08 1067.1L166.48 1067.1Z" fill="#000" fill-opacity="0.5"/>
<path d="M168.29 1069.52L172.09 1076.1L164.49 1076.1Z" fill="#000" fill-opacity="0.5"/>
<path d="M172.83 1062.62L176.63 1069.2L169.03 1069.2Z" fill="#000" fill-opacity="0.45"/>
<path d="M171.7 1067.42L175.5 1074L167.9 1074Z" fill="#000" fill-opacity="0.45"/>
<text x="172.3" y="1060.11" text-anchor="middle" class="lab">ab</text>
<path d="M209.3 1055V1057M209.3 1068V1070.8M206.7 1055H211.9M206.7 1070.8H211.9" stroke="#000" stroke-width="1.3" fill="none"/>
<rect x="205.4" y="1057" width="7.8" height="11" fill="#4f9ae0" fill-opacity="1" stroke="#000" stroke-width="1.8"/>
<path d="M205.4 1062.5H213.2" stroke="#000" stroke-width="1.5"/>
<circle cx="212.73" cy="1055" r="3.5" fill="#000" fill-opacity="0.5"/>
<circle cx="206.79" cy="1057" r="3.5" fill="#000" fill-opacity="0.5"/>
<circle cx="211.12" cy="1068" r="3.5" fill="#000" fill-opacity="0.5"/>
<circle cx="207.1" cy="1070.8" r="3.5" fill="#000" fill-opacity="0.5"/>
<circle cx="210.84" cy="1058.5" r="3.5" fill="#000" fill-opacity="0.5"/>
<circle cx="205.72" cy="1066.5" r="3.5" fill="#000" fill-opacity="0.5"/>
<circle cx="210.54" cy="1060.3" r="3.5" fill="#000" fill-opacity="0.45"/>
<circle cx="210.48" cy="1064.7" r="3.5" fill="#000" fill-opacity="0.45"/>
<text x="209.3" y="1052.21" text-anchor="middle" class="lab">b</text>
<path d="M221.6 1042.3V1051.5M221.6 1063.5V1065M219 1042.3H224.2M219 1065H224.2" stroke="#000" stroke-width="1.3" fill="none"/>
<rect x="217.7" y="1051.5" width="7.8" height="12" fill="#4f9ae0" fill-opacity="1" stroke="#000" stroke-width="1.8"/>
<path d="M217.7 1057.5H225.5" stroke="#000" stroke-width="1.5"/>
<path d="M224.9 1038.22L228.7 1044.8L221.1 1044.8Z" fill="#000" fill-opacity="0.5"/>
<path d="M218.04 1047.42L221.84 1054L214.24 1054Z" fill="#000" fill-opacity="0.5"/>
<path d="M217.63 1059.42L221.43 1066L213.83 1066Z" fill="#000" fill-opacity="0.5"/>
<path d="M220.35 1060.92L224.15 1067.5L216.55 1067.5Z" fill="#000" fill-opacity="0.5"/>
<path d="M225.44 1048.92L229.24 1055.5L221.64 1055.5Z" fill="#000" fill-opacity="0.5"/>
<path d="M218.11 1057.92L221.91 1064.5L214.31 1064.5Z" fill="#000" fill-opacity="0.5"/>
<path d="M222.97 1051.02L226.77 1057.6L219.17 1057.6Z" fill="#000" fill-opacity="0.45"/>
<path d="M222.88 1055.82L226.68 1062.4L219.08 1062.4Z" fill="#000" fill-opacity="0.45"/>
<text x="221.6" y="1039.31" text-anchor="middle" class="lab">b</text>
<path d="M234.1 1043V1046.9M234.1 1070.8V1076.3M231.5 1043H236.7M231.5 1076.3H236.7" stroke="#000" stroke-width="1.3" fill="none"/>
<rect x="230.2" y="1046.9" width="7.8" height="23.9" fill="#18a3a4" fill-opacity="1" stroke="#000" stroke-width="1.8"/>
<path d="M230.2 1058.85H238" stroke="#000" stroke-width="1.5"/>
<circle cx="237.8" cy="1043" r="3.5" fill="#000" fill-opacity="0.5"/>
<circle cx="231.65" cy="1046.9" r="3.5" fill="#000" fill-opacity="0.5"/>
<circle cx="236.13" cy="1070.8" r="3.5" fill="#000" fill-opacity="0.5"/>
<circle cx="231.57" cy="1076.3" r="3.5" fill="#000" fill-opacity="0.5"/>
<circle cx="235.56" cy="1048.4" r="3.5" fill="#000" fill-opacity="0.5"/>
<circle cx="230.74" cy="1069.3" r="3.5" fill="#000" fill-opacity="0.5"/>
<circle cx="230.82" cy="1056.46" r="3.5" fill="#000" fill-opacity="0.5"/>
<circle cx="231.7" cy="1063.63" r="3.5" fill="#000" fill-opacity="0.5"/>
<text x="234.1" y="1040.21" text-anchor="middle" class="lab">ab</text>
<path d="M246.5 1030.3V1042.3M246.5 1056.1V1058M243.9 1030.3H249.1M243.9 1058H249.1" stroke="#000" stroke-width="1.3" fill="none"/>
<rect x="242.6" y="1042.3" width="7.8" height="13.8" fill="#18a3a4" fill-opacity="1" stroke="#000" stroke-width="1.8"/>
<path d="M242.6 1049.2H250.4" stroke="#000" stroke-width="1.5"/>
<path d="M244.65 1026.22L248.45 1032.8L240.85 1032.8Z" fill="#000" fill-opacity="0.5"/>
<path d="M248.29 1038.22L252.09 1044.8L244.49 1044.8Z" fill="#000" fill-opacity="0.5"/>
<path d="M244.63 1052.02L248.43 1058.6L240.83 1058.6Z" fill="#000" fill-opacity="0.5"/>
<path d="M248.57 1053.92L252.37 1060.5L244.77 1060.5Z" fill="#000" fill-opacity="0.5"/>
<path d="M244.67 1039.72L248.47 1046.3L240.87 1046.3Z" fill="#000" fill-opacity="0.5"/>
<path d="M244.48 1050.52L248.28 1057.1L240.68 1057.1Z" fill="#000" fill-opacity="0.5"/>
<path d="M247.87 1043.74L251.67 1050.32L244.07 1050.32Z" fill="#000" fill-opacity="0.5"/>
<text x="246.5" y="1028.31" text-anchor="middle" class="lab">ab</text>
<path d="M258.6 1032.2V1034.9M258.6 1049.7V1063.5M256 1032.2H261.2M256 1063.5H261.2" stroke="#000" stroke-width="1.3" fill="none"/>
<rect x="254.7" y="1034.9" width="7.8" height="14.8" fill="#f08484" fill-opacity="1" stroke="#000" stroke-width="1.8"/>
<path d="M254.7 1042.3H262.5" stroke="#000" stroke-width="1.5"/>
<circle cx="255.58" cy="1032.2" r="3.5" fill="#000" fill-opacity="0.5"/>
<circle cx="255.81" cy="1034.9" r="3.5" fill="#000" fill-opacity="0.5"/>
<circle cx="259.98" cy="1049.7" r="3.5" fill="#000" fill-opacity="0.5"/>
<circle cx="254.49" cy="1063.5" r="3.5" fill="#000" fill-opacity="0.5"/>
<circle cx="262.77" cy="1036.4" r="3.5" fill="#000" fill-opacity="0.5"/>
<circle cx="254.64" cy="1048.2" r="3.5" fill="#000" fill-opacity="0.5"/>
<circle cx="256.35" cy="1040.82" r="3.5" fill="#000" fill-opacity="0.5"/>
<text x="258.6" y="1028.3" text-anchor="middle" class="lab">a</text>
<path d="M270.9 1049.7V1051M270.9 1055V1056.1M268.3 1049.7H273.5M268.3 1056.1H273.5" stroke="#000" stroke-width="1.3" fill="none"/>
<rect x="267" y="1051" width="7.8" height="4" fill="#f08484" fill-opacity="1" stroke="#000" stroke-width="1.8"/>
<path d="M267 1053H274.8" stroke="#000" stroke-width="1.5"/>
<path d="M270.31 1046.62L274.11 1053.2L266.51 1053.2Z" fill="#000" fill-opacity="0.55"/>
<path d="M268.54 1048.12L272.34 1054.7L264.74 1054.7Z" fill="#000" fill-opacity="0.55"/>
<path d="M273.23 1046.92L277.03 1053.5L269.43 1053.5Z" fill="#000" fill-opacity="0.55"/>
<path d="M274.25 1048.92L278.05 1055.5L270.45 1055.5Z" fill="#000" fill-opacity="0.55"/>
<path d="M268.41 1050.92L272.21 1057.5L264.61 1057.5Z" fill="#000" fill-opacity="0.55"/>
<path d="M271.88 1050.52L275.68 1057.1L268.08 1057.1Z" fill="#000" fill-opacity="0.55"/>
<path d="M270.49 1051.52L274.29 1058.1L266.69 1058.1Z" fill="#000" fill-opacity="0.55"/>
<path d="M270.95 1049.92L274.75 1056.5L267.15 1056.5Z" fill="#000" fill-opacity="0.55"/>
<path d="M270.98 1047.92L274.78 1054.5L267.18 1054.5Z" fill="#000" fill-opacity="0.55"/>
<path d="M270.5 1049.92L274.3 1056.5L266.7 1056.5Z" fill="#000" fill-opacity="0.55"/>
<path d="M271.77 1048.12L275.57 1054.7L267.97 1054.7Z" fill="#000" fill-opacity="0.45"/>
<path d="M272.23 1049.72L276.03 1056.3L268.43 1056.3Z" fill="#000" fill-opacity="0.45"/>
<text x="270.9" y="1044.81" text-anchor="middle" class="lab">b</text>
<path d="M283.4 1036V1038.6M283.4 1062.5V1064M280.8 1036H286M280.8 1064H286" stroke="#000" stroke-width="1.3" fill="none"/>
<rect x="279.5" y="1038.6" width="7.8" height="23.9" fill="#fdcc46" fill-opacity="1" stroke="#000" stroke-width="1.8"/>
<path d="M279.5 1050.55H287.3" stroke="#000" stroke-width="1.5"/>
<circle cx="284.99" cy="1036" r="3.5" fill="#000" fill-opacity="0.5"/>
<circle cx="284.53" cy="1038.6" r="3.5" fill="#000" fill-opacity="0.5"/>
<circle cx="285.1" cy="1062.5" r="3.5" fill="#000" fill-opacity="0.5"/>
<circle cx="281.96" cy="1064" r="3.5" fill="#000" fill-opacity="0.5"/>
<circle cx="280.73" cy="1040.1" r="3.5" fill="#000" fill-opacity="0.5"/>
<circle cx="280.12" cy="1061" r="3.5" fill="#000" fill-opacity="0.5"/>
<circle cx="280.48" cy="1048.16" r="3.5" fill="#000" fill-opacity="0.5"/>
<circle cx="279.55" cy="1055.33" r="3.5" fill="#000" fill-opacity="0.5"/>
<text x="283.4" y="1035.61" text-anchor="middle" class="lab">ab</text>
<path d="M295.8 1017.5V1022.1M295.8 1052.4V1054M293.2 1017.5H298.4M293.2 1054H298.4" stroke="#000" stroke-width="1.3" fill="none"/>
<rect x="291.9" y="1022.1" width="7.8" height="30.3" fill="#fdcc46" fill-opacity="1" stroke="#000" stroke-width="1.8"/>
<path d="M291.9 1037.25H299.7" stroke="#000" stroke-width="1.5"/>
<path d="M299.24 1013.42L303.04 1020L295.44 1020Z" fill="#000" fill-opacity="0.5"/>
<path d="M294.14 1018.02L297.94 1024.6L290.34 1024.6Z" fill="#000" fill-opacity="0.5"/>
<path d="M292.93 1048.32L296.73 1054.9L289.13 1054.9Z" fill="#000" fill-opacity="0.5"/>
<path d="M294.77 1049.92L298.57 1056.5L290.97 1056.5Z" fill="#000" fill-opacity="0.5"/>
<path d="M299.49 1019.52L303.29 1026.1L295.69 1026.1Z" fill="#000" fill-opacity="0.5"/>
<path d="M293.14 1046.82L296.94 1053.4L289.34 1053.4Z" fill="#000" fill-opacity="0.5"/>
<path d="M297.87 1030.14L301.67 1036.72L294.07 1036.72Z" fill="#000" fill-opacity="0.5"/>
<path d="M297.09 1039.23L300.89 1045.81L293.29 1045.81Z" fill="#000" fill-opacity="0.5"/>
<text x="295.8" y="1012.69" text-anchor="middle" class="lab">a</text>
<path d="M332.2 974.8V979.4M332.2 989.5V991.4M329.6 974.8H334.8M329.6 991.4H334.8" stroke="#000" stroke-width="1.3" fill="none"/>
<rect x="328.3" y="979.4" width="7.8" height="10.1" fill="#4f9ae0" fill-opacity="1" stroke="#000" stroke-width="1.8"/>
<path d="M328.3 984.45H336.1" stroke="#000" stroke-width="1.5"/>
<circle cx="336.11" cy="974.8" r="3.5" fill="#000" fill-opacity="0.5"/>
<circle cx="333.63" cy="979.4" r="3.5" fill="#000" fill-opacity="0.5"/>
<circle cx="333.99" cy="989.5" r="3.5" fill="#000" fill-opacity="0.5"/>
<circle cx="333.32" cy="991.4" r="3.5" fill="#000" fill-opacity="0.5"/>
<circle cx="335.04" cy="980.9" r="3.5" fill="#000" fill-opacity="0.5"/>
<circle cx="330.06" cy="988" r="3.5" fill="#000" fill-opacity="0.5"/>
<circle cx="333.5" cy="982.43" r="3.5" fill="#000" fill-opacity="0.45"/>
<circle cx="333.61" cy="986.47" r="3.5" fill="#000" fill-opacity="0.45"/>
<text x="332.2" y="972.79" text-anchor="middle" class="lab">a</text>
<path d="M344.7 995V1001.5M344.7 1013.5V1015M342.1 995H347.3M342.1 1015H347.3" stroke="#000" stroke-width="1.3" fill="none"/>
<rect x="340.8" y="1001.5" width="7.8" height="12" fill="#4f9ae0" fill-opacity="1" stroke="#000" stroke-width="1.8"/>
<path d="M340.8 1007.5H348.6" stroke="#000" stroke-width="1.5"/>
<path d="M343.31 990.92L347.11 997.5L339.51 997.5Z" fill="#000" fill-opacity="0.5"/>
<path d="M341.09 997.42L344.89 1004L337.29 1004Z" fill="#000" fill-opacity="0.5"/>
<path d="M348.19 1009.42L351.99 1016L344.39 1016Z" fill="#000" fill-opacity="0.5"/>
<path d="M347.54 1010.92L351.34 1017.5L343.74 1017.5Z" fill="#000" fill-opacity="0.5"/>
<path d="M342.77 998.92L346.57 1005.5L338.97 1005.5Z" fill="#000" fill-opacity="0.5"/>
<path d="M340.65 1007.92L344.45 1014.5L336.85 1014.5Z" fill="#000" fill-opacity="0.5"/>
<path d="M344.68 1001.02L348.48 1007.6L340.88 1007.6Z" fill="#000" fill-opacity="0.45"/>
<path d="M344.74 1005.82L348.54 1012.4L340.94 1012.4Z" fill="#000" fill-opacity="0.45"/>
<text x="344.7" y="990.29" text-anchor="middle" class="lab">c</text>
<path d="M356.7 980V982.2M356.7 995V997M354.1 980H359.3M354.1 997H359.3" stroke="#000" stroke-width="1.3" fill="none"/>
<rect x="352.8" y="982.2" width="7.8" height="12.8" fill="#18a3a4" fill-opacity="1" stroke="#000" stroke-width="1.8"/>
<path d="M352.8 988.6H360.6" stroke="#000" stroke-width="1.5"/>
<circle cx="355.63" cy="980" r="3.5" fill="#000" fill-opacity="0.5"/>
<circle cx="354.98" cy="982.2" r="3.5" fill="#000" fill-opacity="0.5"/>
<circle cx="355.16" cy="995" r="3.5" fill="#000" fill-opacity="0.5"/>
<circle cx="358.5" cy="997" r="3.5" fill="#000" fill-opacity="0.5"/>
<circle cx="355.64" cy="983.7" r="3.5" fill="#000" fill-opacity="0.5"/>
<circle cx="354.86" cy="993.5" r="3.5" fill="#000" fill-opacity="0.5"/>
<circle cx="359.37" cy="987.32" r="3.5" fill="#000" fill-opacity="0.5"/>
<circle cx="357.31" cy="986.04" r="3.5" fill="#000" fill-opacity="0.45"/>
<circle cx="355.51" cy="991.16" r="3.5" fill="#000" fill-opacity="0.45"/>
<text x="356.7" y="977.39" text-anchor="middle" class="lab">a</text>
<path d="M369.4 983V985M369.4 1003.3V1007M366.8 983H372M366.8 1007H372" stroke="#000" stroke-width="1.3" fill="none"/>
<rect x="365.5" y="985" width="7.8" height="18.3" fill="#18a3a4" fill-opacity="1" stroke="#000" stroke-width="1.8"/>
<path d="M365.5 994.15H373.3" stroke="#000" stroke-width="1.5"/>
<path d="M366.11 978.92L369.91 985.5L362.31 985.5Z" fill="#000" fill-opacity="0.5"/>
<path d="M367.53 980.92L371.33 987.5L363.73 987.5Z" fill="#000" fill-opacity="0.5"/>
<path d="M371.98 999.22L375.78 1005.8L368.18 1005.8Z" fill="#000" fill-opacity="0.5"/>
<path d="M370.75 1002.92L374.55 1009.5L366.95 1009.5Z" fill="#000" fill-opacity="0.5"/>
<path d="M367.1 982.42L370.9 989L363.3 989Z" fill="#000" fill-opacity="0.5"/>
<path d="M366.67 997.72L370.47 1004.3L362.87 1004.3Z" fill="#000" fill-opacity="0.5"/>
<path d="M365.64 988.24L369.44 994.82L361.84 994.82Z" fill="#000" fill-opacity="0.5"/>
<text x="369.4" y="977.39" text-anchor="middle" class="lab">c</text>
<path d="M381.5 982V984M381.5 1014.4V1025.4M378.9 982H384.1M378.9 1025.4H384.1" stroke="#000" stroke-width="1.3" fill="none"/>
<rect x="377.6" y="984" width="7.8" height="30.4" fill="#4f9ae0" fill-opacity="1" stroke="#000" stroke-width="1.8"/>
<path d="M377.6 998.7H385.4" stroke="#000" stroke-width="1.5"/>
<circle cx="378.36" cy="982" r="3.5" fill="#000" fill-opacity="0.5"/>
<circle cx="384.89" cy="984" r="3.5" fill="#000" fill-opacity="0.5"/>
<circle cx="377.47" cy="1014.4" r="3.5" fill="#000" fill-opacity="0.5"/>
<circle cx="377.5" cy="1025.4" r="3.5" fill="#000" fill-opacity="0.5"/>
<circle cx="384.72" cy="985.5" r="3.5" fill="#000" fill-opacity="0.5"/>
<circle cx="379.23" cy="1012.9" r="3.5" fill="#000" fill-opacity="0.5"/>
<circle cx="378.01" cy="996.16" r="3.5" fill="#000" fill-opacity="0.5"/>
<circle cx="383.78" cy="1005.28" r="3.5" fill="#000" fill-opacity="0.5"/>
<text x="381.5" y="980.1" text-anchor="middle" class="lab">a</text>
<path d="M392.9 961V963.8M392.9 985.9V988M390.3 961H395.5M390.3 988H395.5" stroke="#000" stroke-width="1.3" fill="none"/>
<rect x="389" y="963.8" width="7.8" height="22.1" fill="#4f9ae0" fill-opacity="1" stroke="#000" stroke-width="1.8"/>
<path d="M389 975.7H396.8" stroke="#000" stroke-width="1.5"/>
<path d="M396.19 956.92L399.99 963.5L392.39 963.5Z" fill="#000" fill-opacity="0.5"/>
<path d="M396.51 959.72L400.31 966.3L392.71 966.3Z" fill="#000" fill-opacity="0.5"/>
<path d="M390.86 981.82L394.66 988.4L387.06 988.4Z" fill="#000" fill-opacity="0.5"/>
<path d="M388.83 983.92L392.63 990.5L385.03 990.5Z" fill="#000" fill-opacity="0.5"/>
<path d="M394.7 961.22L398.5 967.8L390.9 967.8Z" fill="#000" fill-opacity="0.5"/>
<path d="M396.02 980.32L399.82 986.9L392.22 986.9Z" fill="#000" fill-opacity="0.5"/>
<path d="M390.73 968.56L394.53 975.14L386.93 975.14Z" fill="#000" fill-opacity="0.5"/>
<path d="M391.68 975.19L395.48 981.77L387.88 981.77Z" fill="#000" fill-opacity="0.5"/>
<text x="392.9" y="958.61" text-anchor="middle" class="lab">b</text>
<path d="M405.8 967.2V980.3M405.8 991.4V993M403.2 967.2H408.4M403.2 993H408.4" stroke="#000" stroke-width="1.3" fill="none"/>
<rect x="401.9" y="980.3" width="7.8" height="11.1" fill="#4f9ae0" fill-opacity="1" stroke="#000" stroke-width="1.8"/>
<path d="M401.9 985.85H409.7" stroke="#000" stroke-width="1.5"/>
<circle cx="407.44" cy="967.2" r="3.5" fill="#000" fill-opacity="0.5"/>
<circle cx="404.08" cy="980.3" r="3.5" fill="#000" fill-opacity="0.5"/>
<circle cx="409.9" cy="991.4" r="3.5" fill="#000" fill-opacity="0.5"/>
<circle cx="408.83" cy="993" r="3.5" fill="#000" fill-opacity="0.5"/>
<circle cx="404.69" cy="981.8" r="3.5" fill="#000" fill-opacity="0.5"/>
<circle cx="409.74" cy="989.9" r="3.5" fill="#000" fill-opacity="0.5"/>
<circle cx="406.17" cy="983.63" r="3.5" fill="#000" fill-opacity="0.45"/>
<circle cx="406.18" cy="988.07" r="3.5" fill="#000" fill-opacity="0.45"/>
<text x="405.8" y="962.89" text-anchor="middle" class="lab">a</text>
<path d="M418.5 940.7V958.5M418.5 973V975M415.9 940.7H421.1M415.9 975H421.1" stroke="#000" stroke-width="1.3" fill="none"/>
<rect x="414.6" y="958.5" width="7.8" height="14.5" fill="#4f9ae0" fill-opacity="1" stroke="#000" stroke-width="1.8"/>
<path d="M414.6 965.75H422.4" stroke="#000" stroke-width="1.5"/>
<path d="M415.51 936.62L419.31 943.2L411.71 943.2Z" fill="#000" fill-opacity="0.5"/>
<path d="M419.89 954.42L423.69 961L416.09 961Z" fill="#000" fill-opacity="0.5"/>
<path d="M416.11 968.92L419.91 975.5L412.31 975.5Z" fill="#000" fill-opacity="0.5"/>
<path d="M416.58 970.92L420.38 977.5L412.78 977.5Z" fill="#000" fill-opacity="0.5"/>
<path d="M420.61 955.92L424.41 962.5L416.81 962.5Z" fill="#000" fill-opacity="0.5"/>
<path d="M417.11 967.42L420.91 974L413.31 974Z" fill="#000" fill-opacity="0.5"/>
<path d="M419.77 960.22L423.57 966.8L415.97 966.8Z" fill="#000" fill-opacity="0.5"/>
<text x="418.5" y="937.39" text-anchor="middle" class="lab">a</text>
<path d="M454.9 945V948M454.9 960.9V966.4M452.3 945H457.5M452.3 966.4H457.5" stroke="#000" stroke-width="1.3" fill="none"/>
<rect x="451" y="948" width="7.8" height="12.9" fill="#4f9ae0" fill-opacity="1" stroke="#000" stroke-width="1.8"/>
<path d="M451 954.45H458.8" stroke="#000" stroke-width="1.5"/>
<circle cx="452.49" cy="945" r="3.5" fill="#000" fill-opacity="0.5"/>
<circle cx="451.07" cy="948" r="3.5" fill="#000" fill-opacity="0.5"/>
<circle cx="457.75" cy="960.9" r="3.5" fill="#000" fill-opacity="0.5"/>
<circle cx="456.68" cy="966.4" r="3.5" fill="#000" fill-opacity="0.5"/>
<circle cx="451.53" cy="949.5" r="3.5" fill="#000" fill-opacity="0.5"/>
<circle cx="458.59" cy="959.4" r="3.5" fill="#000" fill-opacity="0.5"/>
<circle cx="451.82" cy="953.16" r="3.5" fill="#000" fill-opacity="0.5"/>
<circle cx="454" cy="951.87" r="3.5" fill="#000" fill-opacity="0.45"/>
<circle cx="455.53" cy="957.03" r="3.5" fill="#000" fill-opacity="0.45"/>
<text x="454.9" y="943.29" text-anchor="middle" class="lab">c</text>
<path d="M467.7 947.1V950.8M467.7 970.1V972M465.1 947.1H470.3M465.1 972H470.3" stroke="#000" stroke-width="1.3" fill="none"/>
<rect x="463.8" y="950.8" width="7.8" height="19.3" fill="#4f9ae0" fill-opacity="1" stroke="#000" stroke-width="1.8"/>
<path d="M463.8 960.45H471.6" stroke="#000" stroke-width="1.5"/>
<path d="M471.55 943.02L475.35 949.6L467.75 949.6Z" fill="#000" fill-opacity="0.5"/>
<path d="M470.66 946.72L474.46 953.3L466.86 953.3Z" fill="#000" fill-opacity="0.5"/>
<path d="M471.32 966.02L475.12 972.6L467.52 972.6Z" fill="#000" fill-opacity="0.5"/>
<path d="M465.92 967.92L469.72 974.5L462.12 974.5Z" fill="#000" fill-opacity="0.5"/>
<path d="M466.1 948.22L469.9 954.8L462.3 954.8Z" fill="#000" fill-opacity="0.5"/>
<path d="M471.8 964.52L475.6 971.1L468 971.1Z" fill="#000" fill-opacity="0.5"/>
<path d="M468.74 954.44L472.54 961.02L464.94 961.02Z" fill="#000" fill-opacity="0.5"/>
<text x="467.7" y="943.29" text-anchor="middle" class="lab">c</text>
<path d="M479.7 926.9V930.6M479.7 949V953.6M477.1 926.9H482.3M477.1 953.6H482.3" stroke="#000" stroke-width="1.3" fill="none"/>
<rect x="475.8" y="930.6" width="7.8" height="18.4" fill="#18a3a4" fill-opacity="1" stroke="#000" stroke-width="1.8"/>
<path d="M475.8 939.8H483.6" stroke="#000" stroke-width="1.5"/>
<circle cx="481.22" cy="926.9" r="3.5" fill="#000" fill-opacity="0.5"/>
<circle cx="477.66" cy="930.6" r="3.5" fill="#000" fill-opacity="0.5"/>
<circle cx="482.27" cy="949" r="3.5" fill="#000" fill-opacity="0.5"/>
<circle cx="483.51" cy="953.6" r="3.5" fill="#000" fill-opacity="0.5"/>
<circle cx="477.75" cy="932.1" r="3.5" fill="#000" fill-opacity="0.5"/>
<circle cx="478.19" cy="947.5" r="3.5" fill="#000" fill-opacity="0.5"/>
<circle cx="476.76" cy="937.96" r="3.5" fill="#000" fill-opacity="0.5"/>
<text x="479.7" y="924.81" text-anchor="middle" class="lab">b</text>
<path d="M492.4 934.3V944.4M492.4 965.5V967M489.8 934.3H495M489.8 967H495" stroke="#000" stroke-width="1.3" fill="none"/>
<rect x="488.5" y="944.4" width="7.8" height="21.1" fill="#18a3a4" fill-opacity="1" stroke="#000" stroke-width="1.8"/>
<path d="M488.5 954.95H496.3" stroke="#000" stroke-width="1.5"/>
<path d="M494.81 930.22L498.61 936.8L491.01 936.8Z" fill="#000" fill-opacity="0.5"/>
<path d="M489.75 940.32L493.55 946.9L485.95 946.9Z" fill="#000" fill-opacity="0.5"/>
<path d="M494.53 961.42L498.33 968L490.73 968Z" fill="#000" fill-opacity="0.5"/>
<path d="M489.73 962.92L493.53 969.5L485.93 969.5Z" fill="#000" fill-opacity="0.5"/>
<path d="M490.07 941.82L493.87 948.4L486.27 948.4Z" fill="#000" fill-opacity="0.5"/>
<path d="M493.85 959.92L497.65 966.5L490.05 966.5Z" fill="#000" fill-opacity="0.5"/>
<path d="M489.43 948.76L493.23 955.34L485.63 955.34Z" fill="#000" fill-opacity="0.5"/>
<path d="M496.03 955.09L499.83 961.67L492.23 961.67Z" fill="#000" fill-opacity="0.5"/>
<text x="492.4" y="924.81" text-anchor="middle" class="lab">bc</text>
<path d="M504 918.6V920M504 928V929.7M501.4 918.6H506.6M501.4 929.7H506.6" stroke="#000" stroke-width="1.3" fill="none"/>
<rect x="500.1" y="920" width="7.8" height="8" fill="#f08484" fill-opacity="1" stroke="#000" stroke-width="1.8"/>
<path d="M500.1 924H507.9" stroke="#000" stroke-width="1.5"/>
<circle cx="504.12" cy="919.6" r="3.5" fill="#000" fill-opacity="0.55"/>
<circle cx="505.67" cy="921.1" r="3.5" fill="#000" fill-opacity="0.55"/>
<circle cx="505.7" cy="920" r="3.5" fill="#000" fill-opacity="0.55"/>
<circle cx="505.82" cy="924" r="3.5" fill="#000" fill-opacity="0.55"/>
<circle cx="503.83" cy="928" r="3.5" fill="#000" fill-opacity="0.55"/>
<circle cx="505.99" cy="928.2" r="3.5" fill="#000" fill-opacity="0.55"/>
<circle cx="505.46" cy="929.2" r="3.5" fill="#000" fill-opacity="0.55"/>
<circle cx="506.9" cy="925" r="3.5" fill="#000" fill-opacity="0.55"/>
<circle cx="501.39" cy="921" r="3.5" fill="#000" fill-opacity="0.55"/>
<circle cx="506.6" cy="927" r="3.5" fill="#000" fill-opacity="0.55"/>
<circle cx="502.51" cy="922.4" r="3.5" fill="#000" fill-opacity="0.45"/>
<circle cx="504.8" cy="925.6" r="3.5" fill="#000" fill-opacity="0.45"/>
<text x="504" y="914.69" text-anchor="middle" class="lab">a</text>
<path d="M516.5 924V926M516.5 949.9V952M513.9 924H519.1M513.9 952H519.1" stroke="#000" stroke-width="1.3" fill="none"/>
<rect x="512.6" y="926" width="7.8" height="23.9" fill="#f08484" fill-opacity="1" stroke="#000" stroke-width="1.8"/>
<path d="M512.6 937.95H520.4" stroke="#000" stroke-width="1.5"/>
<path d="M513.91 919.92L517.71 926.5L510.11 926.5Z" fill="#000" fill-opacity="0.5"/>
<path d="M514.16 921.92L517.96 928.5L510.36 928.5Z" fill="#000" fill-opacity="0.5"/>
<path d="M520.29 945.82L524.09 952.4L516.49 952.4Z" fill="#000" fill-opacity="0.5"/>
<path d="M514.29 947.92L518.09 954.5L510.49 954.5Z" fill="#000" fill-opacity="0.5"/>
<path d="M519.72 923.42L523.52 930L515.92 930Z" fill="#000" fill-opacity="0.5"/>
<path d="M519.81 944.32L523.61 950.9L516.01 950.9Z" fill="#000" fill-opacity="0.5"/>
<path d="M518.63 931.48L522.43 938.06L514.83 938.06Z" fill="#000" fill-opacity="0.5"/>
<path d="M519.57 938.65L523.37 945.23L515.77 945.23Z" fill="#000" fill-opacity="0.5"/>
<text x="516.5" y="923.01" text-anchor="middle" class="lab">b</text>
<path d="M528.8 924V926.9M528.8 949V951M526.2 924H531.4M526.2 951H531.4" stroke="#000" stroke-width="1.3" fill="none"/>
<rect x="524.9" y="926.9" width="7.8" height="22.1" fill="#fdcc46" fill-opacity="1" stroke="#000" stroke-width="1.8"/>
<path d="M524.9 937.95H532.7" stroke="#000" stroke-width="1.5"/>
<circle cx="525.28" cy="924" r="3.5" fill="#000" fill-opacity="0.5"/>
<circle cx="531.02" cy="926.9" r="3.5" fill="#000" fill-opacity="0.5"/>
<circle cx="530.39" cy="949" r="3.5" fill="#000" fill-opacity="0.5"/>
<circle cx="532.37" cy="951" r="3.5" fill="#000" fill-opacity="0.5"/>
<circle cx="531.64" cy="928.4" r="3.5" fill="#000" fill-opacity="0.5"/>
<circle cx="527.52" cy="947.5" r="3.5" fill="#000" fill-opacity="0.5"/>
<circle cx="530.84" cy="935.74" r="3.5" fill="#000" fill-opacity="0.5"/>
<circle cx="524.73" cy="942.37" r="3.5" fill="#000" fill-opacity="0.5"/>
<text x="528.8" y="923.01" text-anchor="middle" class="lab">b</text>
<path d="M541.5 869.5V889.1M541.5 910.8V922.7M538.9 869.5H544.1M538.9 922.7H544.1" stroke="#000" stroke-width="1.3" fill="none"/>
<rect x="537.6" y="889.1" width="7.8" height="21.7" fill="#fdcc46" fill-opacity="1" stroke="#000" stroke-width="1.8"/>
<path d="M537.6 899.8H545.4" stroke="#000" stroke-width="1.5"/>
<path d="M537.39 865.42L541.19 872L533.59 872Z" fill="#000" fill-opacity="0.5"/>
<path d="M540.42 885.02L544.22 891.6L536.62 891.6Z" fill="#000" fill-opacity="0.5"/>
<path d="M544.31 906.72L548.11 913.3L540.51 913.3Z" fill="#000" fill-opacity="0.5"/>
<path d="M543.46 918.62L547.26 925.2L539.66 925.2Z" fill="#000" fill-opacity="0.5"/>
<path d="M544.22 886.52L548.02 893.1L540.42 893.1Z" fill="#000" fill-opacity="0.5"/>
<path d="M544.16 905.22L547.96 911.8L540.36 911.8Z" fill="#000" fill-opacity="0.5"/>
<path d="M543.75 893.7L547.55 900.28L539.95 900.28Z" fill="#000" fill-opacity="0.5"/>
<path d="M542.63 900.21L546.43 906.79L538.83 906.79Z" fill="#000" fill-opacity="0.5"/>
<text x="543.9" y="873.5" text-anchor="start" class="lab">a</text>
<path d="M577.9 975V976M577.9 982V983.3M575.3 975H580.5M575.3 983.3H580.5" stroke="#000" stroke-width="1.3" fill="none"/>
<rect x="574" y="976" width="7.8" height="6" fill="#4f9ae0" fill-opacity="1" stroke="#000" stroke-width="1.8"/>
<path d="M574 979H581.8" stroke="#000" stroke-width="1.5"/>
<circle cx="579.13" cy="976" r="3.5" fill="#000" fill-opacity="0.55"/>
<circle cx="577.57" cy="977.5" r="3.5" fill="#000" fill-opacity="0.55"/>
<circle cx="574.47" cy="976" r="3.5" fill="#000" fill-opacity="0.55"/>
<circle cx="574.88" cy="979" r="3.5" fill="#000" fill-opacity="0.55"/>
<circle cx="576" cy="982" r="3.5" fill="#000" fill-opacity="0.55"/>
<circle cx="577.27" cy="981.8" r="3.5" fill="#000" fill-opacity="0.55"/>
<circle cx="577.91" cy="982.8" r="3.5" fill="#000" fill-opacity="0.55"/>
<circle cx="578.94" cy="980" r="3.5" fill="#000" fill-opacity="0.55"/>
<circle cx="580.9" cy="977" r="3.5" fill="#000" fill-opacity="0.55"/>
<circle cx="575.48" cy="981" r="3.5" fill="#000" fill-opacity="0.55"/>
<circle cx="576.96" cy="977.8" r="3.5" fill="#000" fill-opacity="0.45"/>
<circle cx="577.66" cy="980.2" r="3.5" fill="#000" fill-opacity="0.45"/>
<circle cx="577.51" cy="991.6" r="3.5" fill="#000" fill-opacity="0.5"/>
<text x="577.9" y="969.29" text-anchor="middle" class="lab">c</text>
<path d="M590.7 929V931.8M590.7 951.1V953M588.1 929H593.3M588.1 953H593.3" stroke="#000" stroke-width="1.3" fill="none"/>
<rect x="586.8" y="931.8" width="7.8" height="19.3" fill="#4f9ae0" fill-opacity="1" stroke="#000" stroke-width="1.8"/>
<path d="M586.8 941.9H594.6" stroke="#000" stroke-width="1.5"/>
<path d="M593.91 924.92L597.71 931.5L590.11 931.5Z" fill="#000" fill-opacity="0.5"/>
<path d="M589.15 927.72L592.95 934.3L585.35 934.3Z" fill="#000" fill-opacity="0.5"/>
<path d="M592.87 947.02L596.67 953.6L589.07 953.6Z" fill="#000" fill-opacity="0.5"/>
<path d="M587.06 948.92L590.86 955.5L583.26 955.5Z" fill="#000" fill-opacity="0.5"/>
<path d="M589.35 929.22L593.15 935.8L585.55 935.8Z" fill="#000" fill-opacity="0.5"/>
<path d="M593.91 945.52L597.71 952.1L590.11 952.1Z" fill="#000" fill-opacity="0.5"/>
<path d="M593.72 935.44L597.52 942.02L589.92 942.02Z" fill="#000" fill-opacity="0.5"/>
<text x="590.7" y="927.91" text-anchor="middle" class="lab">b</text>
<path d="M602.1 957.8V960.3M602.1 969.5V975.9M599.5 957.8H604.7M599.5 975.9H604.7" stroke="#000" stroke-width="1.3" fill="none"/>
<rect x="598.2" y="960.3" width="7.8" height="9.2" fill="#18a3a4" fill-opacity="1" stroke="#000" stroke-width="1.8"/>
<path d="M598.2 964.9H606" stroke="#000" stroke-width="1.5"/>
<circle cx="605.71" cy="957.8" r="3.5" fill="#000" fill-opacity="0.5"/>
<circle cx="599.48" cy="960.3" r="3.5" fill="#000" fill-opacity="0.5"/>
<circle cx="599.78" cy="969.5" r="3.5" fill="#000" fill-opacity="0.5"/>
<circle cx="599.08" cy="975.9" r="3.5" fill="#000" fill-opacity="0.5"/>
<circle cx="599.97" cy="961.8" r="3.5" fill="#000" fill-opacity="0.5"/>
<circle cx="598.89" cy="968" r="3.5" fill="#000" fill-opacity="0.5"/>
<circle cx="600.63" cy="963.06" r="3.5" fill="#000" fill-opacity="0.45"/>
<circle cx="600.61" cy="966.74" r="3.5" fill="#000" fill-opacity="0.45"/>
<text x="602.1" y="955.51" text-anchor="middle" class="lab">b</text>
<path d="M615 946.5V952M615 970.4V972M612.4 946.5H617.6M612.4 972H617.6" stroke="#000" stroke-width="1.3" fill="none"/>
<rect x="611.1" y="952" width="7.8" height="18.4" fill="#18a3a4" fill-opacity="1" stroke="#000" stroke-width="1.8"/>
<path d="M611.1 961.2H618.9" stroke="#000" stroke-width="1.5"/>
<path d="M611.07 942.42L614.87 949L607.27 949Z" fill="#000" fill-opacity="0.5"/>
<path d="M618.69 947.92L622.49 954.5L614.89 954.5Z" fill="#000" fill-opacity="0.5"/>
<path d="M611.86 966.32L615.66 972.9L608.06 972.9Z" fill="#000" fill-opacity="0.5"/>
<path d="M613.44 967.92L617.24 974.5L609.64 974.5Z" fill="#000" fill-opacity="0.5"/>
<path d="M618.79 949.42L622.59 956L614.99 956Z" fill="#000" fill-opacity="0.5"/>
<path d="M612.16 964.82L615.96 971.4L608.36 971.4Z" fill="#000" fill-opacity="0.5"/>
<path d="M617.93 955.28L621.73 961.86L614.13 961.86Z" fill="#000" fill-opacity="0.5"/>
<text x="615" y="942.6" text-anchor="middle" class="lab">c</text>
<path d="M627 926.3V928M627 936V937.3M624.4 926.3H629.6M624.4 937.3H629.6" stroke="#000" stroke-width="1.3" fill="none"/>
<rect x="623.1" y="928" width="7.8" height="8" fill="#f08484" fill-opacity="1" stroke="#000" stroke-width="1.8"/>
<path d="M623.1 932H630.9" stroke="#000" stroke-width="1.5"/>
<circle cx="624.52" cy="927.3" r="3.5" fill="#000" fill-opacity="0.55"/>
<circle cx="627.13" cy="928.8" r="3.5" fill="#000" fill-opacity="0.55"/>
<circle cx="627.07" cy="928" r="3.5" fill="#000" fill-opacity="0.55"/>
<circle cx="623.7" cy="932" r="3.5" fill="#000" fill-opacity="0.55"/>
<circle cx="624.03" cy="936" r="3.5" fill="#000" fill-opacity="0.55"/>
<circle cx="630.13" cy="935.8" r="3.5" fill="#000" fill-opacity="0.55"/>
<circle cx="626.93" cy="936.8" r="3.5" fill="#000" fill-opacity="0.55"/>
<circle cx="626.77" cy="933" r="3.5" fill="#000" fill-opacity="0.55"/>
<circle cx="626.51" cy="929" r="3.5" fill="#000" fill-opacity="0.55"/>
<circle cx="629.1" cy="935" r="3.5" fill="#000" fill-opacity="0.55"/>
<circle cx="627.45" cy="930.4" r="3.5" fill="#000" fill-opacity="0.45"/>
<circle cx="627.55" cy="933.6" r="3.5" fill="#000" fill-opacity="0.45"/>
<text x="627" y="922.39" text-anchor="middle" class="lab">a</text>
<path d="M638.9 931V933.6M638.9 958.5V961M636.3 931H641.5M636.3 961H641.5" stroke="#000" stroke-width="1.3" fill="none"/>
<rect x="635" y="933.6" width="7.8" height="24.9" fill="#f08484" fill-opacity="1" stroke="#000" stroke-width="1.8"/>
<path d="M635 946.5H642.8" stroke="#000" stroke-width="1.5"/>
<path d="M640.36 926.92L644.16 933.5L636.56 933.5Z" fill="#000" fill-opacity="0.5"/>
<path d="M636.77 929.52L640.57 936.1L632.97 936.1Z" fill="#000" fill-opacity="0.5"/>
<path d="M637.79 954.42L641.59 961L633.99 961Z" fill="#000" fill-opacity="0.5"/>
<path d="M635.15 956.92L638.95 963.5L631.35 963.5Z" fill="#000" fill-opacity="0.5"/>
<path d="M636.78 931.02L640.58 937.6L632.98 937.6Z" fill="#000" fill-opacity="0.5"/>
<path d="M641.9 952.92L645.7 959.5L638.1 959.5Z" fill="#000" fill-opacity="0.5"/>
<path d="M637.73 939.48L641.53 946.06L633.93 946.06Z" fill="#000" fill-opacity="0.5"/>
<path d="M641.76 946.95L645.56 953.53L637.96 953.53Z" fill="#000" fill-opacity="0.5"/>
<text x="638.9" y="930.61" text-anchor="middle" class="lab">b</text>
<path d="M651.8 956.6V959.4M651.8 989.7V991M649.2 956.6H654.4M649.2 991H654.4" stroke="#000" stroke-width="1.3" fill="none"/>
<rect x="647.9" y="959.4" width="7.8" height="30.3" fill="#fdcc46" fill-opacity="1" stroke="#000" stroke-width="1.8"/>
<path d="M647.9 974.55H655.7" stroke="#000" stroke-width="1.5"/>
<circle cx="649.39" cy="956.6" r="3.5" fill="#000" fill-opacity="0.5"/>
<circle cx="650" cy="959.4" r="3.5" fill="#000" fill-opacity="0.5"/>
<circle cx="650.29" cy="989.7" r="3.5" fill="#000" fill-opacity="0.5"/>
<circle cx="649.79" cy="991" r="3.5" fill="#000" fill-opacity="0.5"/>
<circle cx="653.77" cy="960.9" r="3.5" fill="#000" fill-opacity="0.5"/>
<circle cx="655.87" cy="988.2" r="3.5" fill="#000" fill-opacity="0.5"/>
<circle cx="655.93" cy="971.52" r="3.5" fill="#000" fill-opacity="0.5"/>
<circle cx="650.02" cy="980.61" r="3.5" fill="#000" fill-opacity="0.5"/>
<text x="651.8" y="953.61" text-anchor="middle" class="lab">b</text>
<path d="M663.8 903.3V910M663.8 929V932.7M661.2 903.3H666.4M661.2 932.7H666.4" stroke="#000" stroke-width="1.3" fill="none"/>
<rect x="659.9" y="910" width="7.8" height="19" fill="#fdcc46" fill-opacity="1" stroke="#000" stroke-width="1.8"/>
<path d="M659.9 919.5H667.7" stroke="#000" stroke-width="1.5"/>
<path d="M666.96 899.22L670.76 905.8L663.16 905.8Z" fill="#000" fill-opacity="0.5"/>
<path d="M661.48 905.92L665.28 912.5L657.68 912.5Z" fill="#000" fill-opacity="0.5"/>
<path d="M667.6 924.92L671.4 931.5L663.8 931.5Z" fill="#000" fill-opacity="0.5"/>
<path d="M664.87 928.62L668.67 935.2L661.07 935.2Z" fill="#000" fill-opacity="0.5"/>
<path d="M662.52 907.42L666.32 914L658.72 914Z" fill="#000" fill-opacity="0.5"/>
<path d="M661.65 923.42L665.45 930L657.85 930Z" fill="#000" fill-opacity="0.5"/>
<path d="M662.78 913.52L666.58 920.1L658.98 920.1Z" fill="#000" fill-opacity="0.5"/>
<text x="663.8" y="899.19" text-anchor="middle" class="lab">a</text>
<text x="129.9" y="1145" text-anchor="middle" class="sl">S1</text>
<text x="252.7" y="1145" text-anchor="middle" class="sl">S2</text>
<text x="375.5" y="1145" text-anchor="middle" class="sl">S3</text>
<text x="498.3" y="1145" text-anchor="middle" class="sl">S4</text>
<text x="621.1" y="1145" text-anchor="middle" class="sl">S5</text>
</svg>
</body></html>
